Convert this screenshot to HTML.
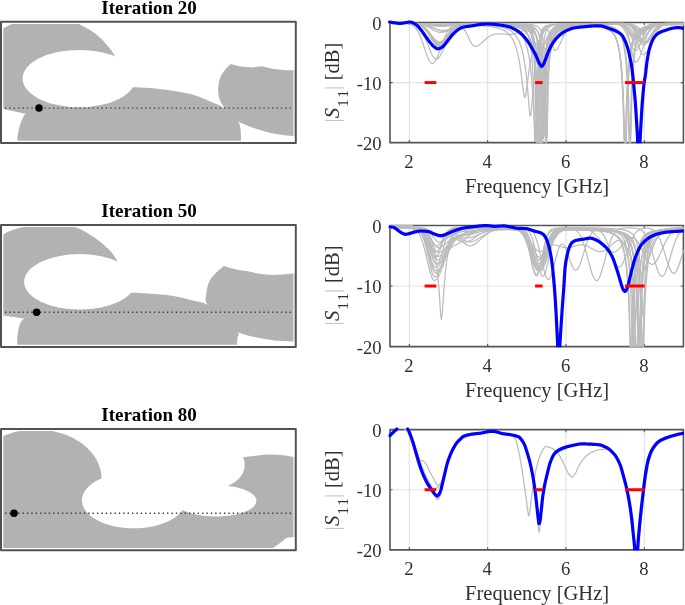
<!DOCTYPE html>
<html><head><meta charset="utf-8"><title>Iterations</title>
<style>html,body{margin:0;padding:0;background:#fff}svg{display:block}text{font-family:"Liberation Serif","Times New Roman",serif;fill:#303030}</style>
</head><body>
<svg width="685" height="605" viewBox="0 0 685 605">
<rect x="0" y="0" width="685" height="605" fill="#fff"/>
<clipPath id="dom0"><rect x="3.3" y="23.95" width="291.5" height="116.75"/></clipPath>
<clipPath id="dom1"><rect x="3.3" y="227.10" width="291.5" height="117.65"/></clipPath>
<clipPath id="dom2"><rect x="3.3" y="431.10" width="291.5" height="116.95"/></clipPath>
<g clip-path="url(#dom0)" fill="#b2b2b2">
<path d="M0.00 109.00 L0.00 29.50 C0.55 29.30 1.78 29.02 3.30 28.30 C4.82 27.58 7.07 26.00 9.10 25.20 C11.13 24.40 12.02 23.93 15.50 23.50 C18.98 23.07 24.92 22.78 30.00 22.60 C35.08 22.42 40.67 22.40 46.00 22.40 C51.33 22.40 56.90 22.42 62.00 22.60 C67.10 22.78 73.25 22.97 76.60 23.50 C79.95 24.03 79.67 24.60 82.10 25.80 C84.53 27.00 88.15 28.67 91.20 30.70 C94.25 32.73 97.93 35.78 100.40 38.00 C102.87 40.22 104.23 42.00 106.00 44.00 C107.77 46.00 109.48 47.93 111.00 50.00 C112.52 52.07 114.42 55.33 115.10 56.40 L80.00 95.00 L40.00 115.50 C37.63 115.22 30.13 114.50 25.80 113.80 C21.47 113.10 17.75 112.10 14.00 111.30 C10.25 110.50 5.63 109.50 3.30 109.00 C0.97 108.50 0.55 108.42 0.00 108.30 Z"/>
<path d="M17.60 143.00 C17.57 142.23 17.25 140.40 17.40 138.40 C17.55 136.40 18.00 133.43 18.50 131.00 C19.00 128.57 19.68 125.97 20.40 123.80 C21.12 121.63 21.90 119.67 22.80 118.00 C23.70 116.33 23.77 115.97 25.80 113.80 C27.83 111.63 29.30 108.30 35.00 105.00 C40.70 101.70 50.83 96.73 60.00 94.00 C69.17 91.27 80.00 89.73 90.00 88.60 C100.00 87.47 112.90 87.43 120.00 87.20 C127.10 86.97 127.60 87.07 132.60 87.20 C137.60 87.33 143.45 87.42 150.00 88.00 C156.55 88.58 164.60 89.53 171.90 90.70 C179.20 91.87 186.50 92.82 193.80 95.00 C201.10 97.18 211.08 101.87 215.70 103.80 C220.32 105.73 219.12 105.07 221.50 106.60 C223.88 108.13 227.20 110.50 230.00 113.00 C232.80 115.50 236.55 118.87 238.30 121.60 C240.05 124.33 240.07 127.17 240.50 129.40 C240.93 131.63 240.83 132.73 240.90 135.00 C240.97 137.27 240.90 141.67 240.90 143.00 L17.60 143.00 Z"/>
<path d="M230.80 63.90 C232.30 64.28 236.57 65.65 239.80 66.20 C243.03 66.75 246.48 67.18 250.20 67.20 C253.92 67.22 260.12 66.45 262.10 66.30 C263.83 66.70 268.78 68.10 272.50 68.70 C276.22 69.30 280.48 69.65 284.40 69.90 C288.32 70.15 294.07 70.15 296.00 70.20 L296.00 136.10 C294.07 135.97 288.82 135.87 284.40 135.30 C279.98 134.73 274.47 133.88 269.50 132.70 C264.53 131.52 258.82 129.62 254.60 128.20 C250.38 126.78 246.92 125.30 244.20 124.20 C241.48 123.10 240.67 122.97 238.30 121.60 C235.93 120.23 231.38 116.93 230.00 116.00 C228.65 114.02 223.75 107.32 221.90 104.10 C220.05 100.88 219.52 99.43 218.90 96.70 C218.28 93.97 217.95 90.93 218.20 87.70 C218.45 84.47 219.28 80.27 220.40 77.30 C221.52 74.33 223.17 72.13 224.90 69.90 C226.63 67.67 229.82 64.90 230.80 63.90 Z"/>
<ellipse cx="79.1" cy="78.6" rx="56.5" ry="28.7" fill="#fff"/>
</g>
<g clip-path="url(#dom1)" fill="#b2b2b2">
<path d="M0.00 315.00 L0.00 236.30 C0.55 236.02 1.78 235.43 3.30 234.60 C4.82 233.77 6.62 232.37 9.10 231.30 C11.58 230.23 15.15 228.98 18.20 228.20 C21.25 227.42 23.77 226.98 27.40 226.60 C31.03 226.22 36.23 226.03 40.00 225.90 C43.77 225.77 46.33 225.78 50.00 225.80 C53.67 225.82 58.17 225.85 62.00 226.00 C65.83 226.15 69.65 226.03 73.00 226.70 C76.35 227.37 79.07 228.53 82.10 230.00 C85.13 231.47 88.15 233.52 91.20 235.50 C94.25 237.48 97.35 239.47 100.40 241.90 C103.45 244.33 107.30 247.87 109.50 250.10 C111.70 252.33 112.28 253.47 113.60 255.30 C114.92 257.13 116.77 260.13 117.40 261.10 L80.00 300.00 L40.00 319.50 C37.35 319.33 28.43 318.92 24.10 318.50 C19.77 318.08 17.47 317.52 14.00 317.00 C10.53 316.48 5.63 315.73 3.30 315.40 C0.97 315.07 0.55 315.07 0.00 315.00 Z"/>
<path d="M17.50 348.00 C17.45 346.42 16.95 342.03 17.20 338.50 C17.45 334.97 18.37 329.55 19.00 326.80 C19.63 324.05 20.15 323.38 21.00 322.00 C21.85 320.62 21.77 320.67 24.10 318.50 C26.43 316.33 29.02 312.25 35.00 309.00 C40.98 305.75 50.00 301.57 60.00 299.00 C70.00 296.43 83.15 294.63 95.00 293.60 C106.85 292.57 121.93 292.78 131.10 292.80 C140.27 292.82 143.20 293.20 150.00 293.70 C156.80 294.20 164.60 294.63 171.90 295.80 C179.20 296.97 187.88 299.23 193.80 300.70 C199.72 302.17 202.20 301.72 207.40 304.60 C212.60 307.48 219.92 313.40 225.00 318.00 C230.08 322.60 235.82 328.87 237.90 332.20 C239.98 335.53 237.72 335.37 237.50 338.00 C237.28 340.63 236.75 346.33 236.60 348.00 L17.50 348.00 Z"/>
<path d="M223.80 266.00 C226.03 266.62 233.23 268.83 237.20 269.70 C241.17 270.57 245.87 270.95 247.60 271.20 C249.58 271.62 255.03 273.08 259.50 273.70 C263.97 274.32 268.32 274.98 274.40 274.90 C280.48 274.82 292.40 273.48 296.00 273.20 L296.00 341.60 C292.40 341.40 280.48 340.98 274.40 340.40 C268.32 339.82 264.47 339.10 259.50 338.10 C254.53 337.10 248.20 335.38 244.60 334.40 C241.00 333.42 241.17 333.77 237.90 332.20 C234.63 330.63 227.15 326.20 225.00 325.00 C222.07 321.60 210.52 309.73 207.40 304.60 C204.28 299.47 206.05 297.92 206.30 294.20 C206.55 290.48 207.47 285.65 208.90 282.30 C210.33 278.95 212.42 276.82 214.90 274.10 C217.38 271.38 222.32 267.35 223.80 266.00 Z"/>
<ellipse cx="79.8" cy="281.8" rx="55.7" ry="27.7" fill="#fff"/>
</g>
<g clip-path="url(#dom2)" fill="#b2b2b2">
<path d="M0.00 552.00L0.00 436.00L0.04 437.55L2.53 436.38L5.08 435.30L7.70 434.31L10.37 433.41L13.10 432.59L15.87 431.87L18.68 431.24L21.52 430.71L24.40 430.27L27.30 429.93L30.21 429.69L33.14 429.55L36.07 429.50L39.00 429.55L41.93 429.70L44.85 429.95L47.74 430.29L50.62 430.74L53.46 431.27L56.27 431.91L59.04 432.63L61.76 433.45L64.43 434.36L67.04 435.35L69.60 436.44L72.08 437.60L74.49 438.85L76.83 440.18L79.08 441.59L81.24 443.07L83.32 444.62L85.30 446.24L87.18 447.92L88.96 449.67L90.63 451.47L92.20 453.33L93.65 455.23L94.98 457.19L96.20 459.19L97.29 461.22L98.27 463.29L99.11 465.39L99.83 467.52L100.43 469.67L100.89 471.84L101.23 474.02L101.43 476.21L101.50 478.40L101.50 478.40L98.47 479.80L95.66 481.33L93.07 482.96L90.72 484.70L88.62 486.53L86.79 488.44L85.24 490.42L83.98 492.46L83.01 494.55L82.34 496.67L81.97 498.81L81.91 500.96L82.16 503.10L82.71 505.23L83.57 507.33L84.72 509.39L86.16 511.40L87.88 513.34L89.87 515.20L92.13 516.98L94.63 518.65L97.36 520.22L100.30 521.67L103.45 523.00L106.77 524.19L110.26 525.24L113.88 526.14L117.62 526.89L121.46 527.49L125.37 527.92L129.33 528.19L133.32 528.30L137.31 528.24L141.28 528.02L145.21 527.63L149.07 527.08L152.84 526.38L156.50 525.52L160.03 524.51L163.40 523.36L166.60 522.07L169.60 520.66L172.40 519.12L174.97 517.48L177.29 515.73L179.36 513.89L181.17 511.97L182.69 509.98L182.69 509.98L184.67 510.96L186.85 511.87L189.20 512.72L191.73 513.49L194.40 514.18L197.20 514.78L200.12 515.30L203.14 515.73L206.23 516.07L209.38 516.31L212.58 516.45L215.79 516.50L219.00 516.45L222.19 516.30L225.35 516.05L228.44 515.71L231.45 515.28L234.36 514.75L237.16 514.14L239.82 513.45L242.33 512.67L244.68 511.82L246.84 510.91L248.82 509.93L250.58 508.89L252.13 507.80L253.45 506.67L254.53 505.50L255.37 504.31L255.97 503.09L256.31 501.86L256.40 500.62L256.23 499.38L255.82 498.15L255.15 496.93L254.23 495.75L253.08 494.59L251.69 493.47L250.08 492.40L248.25 491.38L246.22 490.41L244.00 489.52L241.61 488.69L239.05 487.94L236.34 487.27L233.51 486.68L230.57 486.18L227.53 485.78L227.53 485.78L229.17 485.13L230.76 484.40L232.28 483.60L233.74 482.74L235.13 481.80L236.44 480.81L237.66 479.76L238.80 478.65L239.85 477.49L240.81 476.29L241.67 475.05L242.42 473.76L243.07 472.45L243.62 471.11L244.05 469.74L244.38 468.36L244.59 466.97L244.69 465.56L244.68 464.16L244.56 462.76L244.32 461.37L243.97 459.99L243.52 458.63L242.95 457.29 C245.01 457.02 251.19 456.18 255.30 455.70 C259.41 455.22 263.22 454.50 267.60 454.40 C271.98 454.30 276.87 454.57 281.60 455.10 C286.33 455.63 293.60 457.18 296.00 457.60 L296 537 C295.50 537.02 294.70 536.87 293.00 537.10 C291.30 537.33 287.73 537.57 285.80 538.40 C283.87 539.23 283.42 540.57 281.40 542.10 C279.38 543.63 275.93 545.95 273.70 547.60 C271.47 549.25 268.95 551.27 268.00 552.00 Z"/>
</g>
<rect x="293" y="22.75" width="1.8" height="119.15" fill="#fff" fill-opacity="0.55"/>
<line x1="0.6" y1="108.10" x2="294" y2="108.10" stroke="#3a3a3a" stroke-width="1.45" stroke-dasharray="1.35 3.03"/>
<circle cx="39.00" cy="108.10" r="3.75" fill="#000"/>
<rect x="1.00" y="21.75" width="294.80" height="121.15" fill="none" stroke="#535353" stroke-width="2" stroke-linejoin="round"/>
<text x="149" y="14.05" font-size="19" font-weight="bold" text-anchor="middle" style="fill:#000">Iteration 20</text>
<rect x="293" y="225.90" width="1.8" height="120.05" fill="#fff" fill-opacity="0.55"/>
<line x1="0.6" y1="312.30" x2="294" y2="312.30" stroke="#3a3a3a" stroke-width="1.45" stroke-dasharray="1.35 3.03"/>
<circle cx="36.60" cy="312.30" r="3.75" fill="#000"/>
<rect x="1.00" y="224.90" width="294.80" height="122.05" fill="none" stroke="#535353" stroke-width="2" stroke-linejoin="round"/>
<text x="149" y="217.20" font-size="19" font-weight="bold" text-anchor="middle" style="fill:#000">Iteration 50</text>
<rect x="293" y="429.90" width="1.8" height="119.35" fill="#fff" fill-opacity="0.55"/>
<line x1="0.6" y1="513.20" x2="294" y2="513.20" stroke="#3a3a3a" stroke-width="1.45" stroke-dasharray="1.35 3.03"/>
<circle cx="14.00" cy="513.20" r="3.75" fill="#000"/>
<rect x="1.00" y="428.90" width="294.80" height="121.35" fill="none" stroke="#535353" stroke-width="2" stroke-linejoin="round"/>
<text x="149" y="421.20" font-size="19" font-weight="bold" text-anchor="middle" style="fill:#000">Iteration 80</text>
<clipPath id="ax0"><rect x="389.50" y="21.80" width="294.40" height="121.35"/></clipPath>
<line x1="409.30" y1="22.50" x2="409.30" y2="142.65" stroke="#e4e4e4" stroke-width="1.2"/>
<line x1="487.64" y1="22.50" x2="487.64" y2="142.65" stroke="#e4e4e4" stroke-width="1.2"/>
<line x1="565.98" y1="22.50" x2="565.98" y2="142.65" stroke="#e4e4e4" stroke-width="1.2"/>
<line x1="644.32" y1="22.50" x2="644.32" y2="142.65" stroke="#e4e4e4" stroke-width="1.2"/>
<line x1="390.00" y1="82.58" x2="683.40" y2="82.58" stroke="#e4e4e4" stroke-width="1.2"/>
<rect x="390.00" y="22.50" width="293.40" height="120.15" fill="none" stroke="#555" stroke-width="1.6" stroke-linejoin="round"/>
<path d="M409.30 142.65v-2.60M409.30 22.50v2.60" stroke="#555" stroke-width="1.1"/>
<text x="408.90" y="167.85" font-size="18.67" text-anchor="middle">2</text>
<path d="M487.64 142.65v-2.60M487.64 22.50v2.60" stroke="#555" stroke-width="1.1"/>
<text x="487.24" y="167.85" font-size="18.67" text-anchor="middle">4</text>
<path d="M565.98 142.65v-2.60M565.98 22.50v2.60" stroke="#555" stroke-width="1.1"/>
<text x="565.58" y="167.85" font-size="18.67" text-anchor="middle">6</text>
<path d="M644.32 142.65v-2.60M644.32 22.50v2.60" stroke="#555" stroke-width="1.1"/>
<text x="643.92" y="167.85" font-size="18.67" text-anchor="middle">8</text>
<path d="M390.00 22.50h2.60M683.40 22.50h-2.60" stroke="#555" stroke-width="1.1"/>
<text x="381.6" y="29.60" font-size="18.67" text-anchor="end">0</text>
<path d="M390.00 82.58h2.60M683.40 82.58h-2.60" stroke="#555" stroke-width="1.1"/>
<text x="381.6" y="89.67" font-size="18.67" text-anchor="end">-10</text>
<path d="M390.00 142.65h2.60M683.40 142.65h-2.60" stroke="#555" stroke-width="1.1"/>
<text x="381.6" y="149.75" font-size="18.67" text-anchor="end">-20</text>
<text x="537.1" y="193.05" font-size="20.5" text-anchor="middle">Frequency [GHz]</text>
<text transform="translate(338.9,120.50) rotate(-90)" font-size="20.5"><tspan x="-2" fill="#c4c4c4">|</tspan><tspan x="2.3" font-style="italic">S</tspan><tspan font-size="15.4" x="13.6 22.7" dy="9">11</tspan><tspan x="30.5" dy="-9" fill="#c4c4c4">|</tspan><tspan x="40.3">[dB]</tspan></text>
<g clip-path="url(#ax0)" fill="none" stroke-linejoin="round" stroke-linecap="round" stroke="#bcbcbc" stroke-width="1.25">
<path d="M389.7 23.0L390.5 23.0L391.3 23.0L392.1 23.0L392.8 23.0L393.6 23.0L394.4 23.0L395.2 23.0L396.0 23.0L396.8 23.0L397.5 23.0L398.3 23.0L399.1 23.0L399.9 23.0L400.7 23.0L401.5 23.0L402.2 23.0L403.0 23.0L403.8 23.0L404.6 23.0L405.4 23.0L406.2 23.0L406.9 23.0L407.7 23.0L408.5 23.0L409.3 23.0L410.1 23.0L410.9 23.0L411.7 24.2L412.4 24.2L413.2 24.2L414.0 24.2L414.8 24.3L415.6 24.3L416.4 24.3L417.1 24.3L417.9 24.4L418.7 24.4L419.5 24.5L420.3 24.5L421.1 24.6L421.8 24.7L422.6 24.8L423.4 24.9L424.2 25.0L425.0 25.2L425.8 25.4L426.5 25.6L427.3 25.8L428.1 26.0L428.9 26.2L429.7 26.5L430.5 26.8L431.2 27.1L432.0 27.4L432.8 27.7L433.6 28.0L434.4 28.3L435.2 28.7L435.9 29.0L436.7 29.2L437.5 29.5L438.3 29.7L439.1 30.0L439.9 30.1L440.6 30.3L441.4 30.4L442.2 30.4L443.0 30.4L443.8 30.4L444.6 30.3L445.3 30.2L446.1 30.1L446.9 29.9L447.7 29.7L448.5 29.5L449.3 29.2L450.0 29.0L450.8 28.7L451.6 28.4L452.4 28.1L453.2 27.9L454.0 27.6L454.7 27.3L455.5 27.0L456.3 26.8L457.1 26.6L457.9 26.4L458.7 26.2L459.4 26.0L460.2 25.8L461.0 25.7L461.8 25.6L462.6 25.5L463.4 25.4L464.1 25.3L464.9 25.3L465.7 25.2L466.5 25.2L467.3 25.2L468.1 25.1L468.8 25.1L469.6 25.1L470.4 25.1L471.2 25.1L472.0 25.2L472.8 25.2L473.5 25.2L474.3 25.2L475.1 25.3L475.9 25.3L476.7 25.4L477.5 25.4L478.2 25.4L479.0 25.5L479.8 25.5L480.6 25.6L481.4 25.7L482.2 25.7L482.9 25.8L483.7 25.8L484.5 25.9L485.3 26.0L486.1 26.1L486.9 26.2L487.6 26.2L488.4 26.3L489.2 26.4L490.0 26.5L490.8 26.7L491.6 26.8L492.3 26.9L493.1 27.0L493.9 27.2L494.7 27.4L495.5 27.5L496.3 27.7L497.0 27.9L497.8 28.1L498.6 28.3L499.4 28.6L500.2 28.9L501.0 29.1L501.7 29.5L502.5 29.8L503.3 30.2L504.1 30.6L504.9 31.0L505.7 31.5L506.4 32.1L507.2 32.7L508.0 33.4L508.8 34.1L509.6 35.0L510.4 35.9L511.1 37.0L511.9 38.1L512.7 39.5L513.5 41.0L514.3 42.7L515.1 44.7L515.8 46.9L516.6 49.5L517.4 52.4L518.2 55.8L519.0 59.7L519.8 64.2L520.5 69.3L521.3 75.1L522.1 81.4L522.9 87.8L523.7 93.5L524.5 97.0L525.2 97.0L526.0 93.5L526.8 87.9L527.6 81.5L528.4 75.2L529.2 69.5L529.9 64.5L530.7 60.1L531.5 56.4L532.3 53.2L533.1 50.5L533.9 48.4L534.6 46.6L535.4 45.3L536.2 44.4L537.0 43.8L537.8 43.6L538.6 43.7L539.3 44.0L540.1 44.6L540.9 45.3L541.7 46.1L542.5 46.9L543.3 47.6L544.0 48.2L544.8 48.5L545.6 48.6L546.4 48.4L547.2 47.9L548.0 47.3L548.7 46.6L549.5 45.8L550.3 44.9L551.1 43.9L551.9 42.8L552.7 41.7L553.4 40.5L554.2 39.3L555.0 38.1L555.8 36.9L556.6 35.8L557.4 34.7L558.1 33.7L558.9 32.7L559.7 31.8L560.5 31.0L561.3 30.3L562.1 29.6L562.8 29.0L563.6 28.5L564.4 28.1L565.2 27.7L566.0 27.4L566.8 27.1L567.5 26.8L568.3 26.6L569.1 26.5L569.9 26.3L570.7 26.2L571.5 26.1L572.2 26.1L573.0 26.0L573.8 25.9L574.6 25.9L575.4 25.9L576.2 25.8L576.9 25.8L577.7 25.8L578.5 25.8L579.3 25.8L580.1 25.8L580.9 25.8L581.6 25.8L582.4 25.8L583.2 25.8L584.0 25.8L584.8 25.8L585.6 25.8L586.3 25.8L587.1 25.9L587.9 25.9L588.7 25.9L589.5 26.0L590.3 26.0L591.0 26.0L591.8 26.1L592.6 26.1L593.4 26.2L594.2 26.3L595.0 26.3L595.7 26.4L596.5 26.5L597.3 26.6L598.1 26.7L598.9 26.8L599.7 26.9L600.4 27.1L601.2 27.2L602.0 27.4L602.8 27.6L603.6 27.8L604.4 28.0L605.2 28.2L605.9 28.5L606.7 28.8L607.5 29.2L608.3 29.6L609.1 30.1L609.9 30.6L610.6 31.2L611.4 31.8L612.2 32.6L613.0 33.5L613.8 34.5L614.6 35.8L615.3 37.2L616.1 38.9L616.9 41.0L617.7 43.5L618.5 46.5L619.3 50.2L620.0 54.9L620.8 60.8L621.6 68.3L622.4 78.3L623.2 92.1L624.0 112.6L624.7 147.7L625.5 147.7L626.3 139.4L627.1 107.9L627.9 89.1L628.7 76.2L629.4 66.7L630.2 59.5L631.0 53.8L631.8 49.4L632.6 45.8L633.4 42.9L634.1 40.4L634.9 38.5L635.7 36.8L636.5 35.4L637.3 34.2L638.1 33.1L638.8 32.3L639.6 31.5L640.4 30.8L641.2 30.3L642.0 29.7L642.8 29.3L643.5 28.9L644.3 28.5L645.1 28.2L645.9 27.9L646.7 27.7L647.5 27.4L648.2 27.2L649.0 27.0L649.8 26.8L650.6 26.7L651.4 26.5L652.2 26.4L652.9 26.3L653.7 26.1L654.5 26.0L655.3 25.9L656.1 25.8L656.9 25.8L657.6 25.7L658.4 25.6L659.2 25.5L660.0 25.5L660.8 25.4L661.6 25.3L662.3 25.3L663.1 25.2L663.9 25.2L664.7 25.1L665.5 25.1L666.3 25.1L667.0 25.0L667.8 25.0L668.6 24.9L669.4 24.9L670.2 24.9L671.0 24.9L671.7 24.8L672.5 24.8L673.3 24.8L674.1 24.7L674.9 24.7L675.7 24.7L676.4 24.7L677.2 24.7L678.0 24.6L678.8 24.6L679.6 24.6L680.4 24.6L681.1 24.6L681.9 24.6L682.7 24.5L683.5 24.5"/>
<path d="M389.7 22.8L390.5 22.8L391.3 22.8L392.1 22.8L392.8 22.8L393.6 22.8L394.4 22.8L395.2 22.8L396.0 22.8L396.8 22.8L397.5 22.8L398.3 22.8L399.1 22.8L399.9 22.8L400.7 22.8L401.5 22.8L402.2 22.8L403.0 22.8L403.8 22.8L404.6 22.8L405.4 22.8L406.2 22.8L406.9 22.8L407.7 22.8L408.5 22.8L409.3 22.8L410.1 22.8L410.9 22.8L411.7 23.6L412.4 23.6L413.2 23.6L414.0 23.7L414.8 23.7L415.6 23.7L416.4 23.7L417.1 23.8L417.9 23.8L418.7 23.8L419.5 23.9L420.3 24.0L421.1 24.1L421.8 24.1L422.6 24.2L423.4 24.4L424.2 24.5L425.0 24.7L425.8 24.9L426.5 25.1L427.3 25.3L428.1 25.5L428.9 25.8L429.7 26.1L430.5 26.4L431.2 26.7L432.0 27.1L432.8 27.5L433.6 27.8L434.4 28.2L435.2 28.6L435.9 29.0L436.7 29.4L437.5 29.7L438.3 30.1L439.1 30.4L439.9 30.7L440.6 31.0L441.4 31.2L442.2 31.4L443.0 31.5L443.8 31.6L444.6 31.6L445.3 31.6L446.1 31.5L446.9 31.4L447.7 31.3L448.5 31.1L449.3 30.9L450.0 30.6L450.8 30.3L451.6 30.0L452.4 29.7L453.2 29.4L454.0 29.0L454.7 28.7L455.5 28.3L456.3 28.0L457.1 27.6L457.9 27.3L458.7 27.0L459.4 26.7L460.2 26.4L461.0 26.2L461.8 25.9L462.6 25.7L463.4 25.5L464.1 25.3L464.9 25.2L465.7 25.1L466.5 24.9L467.3 24.8L468.1 24.8L468.8 24.7L469.6 24.6L470.4 24.6L471.2 24.6L472.0 24.5L472.8 24.5L473.5 24.5L474.3 24.5L475.1 24.5L475.9 24.5L476.7 24.6L477.5 24.6L478.2 24.6L479.0 24.6L479.8 24.7L480.6 24.7L481.4 24.7L482.2 24.8L482.9 24.8L483.7 24.9L484.5 24.9L485.3 25.0L486.1 25.0L486.9 25.1L487.6 25.2L488.4 25.2L489.2 25.3L490.0 25.4L490.8 25.4L491.6 25.5L492.3 25.6L493.1 25.7L493.9 25.8L494.7 25.9L495.5 26.0L496.3 26.1L497.0 26.2L497.8 26.4L498.6 26.5L499.4 26.7L500.2 26.8L501.0 27.0L501.7 27.2L502.5 27.4L503.3 27.6L504.1 27.9L504.9 28.1L505.7 28.4L506.4 28.7L507.2 29.0L508.0 29.4L508.8 29.8L509.6 30.2L510.4 30.7L511.1 31.2L511.9 31.7L512.7 32.4L513.5 33.1L514.3 33.9L515.1 34.7L515.8 35.7L516.6 36.8L517.4 38.1L518.2 39.5L519.0 41.1L519.8 42.9L520.5 45.0L521.3 47.4L522.1 50.2L522.9 53.5L523.7 57.2L524.5 61.7L525.2 66.9L526.0 73.0L526.8 80.2L527.6 88.8L528.4 98.4L529.2 108.4L529.9 115.5L530.7 115.5L531.5 108.4L532.3 98.5L533.1 88.8L533.9 80.4L534.6 73.2L535.4 67.2L536.2 62.1L537.0 57.9L537.8 54.4L538.6 51.5L539.3 49.1L540.1 47.2L540.9 45.8L541.7 44.7L542.5 43.9L543.3 43.4L544.0 43.2L544.8 43.1L545.6 43.1L546.4 43.2L547.2 43.3L548.0 43.4L548.7 43.3L549.5 43.1L550.3 42.7L551.1 42.1L551.9 41.6L552.7 40.9L553.4 40.2L554.2 39.4L555.0 38.6L555.8 37.8L556.6 36.9L557.4 36.0L558.1 35.1L558.9 34.2L559.7 33.3L560.5 32.5L561.3 31.7L562.1 30.9L562.8 30.2L563.6 29.6L564.4 29.0L565.2 28.4L566.0 27.9L566.8 27.5L567.5 27.1L568.3 26.7L569.1 26.4L569.9 26.2L570.7 26.0L571.5 25.8L572.2 25.6L573.0 25.4L573.8 25.3L574.6 25.2L575.4 25.1L576.2 25.0L576.9 24.9L577.7 24.9L578.5 24.8L579.3 24.8L580.1 24.7L580.9 24.7L581.6 24.6L582.4 24.6L583.2 24.5L584.0 24.5L584.8 24.5L585.6 24.4L586.3 24.4L587.1 24.4L587.9 24.4L588.7 24.3L589.5 24.3L590.3 24.3L591.0 24.3L591.8 24.2L592.6 24.2L593.4 24.2L594.2 24.2L595.0 24.2L595.7 24.1L596.5 24.1L597.3 24.1L598.1 24.1L598.9 24.1L599.7 24.1L600.4 24.0L601.2 24.0L602.0 24.0L602.8 24.0L603.6 24.0L604.4 24.0L605.2 24.0L605.9 23.9L606.7 23.9L607.5 23.9L608.3 23.9L609.1 23.9L609.9 23.9L610.6 23.9L611.4 23.9L612.2 23.9L613.0 23.8L613.8 23.8L614.6 23.8L615.3 23.8L616.1 23.8L616.9 23.8L617.7 23.8L618.5 23.8L619.3 23.8L620.0 23.8L620.8 23.9L621.6 23.9L622.4 24.0L623.2 24.1L624.0 24.2L624.7 24.4L625.5 24.7L626.3 25.0L627.1 25.5L627.9 26.0L628.7 26.7L629.4 27.6L630.2 28.6L631.0 29.7L631.8 30.9L632.6 32.3L633.4 33.7L634.1 35.2L634.9 36.6L635.7 38.0L636.5 39.2L637.3 40.2L638.1 41.0L638.8 41.5L639.6 41.7L640.4 41.6L641.2 41.3L642.0 40.8L642.8 40.2L643.5 39.4L644.3 38.5L645.1 37.5L645.9 36.4L646.7 35.2L647.5 34.1L648.2 33.0L649.0 31.9L649.8 30.8L650.6 29.8L651.4 28.9L652.2 28.1L652.9 27.3L653.7 26.7L654.5 26.1L655.3 25.6L656.1 25.2L656.9 24.9L657.6 24.6L658.4 24.3L659.2 24.2L660.0 24.0L660.8 23.9L661.6 23.8L662.3 23.7L663.1 23.7L663.9 23.6L664.7 23.6L665.5 23.6L666.3 23.6L667.0 23.6L667.8 23.5L668.6 23.5L669.4 23.5L670.2 23.5L671.0 23.5L671.7 23.5L672.5 23.5L673.3 23.5L674.1 23.5L674.9 23.5L675.7 23.5L676.4 23.5L677.2 23.5L678.0 23.5L678.8 23.5L679.6 23.5L680.4 23.5L681.1 23.5L681.9 23.5L682.7 23.5L683.5 23.5"/>
<path d="M389.7 22.8L390.5 22.8L391.3 22.8L392.1 22.8L392.8 22.8L393.6 22.8L394.4 22.8L395.2 22.8L396.0 22.8L396.8 22.8L397.5 22.8L398.3 22.8L399.1 22.8L399.9 22.8L400.7 22.8L401.5 22.8L402.2 22.8L403.0 22.8L403.8 22.8L404.6 22.8L405.4 22.8L406.2 22.8L406.9 22.8L407.7 22.8L408.5 22.8L409.3 22.8L410.1 22.8L410.9 22.8L411.7 23.4L412.4 23.5L413.2 23.5L414.0 23.5L414.8 23.6L415.6 23.6L416.4 23.7L417.1 23.7L417.9 23.8L418.7 23.9L419.5 24.0L420.3 24.2L421.1 24.3L421.8 24.5L422.6 24.7L423.4 24.9L424.2 25.2L425.0 25.5L425.8 25.8L426.5 26.2L427.3 26.5L428.1 26.9L428.9 27.4L429.7 27.8L430.5 28.3L431.2 28.7L432.0 29.2L432.8 29.7L433.6 30.1L434.4 30.6L435.2 31.0L435.9 31.3L436.7 31.7L437.5 31.9L438.3 32.2L439.1 32.3L439.9 32.4L440.6 32.5L441.4 32.4L442.2 32.3L443.0 32.2L443.8 32.0L444.6 31.7L445.3 31.5L446.1 31.1L446.9 30.7L447.7 30.3L448.5 29.9L449.3 29.5L450.0 29.1L450.8 28.6L451.6 28.2L452.4 27.7L453.2 27.3L454.0 26.9L454.7 26.6L455.5 26.2L456.3 25.9L457.1 25.6L457.9 25.3L458.7 25.1L459.4 24.8L460.2 24.6L461.0 24.5L461.8 24.3L462.6 24.2L463.4 24.1L464.1 24.0L464.9 23.9L465.7 23.8L466.5 23.8L467.3 23.8L468.1 23.7L468.8 23.7L469.6 23.7L470.4 23.7L471.2 23.6L472.0 23.6L472.8 23.6L473.5 23.6L474.3 23.6L475.1 23.6L475.9 23.6L476.7 23.6L477.5 23.6L478.2 23.7L479.0 23.7L479.8 23.7L480.6 23.7L481.4 23.7L482.2 23.7L482.9 23.7L483.7 23.7L484.5 23.7L485.3 23.7L486.1 23.7L486.9 23.8L487.6 23.8L488.4 23.8L489.2 23.8L490.0 23.8L490.8 23.8L491.6 23.8L492.3 23.9L493.1 23.9L493.9 23.9L494.7 23.9L495.5 23.9L496.3 23.9L497.0 24.0L497.8 24.0L498.6 24.0L499.4 24.0L500.2 24.1L501.0 24.1L501.7 24.1L502.5 24.2L503.3 24.2L504.1 24.2L504.9 24.3L505.7 24.3L506.4 24.3L507.2 24.4L508.0 24.4L508.8 24.5L509.6 24.5L510.4 24.6L511.1 24.7L511.9 24.7L512.7 24.8L513.5 24.9L514.3 25.0L515.1 25.0L515.8 25.1L516.6 25.3L517.4 25.4L518.2 25.5L519.0 25.7L519.8 25.8L520.5 26.0L521.3 26.2L522.1 26.4L522.9 26.7L523.7 26.9L524.5 27.2L525.2 27.6L526.0 28.0L526.8 28.5L527.6 29.0L528.4 29.6L529.2 30.4L529.9 31.2L530.7 32.2L531.5 33.4L532.3 34.9L533.1 36.7L533.9 38.9L534.6 41.7L535.4 45.2L536.2 49.7L537.0 55.6L537.8 63.5L538.6 74.4L539.3 90.3L540.1 115.9L540.9 147.7L541.7 147.7L542.5 112.4L543.3 88.3L544.0 73.1L544.8 62.6L545.6 55.0L546.4 49.2L547.2 44.9L548.0 41.4L548.7 38.8L549.5 36.6L550.3 34.8L551.1 33.4L551.9 32.2L552.7 31.2L553.4 30.4L554.2 29.7L555.0 29.1L555.8 28.6L556.6 28.1L557.4 27.7L558.1 27.4L558.9 27.1L559.7 26.8L560.5 26.6L561.3 26.4L562.1 26.2L562.8 26.1L563.6 25.9L564.4 25.8L565.2 25.7L566.0 25.6L566.8 25.5L567.5 25.4L568.3 25.3L569.1 25.2L569.9 25.2L570.7 25.1L571.5 25.1L572.2 25.0L573.0 25.0L573.8 25.0L574.6 24.9L575.4 24.9L576.2 24.9L576.9 24.9L577.7 24.8L578.5 24.8L579.3 24.8L580.1 24.8L580.9 24.8L581.6 24.8L582.4 24.8L583.2 24.8L584.0 24.8L584.8 24.9L585.6 24.9L586.3 24.9L587.1 24.9L587.9 24.9L588.7 25.0L589.5 25.0L590.3 25.1L591.0 25.1L591.8 25.1L592.6 25.2L593.4 25.3L594.2 25.3L595.0 25.4L595.7 25.5L596.5 25.6L597.3 25.7L598.1 25.8L598.9 25.9L599.7 26.0L600.4 26.1L601.2 26.3L602.0 26.5L602.8 26.7L603.6 26.9L604.4 27.1L605.2 27.4L605.9 27.6L606.7 28.0L607.5 28.3L608.3 28.7L609.1 29.2L609.9 29.7L610.6 30.4L611.4 31.1L612.2 31.9L613.0 32.8L613.8 33.9L614.6 35.3L615.3 36.8L616.1 38.7L616.9 40.9L617.7 43.7L618.5 47.1L619.3 51.4L620.0 56.7L620.8 63.6L621.6 72.7L622.4 85.2L623.2 103.2L624.0 133.0L624.7 147.7L625.5 147.7L626.3 112.4L627.1 91.1L627.9 76.9L628.7 66.7L629.4 59.1L630.2 53.2L631.0 48.6L631.8 44.9L632.6 41.9L633.4 39.4L634.1 37.4L634.9 35.7L635.7 34.3L636.5 33.1L637.3 32.1L638.1 31.2L638.8 30.5L639.6 29.8L640.4 29.3L641.2 28.8L642.0 28.3L642.8 27.9L643.5 27.6L644.3 27.3L645.1 27.0L645.9 26.8L646.7 26.5L647.5 26.3L648.2 26.1L649.0 26.0L649.8 25.8L650.6 25.7L651.4 25.5L652.2 25.4L652.9 25.3L653.7 25.2L654.5 25.1L655.3 25.0L656.1 25.0L656.9 24.9L657.6 24.8L658.4 24.7L659.2 24.7L660.0 24.6L660.8 24.6L661.6 24.5L662.3 24.5L663.1 24.4L663.9 24.4L664.7 24.3L665.5 24.3L666.3 24.3L667.0 24.2L667.8 24.2L668.6 24.2L669.4 24.1L670.2 24.1L671.0 24.1L671.7 24.1L672.5 24.0L673.3 24.0L674.1 24.0L674.9 24.0L675.7 24.0L676.4 23.9L677.2 23.9L678.0 23.9L678.8 23.9L679.6 23.9L680.4 23.9L681.1 23.8L681.9 23.8L682.7 23.8L683.5 23.8"/>
<path d="M389.7 22.9L390.5 22.9L391.3 22.9L392.1 22.9L392.8 22.9L393.6 22.9L394.4 22.9L395.2 22.9L396.0 22.9L396.8 22.9L397.5 22.9L398.3 22.9L399.1 22.9L399.9 22.9L400.7 22.9L401.5 22.9L402.2 22.9L403.0 22.9L403.8 22.9L404.6 22.9L405.4 22.9L406.2 22.9L406.9 22.9L407.7 22.9L408.5 22.9L409.3 22.9L410.1 22.9L410.9 22.9L411.7 23.8L412.4 23.8L413.2 23.9L414.0 23.9L414.8 24.0L415.6 24.0L416.4 24.1L417.1 24.2L417.9 24.4L418.7 24.5L419.5 24.7L420.3 25.0L421.1 25.3L421.8 25.7L422.6 26.1L423.4 26.5L424.2 27.1L425.0 27.7L425.8 28.4L426.5 29.1L427.3 30.0L428.1 30.8L428.9 31.8L429.7 32.8L430.5 33.8L431.2 34.8L432.0 35.8L432.8 36.8L433.6 37.8L434.4 38.7L435.2 39.5L435.9 40.2L436.7 40.8L437.5 41.3L438.3 41.6L439.1 41.8L439.9 41.8L440.6 41.6L441.4 41.4L442.2 40.9L443.0 40.4L443.8 39.7L444.6 39.0L445.3 38.2L446.1 37.3L446.9 36.3L447.7 35.4L448.5 34.4L449.3 33.4L450.0 32.5L450.8 31.5L451.6 30.7L452.4 29.8L453.2 29.1L454.0 28.4L454.7 27.7L455.5 27.1L456.3 26.6L457.1 26.2L457.9 25.8L458.7 25.4L459.4 25.2L460.2 24.9L461.0 24.7L461.8 24.5L462.6 24.4L463.4 24.3L464.1 24.2L464.9 24.1L465.7 24.1L466.5 24.0L467.3 24.0L468.1 24.0L468.8 24.0L469.6 23.9L470.4 23.9L471.2 23.9L472.0 23.9L472.8 23.9L473.5 23.9L474.3 23.9L475.1 23.9L475.9 23.9L476.7 23.9L477.5 24.0L478.2 24.0L479.0 24.0L479.8 24.0L480.6 24.0L481.4 24.0L482.2 24.0L482.9 24.0L483.7 24.0L484.5 24.0L485.3 24.0L486.1 24.0L486.9 24.1L487.6 24.1L488.4 24.1L489.2 24.1L490.0 24.1L490.8 24.1L491.6 24.1L492.3 24.1L493.1 24.1L493.9 24.2L494.7 24.2L495.5 24.2L496.3 24.2L497.0 24.2L497.8 24.2L498.6 24.3L499.4 24.3L500.2 24.3L501.0 24.3L501.7 24.4L502.5 24.4L503.3 24.4L504.1 24.4L504.9 24.5L505.7 24.5L506.4 24.5L507.2 24.6L508.0 24.6L508.8 24.6L509.6 24.7L510.4 24.7L511.1 24.8L511.9 24.8L512.7 24.9L513.5 25.0L514.3 25.0L515.1 25.1L515.8 25.2L516.6 25.2L517.4 25.3L518.2 25.4L519.0 25.5L519.8 25.6L520.5 25.8L521.3 25.9L522.1 26.0L522.9 26.2L523.7 26.4L524.5 26.6L525.2 26.8L526.0 27.0L526.8 27.3L527.6 27.6L528.4 28.0L529.2 28.4L529.9 28.8L530.7 29.3L531.5 29.9L532.3 30.6L533.1 31.4L533.9 32.3L534.6 33.4L535.4 34.7L536.2 36.3L537.0 38.2L537.8 40.5L538.6 43.3L539.3 46.8L540.1 51.3L540.9 56.8L541.7 63.9L542.5 72.8L543.3 84.0L544.0 96.8L544.8 106.4L545.6 104.5L546.4 93.2L547.2 80.7L548.0 70.1L548.7 61.7L549.5 55.1L550.3 49.9L551.1 45.8L551.9 42.5L552.7 39.8L553.4 37.6L554.2 35.8L555.0 34.3L555.8 33.1L556.6 32.0L557.4 31.2L558.1 30.4L558.9 29.7L559.7 29.2L560.5 28.7L561.3 28.2L562.1 27.9L562.8 27.5L563.6 27.2L564.4 27.0L565.2 26.7L566.0 26.5L566.8 26.3L567.5 26.2L568.3 26.0L569.1 25.9L569.9 25.7L570.7 25.6L571.5 25.5L572.2 25.4L573.0 25.3L573.8 25.2L574.6 25.1L575.4 25.1L576.2 25.0L576.9 24.9L577.7 24.9L578.5 24.8L579.3 24.8L580.1 24.7L580.9 24.7L581.6 24.6L582.4 24.6L583.2 24.6L584.0 24.5L584.8 24.5L585.6 24.5L586.3 24.4L587.1 24.4L587.9 24.4L588.7 24.4L589.5 24.3L590.3 24.3L591.0 24.3L591.8 24.3L592.6 24.2L593.4 24.2L594.2 24.2L595.0 24.2L595.7 24.2L596.5 24.2L597.3 24.1L598.1 24.1L598.9 24.1L599.7 24.1L600.4 24.1L601.2 24.1L602.0 24.1L602.8 24.1L603.6 24.0L604.4 24.0L605.2 24.0L605.9 24.0L606.7 24.0L607.5 24.0L608.3 24.0L609.1 24.0L609.9 24.0L610.6 24.0L611.4 24.0L612.2 24.0L613.0 24.0L613.8 23.9L614.6 23.9L615.3 23.9L616.1 23.9L616.9 23.9L617.7 23.9L618.5 23.9L619.3 23.9L620.0 23.9L620.8 23.9L621.6 23.9L622.4 24.0L623.2 24.0L624.0 24.1L624.7 24.1L625.5 24.2L626.3 24.3L627.1 24.5L627.9 24.7L628.7 25.0L629.4 25.3L630.2 25.8L631.0 26.3L631.8 26.9L632.6 27.6L633.4 28.4L634.1 29.4L634.9 30.4L635.7 31.6L636.5 32.8L637.3 34.1L638.1 35.4L638.8 36.8L639.6 38.1L640.4 39.3L641.2 40.4L642.0 41.3L642.8 42.1L643.5 42.6L644.3 42.9L645.1 43.0L645.9 42.9L646.7 42.5L647.5 42.0L648.2 41.3L649.0 40.5L649.8 39.5L650.6 38.5L651.4 37.3L652.2 36.2L652.9 35.0L653.7 33.8L654.5 32.7L655.3 31.6L656.1 30.5L656.9 29.6L657.6 28.7L658.4 27.9L659.2 27.2L660.0 26.6L660.8 26.1L661.6 25.6L662.3 25.3L663.1 24.9L663.9 24.7L664.7 24.5L665.5 24.3L666.3 24.2L667.0 24.1L667.8 24.0L668.6 23.9L669.4 23.9L670.2 23.8L671.0 23.8L671.7 23.8L672.5 23.8L673.3 23.8L674.1 23.8L674.9 23.8L675.7 23.7L676.4 23.7L677.2 23.7L678.0 23.7L678.8 23.7L679.6 23.7L680.4 23.7L681.1 23.7L681.9 23.7L682.7 23.7L683.5 23.7"/>
<path d="M389.7 22.8L390.5 22.8L391.3 22.8L392.1 22.8L392.8 22.8L393.6 22.8L394.4 22.8L395.2 22.8L396.0 22.8L396.8 22.8L397.5 22.8L398.3 22.8L399.1 22.8L399.9 22.8L400.7 22.8L401.5 22.8L402.2 22.8L403.0 22.8L403.8 22.8L404.6 22.8L405.4 22.8L406.2 22.8L406.9 22.8L407.7 22.8L408.5 22.8L409.3 22.8L410.1 22.8L410.9 22.8L411.7 23.5L412.4 23.6L413.2 23.6L414.0 23.6L414.8 23.7L415.6 23.8L416.4 23.9L417.1 24.0L417.9 24.2L418.7 24.4L419.5 24.6L420.3 24.9L421.1 25.3L421.8 25.7L422.6 26.2L423.4 26.7L424.2 27.3L425.0 28.0L425.8 28.8L426.5 29.6L427.3 30.5L428.1 31.5L428.9 32.5L429.7 33.6L430.5 34.7L431.2 35.8L432.0 36.9L432.8 37.9L433.6 38.9L434.4 39.8L435.2 40.7L435.9 41.4L436.7 41.9L437.5 42.3L438.3 42.6L439.1 42.7L439.9 42.6L440.6 42.4L441.4 42.0L442.2 41.5L443.0 40.8L443.8 40.1L444.6 39.2L445.3 38.3L446.1 37.3L446.9 36.3L447.7 35.3L448.5 34.2L449.3 33.2L450.0 32.2L450.8 31.2L451.6 30.3L452.4 29.5L453.2 28.7L454.0 28.0L454.7 27.3L455.5 26.7L456.3 26.2L457.1 25.8L457.9 25.4L458.7 25.0L459.4 24.7L460.2 24.5L461.0 24.3L461.8 24.1L462.6 24.0L463.4 23.9L464.1 23.8L464.9 23.7L465.7 23.7L466.5 23.6L467.3 23.6L468.1 23.6L468.8 23.6L469.6 23.5L470.4 23.5L471.2 23.5L472.0 23.5L472.8 23.5L473.5 23.5L474.3 23.5L475.1 23.5L475.9 23.5L476.7 23.5L477.5 23.5L478.2 23.5L479.0 23.5L479.8 23.5L480.6 23.5L481.4 23.5L482.2 23.5L482.9 23.5L483.7 23.5L484.5 23.5L485.3 23.5L486.1 23.6L486.9 23.6L487.6 23.6L488.4 23.6L489.2 23.6L490.0 23.6L490.8 23.6L491.6 23.6L492.3 23.6L493.1 23.6L493.9 23.6L494.7 23.6L495.5 23.6L496.3 23.6L497.0 23.6L497.8 23.6L498.6 23.6L499.4 23.6L500.2 23.6L501.0 23.6L501.7 23.7L502.5 23.7L503.3 23.7L504.1 23.7L504.9 23.7L505.7 23.7L506.4 23.7L507.2 23.7L508.0 23.7L508.8 23.8L509.6 23.8L510.4 23.8L511.1 23.8L511.9 23.8L512.7 23.9L513.5 23.9L514.3 23.9L515.1 23.9L515.8 24.0L516.6 24.0L517.4 24.1L518.2 24.1L519.0 24.2L519.8 24.2L520.5 24.3L521.3 24.4L522.1 24.5L522.9 24.6L523.7 24.7L524.5 24.8L525.2 25.0L526.0 25.2L526.8 25.5L527.6 25.8L528.4 26.3L529.2 26.8L529.9 27.6L530.7 28.6L531.5 30.1L532.3 32.2L533.1 35.5L533.9 41.0L534.6 50.6L535.4 69.2L536.2 113.8L537.0 131.1L537.8 74.9L538.6 53.3L539.3 42.5L540.1 36.4L540.9 32.8L541.7 30.5L542.5 28.9L543.3 27.8L544.0 27.0L544.8 26.4L545.6 26.0L546.4 25.7L547.2 25.4L548.0 25.2L548.7 25.0L549.5 24.8L550.3 24.7L551.1 24.6L551.9 24.5L552.7 24.4L553.4 24.4L554.2 24.3L555.0 24.3L555.8 24.2L556.6 24.2L557.4 24.2L558.1 24.2L558.9 24.1L559.7 24.1L560.5 24.1L561.3 24.1L562.1 24.1L562.8 24.1L563.6 24.1L564.4 24.1L565.2 24.1L566.0 24.1L566.8 24.1L567.5 24.1L568.3 24.1L569.1 24.1L569.9 24.1L570.7 24.1L571.5 24.1L572.2 24.1L573.0 24.1L573.8 24.1L574.6 24.1L575.4 24.1L576.2 24.2L576.9 24.2L577.7 24.2L578.5 24.2L579.3 24.2L580.1 24.3L580.9 24.3L581.6 24.3L582.4 24.3L583.2 24.4L584.0 24.4L584.8 24.4L585.6 24.5L586.3 24.5L587.1 24.5L587.9 24.6L588.7 24.6L589.5 24.7L590.3 24.7L591.0 24.8L591.8 24.8L592.6 24.9L593.4 25.0L594.2 25.0L595.0 25.1L595.7 25.2L596.5 25.3L597.3 25.4L598.1 25.5L598.9 25.6L599.7 25.8L600.4 25.9L601.2 26.1L602.0 26.2L602.8 26.4L603.6 26.6L604.4 26.9L605.2 27.1L605.9 27.4L606.7 27.7L607.5 28.1L608.3 28.5L609.1 29.0L609.9 29.5L610.6 30.1L611.4 30.8L612.2 31.6L613.0 32.5L613.8 33.7L614.6 35.0L615.3 36.5L616.1 38.4L616.9 40.6L617.7 43.4L618.5 46.8L619.3 51.1L620.0 56.5L620.8 63.4L621.6 72.7L622.4 85.4L623.2 103.9L624.0 135.0L624.7 147.7L625.5 146.2L626.3 109.7L627.1 89.1L627.9 75.3L628.7 65.4L629.4 58.0L630.2 52.2L631.0 47.7L631.8 44.1L632.6 41.2L633.4 38.9L634.1 36.9L634.9 35.3L635.7 33.9L636.5 32.8L637.3 31.8L638.1 31.0L638.8 30.2L639.6 29.6L640.4 29.1L641.2 28.6L642.0 28.2L642.8 27.8L643.5 27.5L644.3 27.2L645.1 26.9L645.9 26.7L646.7 26.4L647.5 26.2L648.2 26.1L649.0 25.9L649.8 25.8L650.6 25.6L651.4 25.5L652.2 25.4L652.9 25.3L653.7 25.2L654.5 25.1L655.3 25.0L656.1 24.9L656.9 24.9L657.6 24.8L658.4 24.7L659.2 24.7L660.0 24.6L660.8 24.6L661.6 24.5L662.3 24.5L663.1 24.4L663.9 24.4L664.7 24.4L665.5 24.3L666.3 24.3L667.0 24.3L667.8 24.2L668.6 24.2L669.4 24.2L670.2 24.1L671.0 24.1L671.7 24.1L672.5 24.1L673.3 24.0L674.1 24.0L674.9 24.0L675.7 24.0L676.4 24.0L677.2 24.0L678.0 23.9L678.8 23.9L679.6 23.9L680.4 23.9L681.1 23.9L681.9 23.9L682.7 23.9L683.5 23.8"/>
<path d="M389.7 22.8L390.5 22.8L391.3 22.8L392.1 22.8L392.8 22.8L393.6 22.8L394.4 22.8L395.2 22.8L396.0 22.8L396.8 22.8L397.5 22.8L398.3 22.8L399.1 22.8L399.9 22.8L400.7 22.8L401.5 22.8L402.2 22.8L403.0 22.8L403.8 22.8L404.6 22.8L405.4 22.8L406.2 22.8L406.9 22.8L407.7 22.8L408.5 22.8L409.3 22.8L410.1 22.8L410.9 22.9L411.7 23.7L412.4 23.7L413.2 23.7L414.0 23.8L414.8 23.8L415.6 23.9L416.4 24.0L417.1 24.1L417.9 24.3L418.7 24.4L419.5 24.6L420.3 24.9L421.1 25.2L421.8 25.6L422.6 26.0L423.4 26.5L424.2 27.1L425.0 27.7L425.8 28.5L426.5 29.3L427.3 30.2L428.1 31.2L428.9 32.2L429.7 33.3L430.5 34.4L431.2 35.6L432.0 36.7L432.8 37.9L433.6 39.0L434.4 40.1L435.2 41.1L435.9 41.9L436.7 42.7L437.5 43.3L438.3 43.7L439.1 44.0L439.9 44.1L440.6 44.0L441.4 43.8L442.2 43.4L443.0 42.8L443.8 42.1L444.6 41.3L445.3 40.4L446.1 39.5L446.9 38.4L447.7 37.3L448.5 36.2L449.3 35.1L450.0 34.0L450.8 32.9L451.6 31.9L452.4 31.0L453.2 30.1L454.0 29.2L454.7 28.5L455.5 27.8L456.3 27.1L457.1 26.6L457.9 26.1L458.7 25.7L459.4 25.3L460.2 25.0L461.0 24.8L461.8 24.6L462.6 24.4L463.4 24.3L464.1 24.1L464.9 24.1L465.7 24.0L466.5 23.9L467.3 23.9L468.1 23.8L468.8 23.8L469.6 23.8L470.4 23.8L471.2 23.8L472.0 23.8L472.8 23.8L473.5 23.8L474.3 23.8L475.1 23.8L475.9 23.8L476.7 23.8L477.5 23.8L478.2 23.8L479.0 23.8L479.8 23.8L480.6 23.8L481.4 23.8L482.2 23.8L482.9 23.8L483.7 23.8L484.5 23.9L485.3 23.9L486.1 23.9L486.9 23.9L487.6 23.9L488.4 23.9L489.2 23.9L490.0 23.9L490.8 23.9L491.6 24.0L492.3 24.0L493.1 24.0L493.9 24.0L494.7 24.0L495.5 24.0L496.3 24.0L497.0 24.1L497.8 24.1L498.6 24.1L499.4 24.1L500.2 24.2L501.0 24.2L501.7 24.2L502.5 24.2L503.3 24.3L504.1 24.3L504.9 24.3L505.7 24.4L506.4 24.4L507.2 24.5L508.0 24.5L508.8 24.6L509.6 24.6L510.4 24.7L511.1 24.8L511.9 24.9L512.7 25.0L513.5 25.1L514.3 25.2L515.1 25.3L515.8 25.4L516.6 25.6L517.4 25.8L518.2 26.0L519.0 26.2L519.8 26.4L520.5 26.7L521.3 27.1L522.1 27.5L522.9 28.0L523.7 28.5L524.5 29.2L525.2 30.1L526.0 31.1L526.8 32.4L527.6 33.9L528.4 36.0L529.2 38.7L529.9 42.2L530.7 46.9L531.5 53.6L532.3 63.1L533.1 77.2L533.9 100.1L534.6 141.5L535.4 141.2L536.2 99.9L537.0 77.1L537.8 63.0L538.6 53.5L539.3 46.9L540.1 42.1L540.9 38.6L541.7 36.0L542.5 34.0L543.3 32.4L544.0 31.2L544.8 30.3L545.6 29.7L546.4 29.4L547.2 29.5L548.0 30.2L548.7 31.4L549.5 33.2L550.3 35.7L551.1 38.8L551.9 42.1L552.7 45.4L553.4 48.2L554.2 50.0L555.0 50.5L555.8 50.2L556.6 49.7L557.4 48.8L558.1 47.6L558.9 46.3L559.7 44.8L560.5 43.1L561.3 41.3L562.1 39.6L562.8 37.8L563.6 36.1L564.4 34.4L565.2 32.9L566.0 31.5L566.8 30.3L567.5 29.1L568.3 28.2L569.1 27.4L569.9 26.7L570.7 26.1L571.5 25.6L572.2 25.2L573.0 24.9L573.8 24.7L574.6 24.5L575.4 24.3L576.2 24.2L576.9 24.1L577.7 24.1L578.5 24.0L579.3 24.0L580.1 24.0L580.9 23.9L581.6 23.9L582.4 23.9L583.2 23.9L584.0 23.9L584.8 23.9L585.6 23.9L586.3 23.8L587.1 23.8L587.9 23.8L588.7 23.8L589.5 23.8L590.3 23.8L591.0 23.8L591.8 23.8L592.6 23.8L593.4 23.8L594.2 23.8L595.0 23.8L595.7 23.8L596.5 23.8L597.3 23.8L598.1 23.8L598.9 23.8L599.7 23.7L600.4 23.7L601.2 23.7L602.0 23.7L602.8 23.7L603.6 23.7L604.4 23.7L605.2 23.7L605.9 23.7L606.7 23.7L607.5 23.7L608.3 23.7L609.1 23.7L609.9 23.7L610.6 23.7L611.4 23.7L612.2 23.7L613.0 23.7L613.8 23.7L614.6 23.7L615.3 23.7L616.1 23.7L616.9 23.7L617.7 23.7L618.5 23.7L619.3 23.7L620.0 23.7L620.8 23.7L621.6 23.7L622.4 23.7L623.2 23.7L624.0 23.8L624.7 23.8L625.5 23.9L626.3 23.9L627.1 24.1L627.9 24.3L628.7 24.5L629.4 24.8L630.2 25.3L631.0 25.8L631.8 26.5L632.6 27.3L633.4 28.3L634.1 29.5L634.9 30.8L635.7 32.3L636.5 33.9L637.3 35.6L638.1 37.3L638.8 39.0L639.6 40.5L640.4 41.9L641.2 43.1L642.0 44.0L642.8 44.5L643.5 44.7L644.3 44.5L645.1 44.2L645.9 43.7L646.7 42.9L647.5 42.0L648.2 41.0L649.0 39.9L649.8 38.6L650.6 37.3L651.4 36.0L652.2 34.8L652.9 33.5L653.7 32.3L654.5 31.1L655.3 30.1L656.1 29.1L656.9 28.2L657.6 27.5L658.4 26.8L659.2 26.2L660.0 25.7L660.8 25.3L661.6 24.9L662.3 24.7L663.1 24.4L663.9 24.2L664.7 24.1L665.5 24.0L666.3 23.9L667.0 23.8L667.8 23.8L668.6 23.7L669.4 23.7L670.2 23.7L671.0 23.7L671.7 23.6L672.5 23.6L673.3 23.6L674.1 23.6L674.9 23.6L675.7 23.6L676.4 23.6L677.2 23.6L678.0 23.6L678.8 23.6L679.6 23.6L680.4 23.6L681.1 23.6L681.9 23.6L682.7 23.6L683.5 23.6"/>
<path d="M389.7 22.9L390.5 22.9L391.3 22.9L392.1 22.9L392.8 22.9L393.6 22.9L394.4 22.9L395.2 22.9L396.0 22.9L396.8 22.9L397.5 22.9L398.3 22.9L399.1 22.9L399.9 22.9L400.7 22.9L401.5 22.9L402.2 22.9L403.0 22.9L403.8 22.9L404.6 23.0L405.4 23.0L406.2 23.0L406.9 23.0L407.7 23.0L408.5 23.0L409.3 23.0L410.1 23.0L410.9 23.0L411.7 24.1L412.4 24.1L413.2 24.1L414.0 24.2L414.8 24.3L415.6 24.3L416.4 24.4L417.1 24.6L417.9 24.7L418.7 24.9L419.5 25.2L420.3 25.5L421.1 25.8L421.8 26.2L422.6 26.7L423.4 27.3L424.2 27.9L425.0 28.6L425.8 29.4L426.5 30.3L427.3 31.2L428.1 32.3L428.9 33.4L429.7 34.5L430.5 35.7L431.2 36.9L432.0 38.1L432.8 39.3L433.6 40.4L434.4 41.5L435.2 42.4L435.9 43.2L436.7 43.9L437.5 44.5L438.3 44.8L439.1 45.0L439.9 45.0L440.6 44.9L441.4 44.5L442.2 44.1L443.0 43.4L443.8 42.7L444.6 41.8L445.3 40.8L446.1 39.8L446.9 38.7L447.7 37.5L448.5 36.4L449.3 35.3L450.0 34.1L450.8 33.1L451.6 32.0L452.4 31.1L453.2 30.2L454.0 29.4L454.7 28.6L455.5 27.9L456.3 27.3L457.1 26.8L457.9 26.3L458.7 25.9L459.4 25.6L460.2 25.3L461.0 25.1L461.8 24.9L462.6 24.7L463.4 24.6L464.1 24.5L464.9 24.4L465.7 24.3L466.5 24.3L467.3 24.2L468.1 24.2L468.8 24.2L469.6 24.2L470.4 24.2L471.2 24.1L472.0 24.1L472.8 24.1L473.5 24.1L474.3 24.1L475.1 24.1L475.9 24.1L476.7 24.1L477.5 24.1L478.2 24.2L479.0 24.2L479.8 24.2L480.6 24.2L481.4 24.2L482.2 24.2L482.9 24.2L483.7 24.2L484.5 24.2L485.3 24.2L486.1 24.2L486.9 24.2L487.6 24.2L488.4 24.2L489.2 24.2L490.0 24.2L490.8 24.2L491.6 24.3L492.3 24.3L493.1 24.3L493.9 24.3L494.7 24.3L495.5 24.3L496.3 24.3L497.0 24.3L497.8 24.3L498.6 24.3L499.4 24.4L500.2 24.4L501.0 24.4L501.7 24.4L502.5 24.4L503.3 24.4L504.1 24.5L504.9 24.5L505.7 24.5L506.4 24.5L507.2 24.5L508.0 24.6L508.8 24.6L509.6 24.6L510.4 24.6L511.1 24.7L511.9 24.7L512.7 24.8L513.5 24.8L514.3 24.8L515.1 24.9L515.8 24.9L516.6 25.0L517.4 25.0L518.2 25.1L519.0 25.2L519.8 25.3L520.5 25.3L521.3 25.4L522.1 25.5L522.9 25.7L523.7 25.8L524.5 25.9L525.2 26.1L526.0 26.3L526.8 26.5L527.6 26.7L528.4 27.0L529.2 27.3L529.9 27.7L530.7 28.1L531.5 28.6L532.3 29.3L533.1 30.0L533.9 30.9L534.6 32.0L535.4 33.5L536.2 35.2L537.0 37.6L537.8 40.6L538.6 44.7L539.3 50.3L540.1 58.1L540.9 69.5L541.7 86.8L542.5 114.3L543.3 138.7L544.0 109.7L544.8 84.0L545.6 67.7L546.4 56.9L547.2 49.4L548.0 44.1L548.7 40.2L549.5 37.2L550.3 35.0L551.1 33.3L551.9 31.9L552.7 30.8L553.4 30.0L554.2 29.2L555.0 28.7L555.8 28.2L556.6 27.7L557.4 27.4L558.1 27.1L558.9 26.8L559.7 26.6L560.5 26.4L561.3 26.2L562.1 26.0L562.8 25.9L563.6 25.8L564.4 25.7L565.2 25.6L566.0 25.5L566.8 25.4L567.5 25.4L568.3 25.3L569.1 25.3L569.9 25.2L570.7 25.2L571.5 25.1L572.2 25.1L573.0 25.1L573.8 25.0L574.6 25.0L575.4 25.0L576.2 25.0L576.9 24.9L577.7 24.9L578.5 24.9L579.3 24.9L580.1 24.9L580.9 24.9L581.6 24.9L582.4 24.9L583.2 24.9L584.0 24.9L584.8 24.9L585.6 24.9L586.3 24.9L587.1 24.9L587.9 24.9L588.7 24.9L589.5 24.9L590.3 25.0L591.0 25.0L591.8 25.0L592.6 25.0L593.4 25.0L594.2 25.1L595.0 25.1L595.7 25.1L596.5 25.2L597.3 25.2L598.1 25.3L598.9 25.3L599.7 25.4L600.4 25.4L601.2 25.5L602.0 25.6L602.8 25.6L603.6 25.7L604.4 25.8L605.2 25.9L605.9 26.0L606.7 26.1L607.5 26.3L608.3 26.4L609.1 26.6L609.9 26.7L610.6 26.9L611.4 27.2L612.2 27.4L613.0 27.7L613.8 28.0L614.6 28.4L615.3 28.8L616.1 29.3L616.9 29.9L617.7 30.5L618.5 31.3L619.3 32.2L620.0 33.3L620.8 34.7L621.6 36.3L622.4 38.2L623.2 40.7L624.0 43.7L624.7 47.7L625.5 52.7L626.3 59.4L627.1 68.5L627.9 81.3L628.7 100.6L629.4 134.4L630.2 147.7L631.0 134.1L631.8 100.4L632.6 81.2L633.4 68.4L634.1 59.4L634.9 52.7L635.7 47.6L636.5 43.7L637.3 40.6L638.1 38.2L638.8 36.2L639.6 34.6L640.4 33.3L641.2 32.2L642.0 31.3L642.8 30.5L643.5 29.8L644.3 29.3L645.1 28.8L645.9 28.3L646.7 28.0L647.5 27.6L648.2 27.3L649.0 27.1L649.8 26.8L650.6 26.6L651.4 26.5L652.2 26.3L652.9 26.1L653.7 26.0L654.5 25.9L655.3 25.8L656.1 25.7L656.9 25.6L657.6 25.5L658.4 25.4L659.2 25.3L660.0 25.3L660.8 25.2L661.6 25.1L662.3 25.1L663.1 25.0L663.9 25.0L664.7 24.9L665.5 24.9L666.3 24.9L667.0 24.8L667.8 24.8L668.6 24.8L669.4 24.7L670.2 24.7L671.0 24.7L671.7 24.6L672.5 24.6L673.3 24.6L674.1 24.6L674.9 24.6L675.7 24.5L676.4 24.5L677.2 24.5L678.0 24.5L678.8 24.5L679.6 24.4L680.4 24.4L681.1 24.4L681.9 24.4L682.7 24.4L683.5 24.4"/>
<path d="M389.7 22.9L390.5 22.9L391.3 22.9L392.1 22.9L392.8 22.9L393.6 22.9L394.4 22.9L395.2 22.9L396.0 22.9L396.8 22.9L397.5 22.9L398.3 22.9L399.1 22.9L399.9 22.9L400.7 22.9L401.5 22.9L402.2 22.9L403.0 22.9L403.8 22.9L404.6 22.9L405.4 22.9L406.2 22.9L406.9 22.9L407.7 22.9L408.5 22.9L409.3 22.9L410.1 22.9L410.9 22.9L411.7 24.0L412.4 24.0L413.2 24.1L414.0 24.1L414.8 24.2L415.6 24.3L416.4 24.4L417.1 24.6L417.9 24.8L418.7 25.1L419.5 25.4L420.3 25.7L421.1 26.1L421.8 26.6L422.6 27.2L423.4 27.9L424.2 28.6L425.0 29.4L425.8 30.3L426.5 31.3L427.3 32.4L428.1 33.5L428.9 34.7L429.7 35.9L430.5 37.1L431.2 38.4L432.0 39.6L432.8 40.7L433.6 41.8L434.4 42.8L435.2 43.7L435.9 44.4L436.7 44.9L437.5 45.3L438.3 45.5L439.1 45.5L439.9 45.3L440.6 45.0L441.4 44.5L442.2 43.8L443.0 43.1L443.8 42.1L444.6 41.2L445.3 40.1L446.1 38.9L446.9 37.8L447.7 36.6L448.5 35.4L449.3 34.3L450.0 33.2L450.8 32.1L451.6 31.2L452.4 30.2L453.2 29.4L454.0 28.6L454.7 27.9L455.5 27.3L456.3 26.8L457.1 26.3L457.9 25.9L458.7 25.5L459.4 25.2L460.2 25.0L461.0 24.8L461.8 24.6L462.6 24.5L463.4 24.4L464.1 24.3L464.9 24.2L465.7 24.2L466.5 24.1L467.3 24.1L468.1 24.1L468.8 24.1L469.6 24.1L470.4 24.1L471.2 24.0L472.0 24.0L472.8 24.1L473.5 24.1L474.3 24.1L475.1 24.1L475.9 24.1L476.7 24.1L477.5 24.1L478.2 24.1L479.0 24.1L479.8 24.1L480.6 24.1L481.4 24.1L482.2 24.1L482.9 24.1L483.7 24.1L484.5 24.2L485.3 24.2L486.1 24.2L486.9 24.2L487.6 24.2L488.4 24.2L489.2 24.2L490.0 24.2L490.8 24.2L491.6 24.3L492.3 24.3L493.1 24.3L493.9 24.3L494.7 24.3L495.5 24.3L496.3 24.4L497.0 24.4L497.8 24.4L498.6 24.4L499.4 24.4L500.2 24.5L501.0 24.5L501.7 24.5L502.5 24.5L503.3 24.6L504.1 24.6L504.9 24.6L505.7 24.7L506.4 24.7L507.2 24.7L508.0 24.8L508.8 24.8L509.6 24.8L510.4 24.9L511.1 24.9L511.9 25.0L512.7 25.1L513.5 25.1L514.3 25.2L515.1 25.3L515.8 25.3L516.6 25.4L517.4 25.5L518.2 25.6L519.0 25.7L519.8 25.8L520.5 26.0L521.3 26.1L522.1 26.2L522.9 26.4L523.7 26.6L524.5 26.8L525.2 27.0L526.0 27.3L526.8 27.5L527.6 27.8L528.4 28.2L529.2 28.6L529.9 29.0L530.7 29.6L531.5 30.1L532.3 30.8L533.1 31.6L533.9 32.5L534.6 33.6L535.4 34.9L536.2 36.4L537.0 38.3L537.8 40.5L538.6 43.3L539.3 46.7L540.1 51.0L540.9 56.5L541.7 63.6L542.5 73.0L543.3 85.7L544.0 103.5L544.8 128.1L545.6 143.0L546.4 120.8L547.2 98.0L548.0 81.8L548.7 70.1L549.5 61.5L550.3 54.9L551.1 49.8L551.9 45.7L552.7 42.5L553.4 39.9L554.2 37.7L555.0 36.0L555.8 34.5L556.6 33.3L557.4 32.3L558.1 31.4L558.9 30.6L559.7 30.0L560.5 29.4L561.3 28.9L562.1 28.5L562.8 28.1L563.6 27.8L564.4 27.5L565.2 27.2L566.0 26.9L566.8 26.7L567.5 26.5L568.3 26.4L569.1 26.2L569.9 26.1L570.7 25.9L571.5 25.8L572.2 25.7L573.0 25.6L573.8 25.5L574.6 25.4L575.4 25.3L576.2 25.2L576.9 25.2L577.7 25.1L578.5 25.0L579.3 25.0L580.1 24.9L580.9 24.9L581.6 24.8L582.4 24.8L583.2 24.8L584.0 24.7L584.8 24.7L585.6 24.6L586.3 24.6L587.1 24.6L587.9 24.5L588.7 24.5L589.5 24.5L590.3 24.5L591.0 24.4L591.8 24.4L592.6 24.4L593.4 24.4L594.2 24.4L595.0 24.3L595.7 24.3L596.5 24.3L597.3 24.3L598.1 24.3L598.9 24.3L599.7 24.3L600.4 24.2L601.2 24.2L602.0 24.2L602.8 24.2L603.6 24.2L604.4 24.2L605.2 24.2L605.9 24.2L606.7 24.1L607.5 24.1L608.3 24.1L609.1 24.1L609.9 24.1L610.6 24.1L611.4 24.1L612.2 24.1L613.0 24.1L613.8 24.1L614.6 24.1L615.3 24.1L616.1 24.1L616.9 24.1L617.7 24.1L618.5 24.1L619.3 24.1L620.0 24.2L620.8 24.2L621.6 24.3L622.4 24.5L623.2 24.7L624.0 25.0L624.7 25.5L625.5 26.0L626.3 26.8L627.1 27.7L627.9 28.9L628.7 30.2L629.4 31.8L630.2 33.6L631.0 35.5L631.8 37.5L632.6 39.5L633.4 41.4L634.1 43.2L634.9 44.7L635.7 45.8L636.5 46.5L637.3 46.8L638.1 46.6L638.8 45.9L639.6 44.9L640.4 43.6L641.2 42.0L642.0 40.3L642.8 38.4L643.5 36.6L644.3 34.7L645.1 33.0L645.9 31.4L646.7 30.0L647.5 28.7L648.2 27.6L649.0 26.8L649.8 26.1L650.6 25.5L651.4 25.0L652.2 24.7L652.9 24.5L653.7 24.3L654.5 24.2L655.3 24.1L656.1 24.0L656.9 24.0L657.6 23.9L658.4 23.9L659.2 23.9L660.0 23.9L660.8 23.9L661.6 23.9L662.3 23.9L663.1 23.9L663.9 23.9L664.7 23.9L665.5 23.9L666.3 23.9L667.0 23.9L667.8 23.9L668.6 23.9L669.4 23.9L670.2 23.9L671.0 23.9L671.7 23.9L672.5 23.9L673.3 23.9L674.1 23.9L674.9 23.9L675.7 23.9L676.4 23.9L677.2 23.9L678.0 23.9L678.8 23.9L679.6 23.9L680.4 23.9L681.1 23.9L681.9 23.8L682.7 23.8L683.5 23.8"/>
<path d="M389.7 22.8L390.5 22.8L391.3 22.8L392.1 22.8L392.8 22.8L393.6 22.8L394.4 22.8L395.2 22.8L396.0 22.8L396.8 22.8L397.5 22.8L398.3 22.8L399.1 22.8L399.9 22.8L400.7 22.8L401.5 22.8L402.2 22.8L403.0 22.8L403.8 22.8L404.6 22.8L405.4 22.8L406.2 22.8L406.9 22.8L407.7 22.8L408.5 22.8L409.3 22.8L410.1 22.8L410.9 22.8L411.7 23.6L412.4 23.6L413.2 23.7L414.0 23.7L414.8 23.8L415.6 23.9L416.4 24.0L417.1 24.2L417.9 24.4L418.7 24.6L419.5 24.8L420.3 25.2L421.1 25.5L421.8 26.0L422.6 26.5L423.4 27.1L424.2 27.7L425.0 28.5L425.8 29.3L426.5 30.2L427.3 31.2L428.1 32.2L428.9 33.4L429.7 34.5L430.5 35.7L431.2 37.0L432.0 38.2L432.8 39.4L433.6 40.6L434.4 41.7L435.2 42.7L435.9 43.6L436.7 44.4L437.5 45.0L438.3 45.4L439.1 45.7L439.9 45.8L440.6 45.7L441.4 45.5L442.2 45.1L443.0 44.5L443.8 43.8L444.6 43.0L445.3 42.1L446.1 41.1L446.9 40.0L447.7 38.8L448.5 37.7L449.3 36.5L450.0 35.4L450.8 34.2L451.6 33.1L452.4 32.1L453.2 31.1L454.0 30.2L454.7 29.3L455.5 28.6L456.3 27.9L457.1 27.2L457.9 26.7L458.7 26.2L459.4 25.8L460.2 25.4L461.0 25.1L461.8 24.9L462.6 24.6L463.4 24.5L464.1 24.3L464.9 24.2L465.7 24.1L466.5 24.0L467.3 24.0L468.1 23.9L468.8 23.9L469.6 23.9L470.4 23.9L471.2 23.9L472.0 23.8L472.8 23.8L473.5 23.8L474.3 23.9L475.1 23.9L475.9 23.9L476.7 23.9L477.5 23.9L478.2 23.9L479.0 23.9L479.8 23.9L480.6 23.9L481.4 24.0L482.2 24.0L482.9 24.0L483.7 24.0L484.5 24.0L485.3 24.0L486.1 24.1L486.9 24.1L487.6 24.1L488.4 24.1L489.2 24.2L490.0 24.2L490.8 24.2L491.6 24.2L492.3 24.3L493.1 24.3L493.9 24.3L494.7 24.3L495.5 24.4L496.3 24.4L497.0 24.5L497.8 24.5L498.6 24.5L499.4 24.6L500.2 24.6L501.0 24.7L501.7 24.7L502.5 24.8L503.3 24.8L504.1 24.9L504.9 25.0L505.7 25.1L506.4 25.1L507.2 25.2L508.0 25.3L508.8 25.4L509.6 25.5L510.4 25.6L511.1 25.7L511.9 25.9L512.7 26.0L513.5 26.1L514.3 26.3L515.1 26.5L515.8 26.7L516.6 26.9L517.4 27.1L518.2 27.4L519.0 27.7L519.8 28.0L520.5 28.3L521.3 28.7L522.1 29.1L522.9 29.6L523.7 30.2L524.5 30.8L525.2 31.5L526.0 32.3L526.8 33.2L527.6 34.3L528.4 35.5L529.2 36.9L529.9 38.6L530.7 40.6L531.5 42.9L532.3 45.8L533.1 49.2L533.9 53.3L534.6 58.5L535.4 64.9L536.2 73.1L537.0 83.7L537.8 98.0L538.6 117.8L539.3 143.7L540.1 147.7L540.9 123.0L541.7 101.6L542.5 86.4L543.3 75.1L544.0 66.5L544.8 59.7L545.6 54.3L546.4 50.0L547.2 46.4L548.0 43.5L548.7 41.0L549.5 39.0L550.3 37.2L551.1 35.8L551.9 34.5L552.7 33.4L553.4 32.5L554.2 31.6L555.0 30.9L555.8 30.3L556.6 29.7L557.4 29.2L558.1 28.8L558.9 28.4L559.7 28.0L560.5 27.7L561.3 27.4L562.1 27.2L562.8 26.9L563.6 26.7L564.4 26.5L565.2 26.3L566.0 26.2L566.8 26.0L567.5 25.9L568.3 25.8L569.1 25.6L569.9 25.5L570.7 25.4L571.5 25.3L572.2 25.2L573.0 25.1L573.8 25.1L574.6 25.0L575.4 24.9L576.2 24.9L576.9 24.8L577.7 24.7L578.5 24.7L579.3 24.6L580.1 24.6L580.9 24.5L581.6 24.5L582.4 24.5L583.2 24.4L584.0 24.4L584.8 24.4L585.6 24.3L586.3 24.3L587.1 24.3L587.9 24.2L588.7 24.2L589.5 24.2L590.3 24.2L591.0 24.1L591.8 24.1L592.6 24.1L593.4 24.1L594.2 24.0L595.0 24.0L595.7 24.0L596.5 24.0L597.3 24.0L598.1 24.0L598.9 23.9L599.7 23.9L600.4 23.9L601.2 23.9L602.0 23.9L602.8 23.9L603.6 23.9L604.4 23.9L605.2 23.8L605.9 23.8L606.7 23.8L607.5 23.8L608.3 23.8L609.1 23.8L609.9 23.8L610.6 23.8L611.4 23.8L612.2 23.8L613.0 23.7L613.8 23.7L614.6 23.7L615.3 23.7L616.1 23.7L616.9 23.7L617.7 23.7L618.5 23.7L619.3 23.7L620.0 23.7L620.8 23.7L621.6 23.7L622.4 23.7L623.2 23.7L624.0 23.7L624.7 23.8L625.5 23.8L626.3 23.9L627.1 23.9L627.9 24.0L628.7 24.2L629.4 24.4L630.2 24.6L631.0 24.9L631.8 25.2L632.6 25.6L633.4 26.1L634.1 26.6L634.9 27.2L635.7 27.9L636.5 28.6L637.3 29.3L638.1 30.1L638.8 30.9L639.6 31.6L640.4 32.3L641.2 33.0L642.0 33.5L642.8 33.9L643.5 34.2L644.3 34.4L645.1 34.3L645.9 34.1L646.7 33.7L647.5 33.1L648.2 32.3L649.0 31.5L649.8 30.6L650.6 29.7L651.4 28.7L652.2 27.9L652.9 27.1L653.7 26.4L654.5 25.8L655.3 25.3L656.1 24.8L656.9 24.5L657.6 24.2L658.4 24.0L659.2 23.9L660.0 23.7L660.8 23.7L661.6 23.6L662.3 23.6L663.1 23.5L663.9 23.5L664.7 23.5L665.5 23.5L666.3 23.5L667.0 23.5L667.8 23.5L668.6 23.5L669.4 23.5L670.2 23.5L671.0 23.5L671.7 23.5L672.5 23.5L673.3 23.5L674.1 23.5L674.9 23.5L675.7 23.5L676.4 23.5L677.2 23.5L678.0 23.5L678.8 23.5L679.6 23.5L680.4 23.5L681.1 23.5L681.9 23.5L682.7 23.5L683.5 23.5"/>
<path d="M389.7 22.7L390.5 22.7L391.3 22.7L392.1 22.7L392.8 22.7L393.6 22.7L394.4 22.7L395.2 22.7L396.0 22.7L396.8 22.7L397.5 22.7L398.3 22.7L399.1 22.7L399.9 22.7L400.7 22.7L401.5 22.7L402.2 22.7L403.0 22.7L403.8 22.8L404.6 22.8L405.4 22.8L406.2 22.8L406.9 22.8L407.7 22.8L408.5 22.8L409.3 22.8L410.1 22.8L410.9 22.8L411.7 23.4L412.4 23.5L413.2 23.5L414.0 23.6L414.8 23.7L415.6 23.8L416.4 23.9L417.1 24.0L417.9 24.2L418.7 24.5L419.5 24.8L420.3 25.1L421.1 25.5L421.8 26.0L422.6 26.6L423.4 27.2L424.2 27.9L425.0 28.8L425.8 29.7L426.5 30.7L427.3 31.8L428.1 32.9L428.9 34.1L429.7 35.4L430.5 36.7L431.2 38.0L432.0 39.3L432.8 40.5L433.6 41.7L434.4 42.8L435.2 43.8L435.9 44.6L436.7 45.3L437.5 45.8L438.3 46.1L439.1 46.2L439.9 46.1L440.6 45.8L441.4 45.4L442.2 44.8L443.0 44.0L443.8 43.1L444.6 42.1L445.3 41.0L446.1 39.8L446.9 38.6L447.7 37.4L448.5 36.2L449.3 34.9L450.0 33.7L450.8 32.6L451.6 31.5L452.4 30.5L453.2 29.6L454.0 28.7L454.7 27.9L455.5 27.3L456.3 26.6L457.1 26.1L457.9 25.6L458.7 25.2L459.4 24.9L460.2 24.6L461.0 24.4L461.8 24.2L462.6 24.0L463.4 23.9L464.1 23.8L464.9 23.7L465.7 23.6L466.5 23.6L467.3 23.6L468.1 23.5L468.8 23.5L469.6 23.5L470.4 23.5L471.2 23.5L472.0 23.5L472.8 23.5L473.5 23.5L474.3 23.5L475.1 23.5L475.9 23.5L476.7 23.5L477.5 23.5L478.2 23.5L479.0 23.5L479.8 23.5L480.6 23.5L481.4 23.5L482.2 23.5L482.9 23.5L483.7 23.5L484.5 23.5L485.3 23.5L486.1 23.5L486.9 23.5L487.6 23.5L488.4 23.5L489.2 23.6L490.0 23.6L490.8 23.6L491.6 23.6L492.3 23.6L493.1 23.6L493.9 23.6L494.7 23.6L495.5 23.6L496.3 23.6L497.0 23.6L497.8 23.6L498.6 23.7L499.4 23.7L500.2 23.7L501.0 23.7L501.7 23.7L502.5 23.7L503.3 23.7L504.1 23.7L504.9 23.8L505.7 23.8L506.4 23.8L507.2 23.8L508.0 23.8L508.8 23.9L509.6 23.9L510.4 23.9L511.1 23.9L511.9 24.0L512.7 24.0L513.5 24.0L514.3 24.1L515.1 24.1L515.8 24.1L516.6 24.2L517.4 24.2L518.2 24.3L519.0 24.3L519.8 24.4L520.5 24.4L521.3 24.5L522.1 24.6L522.9 24.7L523.7 24.7L524.5 24.8L525.2 24.9L526.0 25.1L526.8 25.2L527.6 25.4L528.4 25.5L529.2 25.7L529.9 25.9L530.7 26.2L531.5 26.5L532.3 26.8L533.1 27.2L533.9 27.6L534.6 28.2L535.4 28.8L536.2 29.6L537.0 30.5L537.8 31.7L538.6 33.1L539.3 34.9L540.1 37.3L540.9 40.4L541.7 44.5L542.5 50.2L543.3 58.2L544.0 69.9L544.8 88.3L545.6 122.1L546.4 147.7L547.2 124.0L548.0 89.3L548.7 70.5L549.5 58.6L550.3 50.5L551.1 44.8L551.9 40.6L552.7 37.5L553.4 35.1L554.2 33.2L555.0 31.8L555.8 30.6L556.6 29.7L557.4 28.9L558.1 28.3L558.9 27.8L559.7 27.3L560.5 26.9L561.3 26.6L562.1 26.3L562.8 26.1L563.6 25.9L564.4 25.7L565.2 25.5L566.0 25.4L566.8 25.3L567.5 25.1L568.3 25.0L569.1 25.0L569.9 24.9L570.7 24.8L571.5 24.7L572.2 24.7L573.0 24.6L573.8 24.6L574.6 24.5L575.4 24.5L576.2 24.5L576.9 24.5L577.7 24.4L578.5 24.4L579.3 24.4L580.1 24.4L580.9 24.4L581.6 24.3L582.4 24.3L583.2 24.3L584.0 24.3L584.8 24.3L585.6 24.3L586.3 24.3L587.1 24.3L587.9 24.3L588.7 24.4L589.5 24.4L590.3 24.4L591.0 24.4L591.8 24.4L592.6 24.4L593.4 24.5L594.2 24.5L595.0 24.5L595.7 24.6L596.5 24.6L597.3 24.6L598.1 24.7L598.9 24.7L599.7 24.8L600.4 24.9L601.2 24.9L602.0 25.0L602.8 25.1L603.6 25.2L604.4 25.3L605.2 25.4L605.9 25.5L606.7 25.6L607.5 25.7L608.3 25.9L609.1 26.1L609.9 26.3L610.6 26.5L611.4 26.8L612.2 27.0L613.0 27.4L613.8 27.7L614.6 28.1L615.3 28.6L616.1 29.2L616.9 29.8L617.7 30.6L618.5 31.5L619.3 32.6L620.0 33.9L620.8 35.4L621.6 37.4L622.4 39.8L623.2 42.8L624.0 46.6L624.7 51.5L625.5 58.0L626.3 66.8L627.1 79.1L627.9 97.5L628.7 129.2L629.4 147.7L630.2 138.4L631.0 102.2L631.8 82.1L632.6 68.8L633.4 59.5L634.1 52.6L634.9 47.4L635.7 43.4L636.5 40.2L637.3 37.7L638.1 35.7L638.8 34.1L639.6 32.7L640.4 31.6L641.2 30.7L642.0 29.9L642.8 29.2L643.5 28.6L644.3 28.1L645.1 27.7L645.9 27.3L646.7 27.0L647.5 26.7L648.2 26.4L649.0 26.2L649.8 26.0L650.6 25.8L651.4 25.7L652.2 25.5L652.9 25.4L653.7 25.2L654.5 25.1L655.3 25.0L656.1 24.9L656.9 24.8L657.6 24.8L658.4 24.7L659.2 24.6L660.0 24.5L660.8 24.5L661.6 24.4L662.3 24.4L663.1 24.3L663.9 24.3L664.7 24.2L665.5 24.2L666.3 24.2L667.0 24.1L667.8 24.1L668.6 24.1L669.4 24.0L670.2 24.0L671.0 24.0L671.7 24.0L672.5 23.9L673.3 23.9L674.1 23.9L674.9 23.9L675.7 23.9L676.4 23.8L677.2 23.8L678.0 23.8L678.8 23.8L679.6 23.8L680.4 23.8L681.1 23.7L681.9 23.7L682.7 23.7L683.5 23.7"/>
<path d="M389.7 22.9L390.5 22.9L391.3 22.9L392.1 22.9L392.8 22.9L393.6 22.9L394.4 22.9L395.2 22.9L396.0 22.9L396.8 22.9L397.5 22.9L398.3 22.9L399.1 22.9L399.9 22.9L400.7 22.9L401.5 22.9L402.2 22.9L403.0 22.9L403.8 22.9L404.6 22.9L405.4 22.9L406.2 22.9L406.9 22.9L407.7 22.9L408.5 22.9L409.3 22.9L410.1 22.9L410.9 22.9L411.7 23.9L412.4 24.0L413.2 24.0L414.0 24.1L414.8 24.1L415.6 24.2L416.4 24.3L417.1 24.5L417.9 24.7L418.7 24.9L419.5 25.2L420.3 25.5L421.1 25.9L421.8 26.3L422.6 26.8L423.4 27.4L424.2 28.1L425.0 28.9L425.8 29.8L426.5 30.7L427.3 31.7L428.1 32.8L428.9 33.9L429.7 35.0L430.5 36.2L431.2 37.4L432.0 38.5L432.8 39.6L433.6 40.6L434.4 41.5L435.2 42.3L435.9 42.9L436.7 43.4L437.5 43.7L438.3 43.7L439.1 43.7L439.9 43.4L440.6 43.0L441.4 42.4L442.2 41.7L443.0 40.9L443.8 40.0L444.6 39.0L445.3 37.9L446.1 36.8L446.9 35.7L447.7 34.6L448.5 33.5L449.3 32.5L450.0 31.5L450.8 30.5L451.6 29.7L452.4 28.9L453.2 28.2L454.0 27.5L454.7 26.9L455.5 26.4L456.3 26.0L457.1 25.6L457.9 25.3L458.7 25.1L459.4 24.9L460.2 24.7L461.0 24.5L461.8 24.4L462.6 24.3L463.4 24.3L464.1 24.2L464.9 24.2L465.7 24.2L466.5 24.1L467.3 24.1L468.1 24.1L468.8 24.1L469.6 24.1L470.4 24.1L471.2 24.1L472.0 24.1L472.8 24.1L473.5 24.1L474.3 24.1L475.1 24.1L475.9 24.1L476.7 24.2L477.5 24.2L478.2 24.2L479.0 24.2L479.8 24.2L480.6 24.2L481.4 24.2L482.2 24.2L482.9 24.2L483.7 24.3L484.5 24.3L485.3 24.3L486.1 24.3L486.9 24.3L487.6 24.3L488.4 24.3L489.2 24.4L490.0 24.4L490.8 24.4L491.6 24.4L492.3 24.4L493.1 24.4L493.9 24.5L494.7 24.5L495.5 24.5L496.3 24.5L497.0 24.6L497.8 24.6L498.6 24.6L499.4 24.7L500.2 24.7L501.0 24.7L501.7 24.8L502.5 24.8L503.3 24.8L504.1 24.9L504.9 24.9L505.7 25.0L506.4 25.0L507.2 25.1L508.0 25.1L508.8 25.2L509.6 25.3L510.4 25.3L511.1 25.4L511.9 25.5L512.7 25.6L513.5 25.7L514.3 25.8L515.1 25.9L515.8 26.0L516.6 26.1L517.4 26.3L518.2 26.4L519.0 26.6L519.8 26.8L520.5 27.0L521.3 27.2L522.1 27.5L522.9 27.7L523.7 28.0L524.5 28.4L525.2 28.8L526.0 29.2L526.8 29.7L527.6 30.2L528.4 30.9L529.2 31.6L529.9 32.4L530.7 33.4L531.5 34.5L532.3 35.8L533.1 37.4L533.9 39.2L534.6 41.5L535.4 44.2L536.2 47.5L537.0 51.5L537.8 56.6L538.6 63.0L539.3 71.2L540.1 81.9L540.9 96.1L541.7 115.2L542.5 134.9L543.3 131.3L544.0 110.4L544.8 92.5L545.6 79.1L546.4 69.1L547.2 61.4L548.0 55.3L548.7 50.5L549.5 46.7L550.3 43.5L551.1 40.9L551.9 38.8L552.7 37.0L553.4 35.5L554.2 34.2L555.0 33.2L555.8 32.2L556.6 31.4L557.4 30.7L558.1 30.1L558.9 29.6L559.7 29.1L560.5 28.7L561.3 28.3L562.1 28.0L562.8 27.7L563.6 27.4L564.4 27.2L565.2 26.9L566.0 26.7L566.8 26.6L567.5 26.4L568.3 26.2L569.1 26.1L569.9 26.0L570.7 25.9L571.5 25.8L572.2 25.7L573.0 25.6L573.8 25.5L574.6 25.4L575.4 25.3L576.2 25.2L576.9 25.2L577.7 25.1L578.5 25.1L579.3 25.0L580.1 25.0L580.9 24.9L581.6 24.9L582.4 24.8L583.2 24.8L584.0 24.7L584.8 24.7L585.6 24.7L586.3 24.6L587.1 24.6L587.9 24.6L588.7 24.6L589.5 24.5L590.3 24.5L591.0 24.5L591.8 24.5L592.6 24.4L593.4 24.4L594.2 24.4L595.0 24.4L595.7 24.4L596.5 24.3L597.3 24.3L598.1 24.3L598.9 24.3L599.7 24.3L600.4 24.3L601.2 24.3L602.0 24.2L602.8 24.2L603.6 24.2L604.4 24.2L605.2 24.2L605.9 24.2L606.7 24.2L607.5 24.2L608.3 24.2L609.1 24.2L609.9 24.1L610.6 24.1L611.4 24.1L612.2 24.1L613.0 24.1L613.8 24.1L614.6 24.1L615.3 24.1L616.1 24.1L616.9 24.1L617.7 24.1L618.5 24.1L619.3 24.2L620.0 24.2L620.8 24.3L621.6 24.5L622.4 24.6L623.2 24.9L624.0 25.2L624.7 25.6L625.5 26.1L626.3 26.8L627.1 27.5L627.9 28.4L628.7 29.3L629.4 30.4L630.2 31.4L631.0 32.5L631.8 33.6L632.6 34.5L633.4 35.4L634.1 36.0L634.9 36.4L635.7 36.6L636.5 36.5L637.3 36.4L638.1 36.2L638.8 35.8L639.6 35.4L640.4 34.9L641.2 34.4L642.0 33.8L642.8 33.1L643.5 32.5L644.3 31.8L645.1 31.1L645.9 30.4L646.7 29.8L647.5 29.1L648.2 28.5L649.0 27.9L649.8 27.4L650.6 26.9L651.4 26.5L652.2 26.1L652.9 25.8L653.7 25.5L654.5 25.2L655.3 25.0L656.1 24.8L656.9 24.6L657.6 24.5L658.4 24.3L659.2 24.2L660.0 24.2L660.8 24.1L661.6 24.1L662.3 24.0L663.1 24.0L663.9 24.0L664.7 23.9L665.5 23.9L666.3 23.9L667.0 23.9L667.8 23.9L668.6 23.9L669.4 23.9L670.2 23.9L671.0 23.9L671.7 23.9L672.5 23.9L673.3 23.9L674.1 23.9L674.9 23.9L675.7 23.9L676.4 23.9L677.2 23.9L678.0 23.9L678.8 23.9L679.6 23.9L680.4 23.9L681.1 23.9L681.9 23.9L682.7 23.9L683.5 23.9"/>
<path d="M389.7 22.8L390.5 22.8L391.3 22.8L392.1 22.8L392.8 22.8L393.6 22.8L394.4 22.8L395.2 22.8L396.0 22.8L396.8 22.8L397.5 22.8L398.3 22.8L399.1 22.8L399.9 22.8L400.7 22.8L401.5 22.8L402.2 22.8L403.0 22.8L403.8 22.8L404.6 22.9L405.4 22.9L406.2 22.9L406.9 22.9L407.7 22.9L408.5 22.9L409.3 22.9L410.1 22.9L410.9 22.9L411.7 24.1L412.4 24.2L413.2 24.4L414.0 24.6L414.8 24.9L415.6 25.2L416.4 25.6L417.1 26.1L417.9 26.7L418.7 27.4L419.5 28.2L420.3 29.1L421.1 30.2L421.8 31.4L422.6 32.7L423.4 34.2L424.2 35.8L425.0 37.6L425.8 39.4L426.5 41.4L427.3 43.3L428.1 45.4L428.9 47.4L429.7 49.4L430.5 51.3L431.2 53.0L432.0 54.6L432.8 56.1L433.6 57.2L434.4 58.1L435.2 58.7L435.9 59.1L436.7 59.1L437.5 58.8L438.3 58.2L439.1 57.4L439.9 56.3L440.6 55.0L441.4 53.6L442.2 51.9L443.0 50.2L443.8 48.3L444.6 46.4L445.3 44.5L446.1 42.5L446.9 40.7L447.7 38.9L448.5 37.1L449.3 35.5L450.0 34.0L450.8 32.6L451.6 31.3L452.4 30.2L453.2 29.2L454.0 28.3L454.7 27.5L455.5 26.8L456.3 26.3L457.1 25.8L457.9 25.4L458.7 25.0L459.4 24.7L460.2 24.5L461.0 24.3L461.8 24.2L462.6 24.1L463.4 24.0L464.1 23.9L464.9 23.9L465.7 23.8L466.5 23.8L467.3 23.8L468.1 23.7L468.8 23.7L469.6 23.7L470.4 23.7L471.2 23.7L472.0 23.7L472.8 23.7L473.5 23.7L474.3 23.7L475.1 23.7L475.9 23.7L476.7 23.7L477.5 23.7L478.2 23.7L479.0 23.7L479.8 23.7L480.6 23.7L481.4 23.7L482.2 23.7L482.9 23.7L483.7 23.7L484.5 23.8L485.3 23.8L486.1 23.8L486.9 23.8L487.6 23.8L488.4 23.8L489.2 23.8L490.0 23.8L490.8 23.8L491.6 23.8L492.3 23.8L493.1 23.8L493.9 23.8L494.7 23.8L495.5 23.8L496.3 23.8L497.0 23.8L497.8 23.9L498.6 23.9L499.4 23.9L500.2 23.9L501.0 23.9L501.7 23.9L502.5 23.9L503.3 23.9L504.1 24.0L504.9 24.0L505.7 24.0L506.4 24.0L507.2 24.0L508.0 24.1L508.8 24.1L509.6 24.1L510.4 24.1L511.1 24.2L511.9 24.2L512.7 24.2L513.5 24.3L514.3 24.3L515.1 24.4L515.8 24.4L516.6 24.5L517.4 24.6L518.2 24.7L519.0 24.8L519.8 24.9L520.5 25.0L521.3 25.1L522.1 25.3L522.9 25.5L523.7 25.7L524.5 26.0L525.2 26.4L526.0 26.8L526.8 27.3L527.6 27.9L528.4 28.8L529.2 29.8L529.9 31.2L530.7 33.2L531.5 35.9L532.3 39.8L533.1 45.7L533.9 54.9L534.6 69.7L535.4 93.9L536.2 115.0L537.0 90.9L537.8 67.8L538.6 53.7L539.3 45.0L540.1 39.3L540.9 35.6L541.7 32.9L542.5 31.1L543.3 29.7L544.0 28.7L544.8 27.9L545.6 27.2L546.4 26.7L547.2 26.3L548.0 26.0L548.7 25.7L549.5 25.5L550.3 25.3L551.1 25.1L551.9 25.0L552.7 24.9L553.4 24.8L554.2 24.7L555.0 24.6L555.8 24.5L556.6 24.4L557.4 24.4L558.1 24.3L558.9 24.3L559.7 24.2L560.5 24.2L561.3 24.2L562.1 24.1L562.8 24.1L563.6 24.1L564.4 24.1L565.2 24.0L566.0 24.0L566.8 24.0L567.5 24.0L568.3 24.0L569.1 23.9L569.9 23.9L570.7 23.9L571.5 23.9L572.2 23.9L573.0 23.9L573.8 23.9L574.6 23.9L575.4 23.8L576.2 23.8L576.9 23.8L577.7 23.8L578.5 23.8L579.3 23.8L580.1 23.8L580.9 23.8L581.6 23.8L582.4 23.8L583.2 23.8L584.0 23.8L584.8 23.8L585.6 23.8L586.3 23.8L587.1 23.8L587.9 23.8L588.7 23.7L589.5 23.7L590.3 23.7L591.0 23.7L591.8 23.7L592.6 23.7L593.4 23.7L594.2 23.7L595.0 23.7L595.7 23.7L596.5 23.7L597.3 23.7L598.1 23.7L598.9 23.7L599.7 23.7L600.4 23.7L601.2 23.7L602.0 23.7L602.8 23.7L603.6 23.7L604.4 23.7L605.2 23.7L605.9 23.7L606.7 23.7L607.5 23.7L608.3 23.7L609.1 23.7L609.9 23.7L610.6 23.7L611.4 23.7L612.2 23.7L613.0 23.7L613.8 23.8L614.6 23.8L615.3 23.9L616.1 24.0L616.9 24.1L617.7 24.3L618.5 24.5L619.3 24.8L620.0 25.2L620.8 25.7L621.6 26.3L622.4 27.1L623.2 28.0L624.0 29.1L624.7 30.4L625.5 31.8L626.3 33.5L627.1 35.2L627.9 37.1L628.7 39.0L629.4 41.0L630.2 43.0L631.0 44.8L631.8 46.5L632.6 48.0L633.4 49.2L634.1 50.1L634.9 50.6L635.7 50.7L636.5 50.4L637.3 49.6L638.1 48.5L638.8 47.0L639.6 45.3L640.4 43.4L641.2 41.3L642.0 39.2L642.8 37.2L643.5 35.2L644.3 33.3L645.1 31.6L645.9 30.1L646.7 28.8L647.5 27.7L648.2 26.8L649.0 26.1L649.8 25.4L650.6 25.0L651.4 24.6L652.2 24.3L652.9 24.1L653.7 24.0L654.5 23.9L655.3 23.8L656.1 23.7L656.9 23.7L657.6 23.7L658.4 23.7L659.2 23.7L660.0 23.7L660.8 23.7L661.6 23.6L662.3 23.6L663.1 23.6L663.9 23.6L664.7 23.6L665.5 23.6L666.3 23.6L667.0 23.6L667.8 23.6L668.6 23.6L669.4 23.6L670.2 23.6L671.0 23.6L671.7 23.6L672.5 23.6L673.3 23.6L674.1 23.6L674.9 23.6L675.7 23.6L676.4 23.6L677.2 23.6L678.0 23.6L678.8 23.6L679.6 23.6L680.4 23.6L681.1 23.6L681.9 23.6L682.7 23.6L683.5 23.6"/>
<path d="M389.7 22.8L390.5 22.8L391.3 22.8L392.1 22.8L392.8 22.8L393.6 22.8L394.4 22.8L395.2 22.8L396.0 22.8L396.8 22.8L397.5 22.8L398.3 22.8L399.1 22.8L399.9 22.8L400.7 22.8L401.5 22.8L402.2 22.8L403.0 22.8L403.8 22.8L404.6 22.8L405.4 22.9L406.2 22.9L406.9 22.9L407.7 22.9L408.5 23.0L409.3 23.0L410.1 23.1L410.9 23.1L411.7 25.0L412.4 25.4L413.2 25.8L414.0 26.4L414.8 27.1L415.6 28.0L416.4 29.0L417.1 30.1L417.9 31.4L418.7 32.9L419.5 34.5L420.3 36.3L421.1 38.2L421.8 40.3L422.6 42.5L423.4 44.8L424.2 47.2L425.0 49.6L425.8 51.9L426.5 54.1L427.3 56.2L428.1 58.1L428.9 59.8L429.7 61.2L430.5 62.3L431.2 63.1L432.0 63.5L432.8 63.5L433.6 63.1L434.4 62.4L435.2 61.4L435.9 60.2L436.7 58.6L437.5 56.8L438.3 54.9L439.1 52.8L439.9 50.6L440.6 48.4L441.4 46.1L442.2 43.9L443.0 41.8L443.8 39.7L444.6 37.7L445.3 35.9L446.1 34.2L446.9 32.7L447.7 31.3L448.5 30.1L449.3 29.0L450.0 28.1L450.8 27.2L451.6 26.6L452.4 26.0L453.2 25.5L454.0 25.1L454.7 24.8L455.5 24.5L456.3 24.3L457.1 24.1L457.9 24.0L458.7 23.9L459.4 23.8L460.2 23.7L461.0 23.7L461.8 23.7L462.6 23.6L463.4 23.6L464.1 23.6L464.9 23.6L465.7 23.6L466.5 23.6L467.3 23.6L468.1 23.6L468.8 23.6L469.6 23.6L470.4 23.6L471.2 23.6L472.0 23.6L472.8 23.6L473.5 23.6L474.3 23.6L475.1 23.6L475.9 23.6L476.7 23.6L477.5 23.6L478.2 23.6L479.0 23.6L479.8 23.6L480.6 23.6L481.4 23.6L482.2 23.6L482.9 23.6L483.7 23.6L484.5 23.6L485.3 23.6L486.1 23.6L486.9 23.6L487.6 23.6L488.4 23.6L489.2 23.6L490.0 23.6L490.8 23.6L491.6 23.6L492.3 23.7L493.1 23.7L493.9 23.7L494.7 23.7L495.5 23.7L496.3 23.7L497.0 23.7L497.8 23.7L498.6 23.7L499.4 23.7L500.2 23.7L501.0 23.7L501.7 23.7L502.5 23.7L503.3 23.7L504.1 23.8L504.9 23.8L505.7 23.8L506.4 23.8L507.2 23.8L508.0 23.8L508.8 23.8L509.6 23.8L510.4 23.9L511.1 23.9L511.9 23.9L512.7 23.9L513.5 23.9L514.3 24.0L515.1 24.0L515.8 24.0L516.6 24.0L517.4 24.1L518.2 24.1L519.0 24.2L519.8 24.2L520.5 24.3L521.3 24.3L522.1 24.4L522.9 24.5L523.7 24.6L524.5 24.7L525.2 24.8L526.0 24.9L526.8 25.1L527.6 25.3L528.4 25.5L529.2 25.8L529.9 26.1L530.7 26.5L531.5 27.0L532.3 27.7L533.1 28.6L533.9 29.7L534.6 31.2L535.4 33.4L536.2 36.5L537.0 41.3L537.8 48.8L538.6 61.5L539.3 85.3L540.1 146.6L540.9 124.2L541.7 78.1L542.5 57.9L543.3 46.7L544.0 40.0L544.8 35.7L545.6 32.8L546.4 30.8L547.2 29.4L548.0 28.3L548.7 27.5L549.5 26.9L550.3 26.4L551.1 26.0L551.9 25.7L552.7 25.5L553.4 25.2L554.2 25.1L555.0 24.9L555.8 24.8L556.6 24.7L557.4 24.6L558.1 24.5L558.9 24.4L559.7 24.3L560.5 24.3L561.3 24.2L562.1 24.2L562.8 24.1L563.6 24.1L564.4 24.0L565.2 24.0L566.0 24.0L566.8 24.0L567.5 23.9L568.3 23.9L569.1 23.9L569.9 23.9L570.7 23.9L571.5 23.8L572.2 23.8L573.0 23.8L573.8 23.8L574.6 23.8L575.4 23.8L576.2 23.8L576.9 23.7L577.7 23.7L578.5 23.7L579.3 23.7L580.1 23.7L580.9 23.7L581.6 23.7L582.4 23.7L583.2 23.7L584.0 23.7L584.8 23.7L585.6 23.7L586.3 23.7L587.1 23.7L587.9 23.7L588.7 23.7L589.5 23.6L590.3 23.6L591.0 23.6L591.8 23.6L592.6 23.6L593.4 23.6L594.2 23.6L595.0 23.6L595.7 23.6L596.5 23.6L597.3 23.6L598.1 23.6L598.9 23.6L599.7 23.6L600.4 23.6L601.2 23.6L602.0 23.6L602.8 23.6L603.6 23.6L604.4 23.6L605.2 23.6L605.9 23.6L606.7 23.6L607.5 23.6L608.3 23.6L609.1 23.6L609.9 23.6L610.6 23.6L611.4 23.6L612.2 23.6L613.0 23.6L613.8 23.6L614.6 23.6L615.3 23.6L616.1 23.6L616.9 23.7L617.7 23.7L618.5 23.8L619.3 23.9L620.0 24.0L620.8 24.2L621.6 24.4L622.4 24.7L623.2 25.1L624.0 25.5L624.7 26.0L625.5 26.7L626.3 27.4L627.1 28.3L627.9 29.2L628.7 30.3L629.4 31.3L630.2 32.4L631.0 33.6L631.8 34.6L632.6 35.6L633.4 36.5L634.1 37.1L634.9 37.6L635.7 37.9L636.5 38.0L637.3 37.8L638.1 37.3L638.8 36.7L639.6 35.8L640.4 34.8L641.2 33.8L642.0 32.6L642.8 31.5L643.5 30.3L644.3 29.3L645.1 28.3L645.9 27.4L646.7 26.6L647.5 26.0L648.2 25.4L649.0 25.0L649.8 24.6L650.6 24.3L651.4 24.1L652.2 23.9L652.9 23.8L653.7 23.7L654.5 23.7L655.3 23.6L656.1 23.6L656.9 23.6L657.6 23.6L658.4 23.6L659.2 23.6L660.0 23.5L660.8 23.5L661.6 23.5L662.3 23.5L663.1 23.5L663.9 23.5L664.7 23.5L665.5 23.5L666.3 23.5L667.0 23.5L667.8 23.5L668.6 23.5L669.4 23.5L670.2 23.5L671.0 23.5L671.7 23.5L672.5 23.5L673.3 23.5L674.1 23.5L674.9 23.5L675.7 23.5L676.4 23.5L677.2 23.5L678.0 23.5L678.8 23.5L679.6 23.5L680.4 23.5L681.1 23.5L681.9 23.5L682.7 23.5L683.5 23.5"/>
<path d="M389.7 22.8L390.5 22.8L391.3 22.8L392.1 22.8L392.8 22.8L393.6 22.8L394.4 22.8L395.2 22.8L396.0 22.8L396.8 22.8L397.5 22.8L398.3 22.8L399.1 22.8L399.9 22.8L400.7 22.8L401.5 22.8L402.2 22.8L403.0 22.8L403.8 22.8L404.6 22.8L405.4 22.8L406.2 22.8L406.9 22.8L407.7 22.8L408.5 22.8L409.3 22.8L410.1 22.8L410.9 22.8L411.7 23.4L412.4 23.4L413.2 23.4L414.0 23.5L414.8 23.5L415.6 23.5L416.4 23.5L417.1 23.5L417.9 23.5L418.7 23.6L419.5 23.6L420.3 23.6L421.1 23.7L421.8 23.7L422.6 23.8L423.4 23.8L424.2 23.9L425.0 23.9L425.8 24.0L426.5 24.1L427.3 24.2L428.1 24.3L428.9 24.3L429.7 24.4L430.5 24.5L431.2 24.6L432.0 24.6L432.8 24.7L433.6 24.8L434.4 24.8L435.2 24.9L435.9 24.9L436.7 25.0L437.5 25.0L438.3 25.0L439.1 25.0L439.9 25.0L440.6 25.0L441.4 25.0L442.2 25.0L443.0 24.9L443.8 24.9L444.6 24.9L445.3 24.9L446.1 24.9L446.9 24.9L447.7 24.9L448.5 24.9L449.3 24.9L450.0 24.9L450.8 24.9L451.6 24.9L452.4 25.0L453.2 25.0L454.0 25.1L454.7 25.1L455.5 25.2L456.3 25.3L457.1 25.4L457.9 25.6L458.7 25.8L459.4 26.1L460.2 26.4L461.0 26.8L461.8 27.3L462.6 27.9L463.4 28.7L464.1 29.6L464.9 30.7L465.7 31.9L466.5 33.3L467.3 34.8L468.1 36.4L468.8 38.1L469.6 39.8L470.4 41.4L471.2 42.9L472.0 44.2L472.8 45.2L473.5 45.9L474.3 46.3L475.1 46.4L475.9 46.3L476.7 46.2L477.5 45.9L478.2 45.6L479.0 45.1L479.8 44.5L480.6 43.9L481.4 43.2L482.2 42.5L482.9 41.8L483.7 41.0L484.5 40.3L485.3 39.5L486.1 38.8L486.9 38.2L487.6 37.5L488.4 37.0L489.2 36.4L490.0 36.0L490.8 35.5L491.6 35.2L492.3 34.9L493.1 34.6L493.9 34.4L494.7 34.3L495.5 34.1L496.3 34.0L497.0 34.0L497.8 33.9L498.6 33.9L499.4 33.9L500.2 34.0L501.0 34.0L501.7 34.0L502.5 34.1L503.3 34.1L504.1 34.1L504.9 34.2L505.7 34.2L506.4 34.3L507.2 34.3L508.0 34.3L508.8 34.4L509.6 34.4L510.4 34.4L511.1 34.3L511.9 34.2L512.7 34.1L513.5 33.9L514.3 33.8L515.1 33.5L515.8 33.3L516.6 33.0L517.4 32.8L518.2 32.5L519.0 32.2L519.8 31.9L520.5 31.6L521.3 31.4L522.1 31.1L522.9 30.9L523.7 30.7L524.5 30.5L525.2 30.4L526.0 30.4L526.8 30.5L527.6 30.6L528.4 30.9L529.2 31.4L529.9 32.1L530.7 33.2L531.5 34.7L532.3 37.0L533.1 40.2L533.9 45.2L534.6 52.9L535.4 65.4L536.2 88.0L537.0 141.5L537.8 143.8L538.6 88.4L539.3 65.3L540.1 52.3L540.9 44.3L541.7 39.0L542.5 35.4L543.3 32.9L544.0 31.1L544.8 29.7L545.6 28.7L546.4 27.9L547.2 27.2L548.0 26.7L548.7 26.3L549.5 25.9L550.3 25.6L551.1 25.4L551.9 25.2L552.7 25.0L553.4 24.8L554.2 24.7L555.0 24.6L555.8 24.5L556.6 24.4L557.4 24.3L558.1 24.3L558.9 24.2L559.7 24.1L560.5 24.1L561.3 24.0L562.1 24.0L562.8 24.0L563.6 23.9L564.4 23.9L565.2 23.9L566.0 23.8L566.8 23.8L567.5 23.8L568.3 23.8L569.1 23.8L569.9 23.7L570.7 23.7L571.5 23.7L572.2 23.7L573.0 23.7L573.8 23.7L574.6 23.6L575.4 23.6L576.2 23.6L576.9 23.6L577.7 23.6L578.5 23.6L579.3 23.6L580.1 23.6L580.9 23.6L581.6 23.6L582.4 23.6L583.2 23.6L584.0 23.5L584.8 23.5L585.6 23.5L586.3 23.5L587.1 23.5L587.9 23.5L588.7 23.5L589.5 23.5L590.3 23.5L591.0 23.5L591.8 23.5L592.6 23.5L593.4 23.5L594.2 23.5L595.0 23.5L595.7 23.5L596.5 23.5L597.3 23.5L598.1 23.5L598.9 23.5L599.7 23.5L600.4 23.5L601.2 23.5L602.0 23.5L602.8 23.5L603.6 23.5L604.4 23.5L605.2 23.5L605.9 23.5L606.7 23.5L607.5 23.5L608.3 23.4L609.1 23.4L609.9 23.4L610.6 23.4L611.4 23.4L612.2 23.4L613.0 23.4L613.8 23.4L614.6 23.4L615.3 23.4L616.1 23.4L616.9 23.4L617.7 23.4L618.5 23.4L619.3 23.4L620.0 23.4L620.8 23.4L621.6 23.4L622.4 23.4L623.2 23.5L624.0 23.5L624.7 23.5L625.5 23.6L626.3 23.7L627.1 23.8L627.9 24.0L628.7 24.3L629.4 24.7L630.2 25.2L631.0 25.9L631.8 26.8L632.6 28.0L633.4 29.5L634.1 31.2L634.9 33.3L635.7 35.6L636.5 38.1L637.3 40.8L638.1 43.5L638.8 46.2L639.6 48.8L640.4 51.0L641.2 52.7L642.0 54.0L642.8 54.6L643.5 54.6L644.3 54.3L645.1 53.8L645.9 53.0L646.7 52.0L647.5 50.8L648.2 49.4L649.0 47.9L649.8 46.3L650.6 44.6L651.4 42.8L652.2 41.1L652.9 39.3L653.7 37.7L654.5 36.1L655.3 34.5L656.1 33.1L656.9 31.8L657.6 30.6L658.4 29.5L659.2 28.5L660.0 27.7L660.8 27.0L661.6 26.3L662.3 25.8L663.1 25.3L663.9 24.9L664.7 24.6L665.5 24.4L666.3 24.1L667.0 24.0L667.8 23.8L668.6 23.7L669.4 23.7L670.2 23.6L671.0 23.5L671.7 23.5L672.5 23.5L673.3 23.4L674.1 23.4L674.9 23.4L675.7 23.4L676.4 23.4L677.2 23.4L678.0 23.4L678.8 23.4L679.6 23.4L680.4 23.4L681.1 23.4L681.9 23.4L682.7 23.4L683.5 23.4"/>
<path d="M389.7 22.8L390.5 22.8L391.3 22.8L392.1 22.8L392.8 22.8L393.6 22.8L394.4 22.8L395.2 22.8L396.0 22.8L396.8 22.8L397.5 22.8L398.3 22.8L399.1 22.8L399.9 22.8L400.7 22.8L401.5 22.8L402.2 22.8L403.0 22.8L403.8 22.8L404.6 22.8L405.4 22.8L406.2 22.8L406.9 22.8L407.7 22.8L408.5 22.8L409.3 22.8L410.1 22.8L410.9 22.8L411.7 23.5L412.4 23.5L413.2 23.5L414.0 23.5L414.8 23.6L415.6 23.6L416.4 23.6L417.1 23.6L417.9 23.6L418.7 23.6L419.5 23.6L420.3 23.6L421.1 23.7L421.8 23.7L422.6 23.7L423.4 23.8L424.2 23.8L425.0 23.9L425.8 23.9L426.5 24.0L427.3 24.1L428.1 24.2L428.9 24.2L429.7 24.3L430.5 24.4L431.2 24.5L432.0 24.6L432.8 24.7L433.6 24.8L434.4 24.9L435.2 25.0L435.9 25.1L436.7 25.2L437.5 25.3L438.3 25.3L439.1 25.4L439.9 25.4L440.6 25.4L441.4 25.4L442.2 25.4L443.0 25.4L443.8 25.3L444.6 25.3L445.3 25.2L446.1 25.1L446.9 25.0L447.7 25.0L448.5 24.9L449.3 24.8L450.0 24.7L450.8 24.6L451.6 24.5L452.4 24.4L453.2 24.3L454.0 24.2L454.7 24.2L455.5 24.1L456.3 24.1L457.1 24.0L457.9 24.0L458.7 23.9L459.4 23.9L460.2 23.9L461.0 23.9L461.8 23.8L462.6 23.8L463.4 23.8L464.1 23.8L464.9 23.8L465.7 23.8L466.5 23.8L467.3 23.8L468.1 23.8L468.8 23.8L469.6 23.8L470.4 23.8L471.2 23.8L472.0 23.9L472.8 23.9L473.5 23.9L474.3 23.9L475.1 23.9L475.9 23.9L476.7 23.9L477.5 23.9L478.2 24.0L479.0 24.0L479.8 24.0L480.6 24.0L481.4 24.0L482.2 24.0L482.9 24.0L483.7 24.1L484.5 24.1L485.3 24.1L486.1 24.1L486.9 24.1L487.6 24.2L488.4 24.2L489.2 24.2L490.0 24.2L490.8 24.3L491.6 24.3L492.3 24.3L493.1 24.3L493.9 24.4L494.7 24.4L495.5 24.4L496.3 24.5L497.0 24.5L497.8 24.6L498.6 24.6L499.4 24.7L500.2 24.7L501.0 24.8L501.7 24.8L502.5 24.9L503.3 24.9L504.1 25.0L504.9 25.1L505.7 25.1L506.4 25.2L507.2 25.3L508.0 25.4L508.8 25.5L509.6 25.6L510.4 25.7L511.1 25.8L511.9 26.0L512.7 26.1L513.5 26.3L514.3 26.4L515.1 26.6L515.8 26.8L516.6 27.0L517.4 27.3L518.2 27.5L519.0 27.8L519.8 28.1L520.5 28.5L521.3 28.9L522.1 29.4L522.9 29.9L523.7 30.4L524.5 31.1L525.2 31.8L526.0 32.6L526.8 33.6L527.6 34.6L528.4 35.9L529.2 37.4L529.9 39.1L530.7 41.2L531.5 43.6L532.3 46.6L533.1 50.1L533.9 54.5L534.6 59.9L535.4 66.6L536.2 75.3L537.0 86.8L537.8 102.7L538.6 126.7L539.3 147.7L540.1 147.7L540.9 127.1L541.7 102.9L542.5 86.9L543.3 75.4L544.0 66.7L544.8 59.9L545.6 54.5L546.4 50.2L547.2 46.6L548.0 43.7L548.7 41.2L549.5 39.2L550.3 37.4L551.1 35.9L551.9 34.7L552.7 33.6L553.4 32.6L554.2 31.8L555.0 31.1L555.8 30.4L556.6 29.9L557.4 29.4L558.1 28.9L558.9 28.5L559.7 28.2L560.5 27.8L561.3 27.5L562.1 27.3L562.8 27.0L563.6 26.8L564.4 26.6L565.2 26.4L566.0 26.3L566.8 26.1L567.5 26.0L568.3 25.8L569.1 25.7L569.9 25.6L570.7 25.5L571.5 25.4L572.2 25.3L573.0 25.2L573.8 25.1L574.6 25.1L575.4 25.0L576.2 24.9L576.9 24.9L577.7 24.8L578.5 24.8L579.3 24.7L580.1 24.7L580.9 24.6L581.6 24.6L582.4 24.5L583.2 24.5L584.0 24.4L584.8 24.4L585.6 24.4L586.3 24.3L587.1 24.3L587.9 24.3L588.7 24.3L589.5 24.2L590.3 24.2L591.0 24.2L591.8 24.2L592.6 24.1L593.4 24.1L594.2 24.1L595.0 24.1L595.7 24.1L596.5 24.0L597.3 24.0L598.1 24.0L598.9 24.0L599.7 24.0L600.4 24.0L601.2 24.0L602.0 23.9L602.8 23.9L603.6 23.9L604.4 23.9L605.2 23.9L605.9 23.9L606.7 23.9L607.5 23.9L608.3 23.9L609.1 23.8L609.9 23.8L610.6 23.8L611.4 23.8L612.2 23.8L613.0 23.9L613.8 23.9L614.6 23.9L615.3 24.0L616.1 24.0L616.9 24.1L617.7 24.2L618.5 24.4L619.3 24.6L620.0 24.9L620.8 25.2L621.6 25.6L622.4 26.1L623.2 26.6L624.0 27.3L624.7 28.0L625.5 28.9L626.3 29.8L627.1 30.8L627.9 31.9L628.7 33.0L629.4 34.1L630.2 35.2L631.0 36.2L631.8 37.2L632.6 38.0L633.4 38.8L634.1 39.3L634.9 39.7L635.7 39.8L636.5 39.8L637.3 39.5L638.1 38.9L638.8 38.2L639.6 37.3L640.4 36.2L641.2 35.0L642.0 33.8L642.8 32.6L643.5 31.3L644.3 30.2L645.1 29.1L645.9 28.2L646.7 27.3L647.5 26.6L648.2 25.9L649.0 25.4L649.8 25.0L650.6 24.6L651.4 24.3L652.2 24.1L652.9 24.0L653.7 23.8L654.5 23.8L655.3 23.7L656.1 23.7L656.9 23.6L657.6 23.6L658.4 23.6L659.2 23.6L660.0 23.6L660.8 23.6L661.6 23.6L662.3 23.5L663.1 23.5L663.9 23.5L664.7 23.5L665.5 23.5L666.3 23.5L667.0 23.5L667.8 23.5L668.6 23.5L669.4 23.5L670.2 23.5L671.0 23.5L671.7 23.5L672.5 23.5L673.3 23.5L674.1 23.5L674.9 23.5L675.7 23.5L676.4 23.5L677.2 23.5L678.0 23.5L678.8 23.5L679.6 23.5L680.4 23.5L681.1 23.5L681.9 23.5L682.7 23.5L683.5 23.5"/>
<path d="M389.7 22.8L390.5 22.8L391.3 22.8L392.1 22.8L392.8 22.8L393.6 22.8L394.4 22.8L395.2 22.8L396.0 22.8L396.8 22.8L397.5 22.8L398.3 22.8L399.1 22.8L399.9 22.8L400.7 22.8L401.5 22.8L402.2 22.8L403.0 22.8L403.8 22.8L404.6 22.8L405.4 22.8L406.2 22.8L406.9 22.8L407.7 22.8L408.5 22.8L409.3 22.8L410.1 22.8L410.9 22.8L411.7 23.4L412.4 23.4L413.2 23.4L414.0 23.4L414.8 23.4L415.6 23.4L416.4 23.5L417.1 23.5L417.9 23.5L418.7 23.5L419.5 23.5L420.3 23.5L421.1 23.5L421.8 23.5L422.6 23.6L423.4 23.6L424.2 23.6L425.0 23.6L425.8 23.7L426.5 23.7L427.3 23.7L428.1 23.8L428.9 23.8L429.7 23.8L430.5 23.9L431.2 23.9L432.0 23.9L432.8 24.0L433.6 24.0L434.4 24.0L435.2 24.0L435.9 24.0L436.7 24.0L437.5 24.0L438.3 24.0L439.1 24.0L439.9 24.0L440.6 24.0L441.4 24.0L442.2 23.9L443.0 23.9L443.8 23.9L444.6 23.8L445.3 23.8L446.1 23.8L446.9 23.7L447.7 23.7L448.5 23.7L449.3 23.7L450.0 23.6L450.8 23.6L451.6 23.6L452.4 23.6L453.2 23.6L454.0 23.5L454.7 23.5L455.5 23.5L456.3 23.5L457.1 23.5L457.9 23.5L458.7 23.5L459.4 23.5L460.2 23.5L461.0 23.5L461.8 23.5L462.6 23.5L463.4 23.5L464.1 23.5L464.9 23.5L465.7 23.5L466.5 23.5L467.3 23.5L468.1 23.5L468.8 23.5L469.6 23.5L470.4 23.5L471.2 23.5L472.0 23.5L472.8 23.5L473.5 23.5L474.3 23.5L475.1 23.5L475.9 23.5L476.7 23.5L477.5 23.5L478.2 23.5L479.0 23.5L479.8 23.5L480.6 23.5L481.4 23.5L482.2 23.5L482.9 23.5L483.7 23.5L484.5 23.5L485.3 23.5L486.1 23.5L486.9 23.5L487.6 23.5L488.4 23.5L489.2 23.5L490.0 23.5L490.8 23.6L491.6 23.6L492.3 23.6L493.1 23.6L493.9 23.6L494.7 23.6L495.5 23.6L496.3 23.6L497.0 23.6L497.8 23.6L498.6 23.6L499.4 23.6L500.2 23.6L501.0 23.6L501.7 23.6L502.5 23.7L503.3 23.7L504.1 23.7L504.9 23.7L505.7 23.7L506.4 23.7L507.2 23.7L508.0 23.7L508.8 23.8L509.6 23.8L510.4 23.8L511.1 23.8L511.9 23.8L512.7 23.8L513.5 23.9L514.3 23.9L515.1 23.9L515.8 23.9L516.6 24.0L517.4 24.0L518.2 24.0L519.0 24.1L519.8 24.1L520.5 24.2L521.3 24.2L522.1 24.3L522.9 24.4L523.7 24.4L524.5 24.5L525.2 24.6L526.0 24.7L526.8 24.8L527.6 24.9L528.4 25.1L529.2 25.2L529.9 25.4L530.7 25.7L531.5 25.9L532.3 26.2L533.1 26.6L533.9 27.1L534.6 27.6L535.4 28.3L536.2 29.2L537.0 30.3L537.8 31.7L538.6 33.5L539.3 36.1L540.1 39.6L540.9 44.6L541.7 52.0L542.5 63.4L543.3 82.1L544.0 114.9L544.8 136.1L545.6 96.1L546.4 71.5L547.2 57.1L548.0 47.9L548.7 41.9L549.5 37.7L550.3 34.7L551.1 32.5L551.9 30.9L552.7 29.7L553.4 28.7L554.2 28.0L555.0 27.3L555.8 26.8L556.6 26.4L557.4 26.1L558.1 25.8L558.9 25.5L559.7 25.3L560.5 25.2L561.3 25.0L562.1 24.9L562.8 24.7L563.6 24.6L564.4 24.5L565.2 24.5L566.0 24.4L566.8 24.3L567.5 24.3L568.3 24.2L569.1 24.2L569.9 24.1L570.7 24.1L571.5 24.0L572.2 24.0L573.0 24.0L573.8 23.9L574.6 23.9L575.4 23.9L576.2 23.9L576.9 23.8L577.7 23.8L578.5 23.8L579.3 23.8L580.1 23.8L580.9 23.7L581.6 23.7L582.4 23.7L583.2 23.7L584.0 23.7L584.8 23.7L585.6 23.7L586.3 23.7L587.1 23.6L587.9 23.6L588.7 23.6L589.5 23.6L590.3 23.6L591.0 23.6L591.8 23.6L592.6 23.6L593.4 23.6L594.2 23.6L595.0 23.6L595.7 23.6L596.5 23.6L597.3 23.6L598.1 23.6L598.9 23.6L599.7 23.5L600.4 23.5L601.2 23.5L602.0 23.5L602.8 23.5L603.6 23.5L604.4 23.5L605.2 23.5L605.9 23.5L606.7 23.5L607.5 23.5L608.3 23.5L609.1 23.5L609.9 23.5L610.6 23.5L611.4 23.5L612.2 23.5L613.0 23.5L613.8 23.5L614.6 23.5L615.3 23.5L616.1 23.5L616.9 23.5L617.7 23.5L618.5 23.6L619.3 23.6L620.0 23.7L620.8 23.9L621.6 24.1L622.4 24.5L623.2 25.0L624.0 25.7L624.7 26.7L625.5 28.0L626.3 29.7L627.1 31.8L627.9 34.3L628.7 37.3L629.4 40.6L630.2 44.2L631.0 47.9L631.8 51.6L632.6 55.0L633.4 57.9L634.1 60.1L634.9 61.5L635.7 61.9L636.5 61.7L637.3 61.0L638.1 60.0L638.8 58.6L639.6 56.9L640.4 54.9L641.2 52.7L642.0 50.4L642.8 48.0L643.5 45.5L644.3 43.1L645.1 40.8L645.9 38.5L646.7 36.5L647.5 34.5L648.2 32.8L649.0 31.2L649.8 29.9L650.6 28.7L651.4 27.7L652.2 26.8L652.9 26.1L653.7 25.5L654.5 25.0L655.3 24.7L656.1 24.4L656.9 24.1L657.6 23.9L658.4 23.8L659.2 23.7L660.0 23.6L660.8 23.6L661.6 23.5L662.3 23.5L663.1 23.5L663.9 23.5L664.7 23.4L665.5 23.4L666.3 23.4L667.0 23.4L667.8 23.4L668.6 23.4L669.4 23.4L670.2 23.4L671.0 23.4L671.7 23.4L672.5 23.4L673.3 23.4L674.1 23.4L674.9 23.4L675.7 23.4L676.4 23.4L677.2 23.4L678.0 23.4L678.8 23.4L679.6 23.4L680.4 23.4L681.1 23.4L681.9 23.4L682.7 23.4L683.5 23.4"/>
<path d="M389.7 22.9L390.5 22.9L391.3 22.9L392.1 22.9L392.8 22.9L393.6 22.9L394.4 22.9L395.2 22.9L396.0 22.9L396.8 22.9L397.5 22.9L398.3 22.9L399.1 22.9L399.9 22.9L400.7 22.9L401.5 22.9L402.2 22.9L403.0 22.9L403.8 22.9L404.6 22.9L405.4 22.9L406.2 22.9L406.9 22.9L407.7 22.9L408.5 22.9L409.3 22.9L410.1 22.9L410.9 22.9L411.7 23.9L412.4 23.9L413.2 23.9L414.0 23.9L414.8 23.9L415.6 23.9L416.4 23.9L417.1 23.9L417.9 23.9L418.7 23.9L419.5 23.9L420.3 23.9L421.1 23.9L421.8 23.9L422.6 24.0L423.4 24.0L424.2 24.0L425.0 24.0L425.8 24.1L426.5 24.1L427.3 24.2L428.1 24.2L428.9 24.3L429.7 24.4L430.5 24.5L431.2 24.6L432.0 24.7L432.8 24.8L433.6 24.9L434.4 25.0L435.2 25.2L435.9 25.3L436.7 25.4L437.5 25.6L438.3 25.7L439.1 25.8L439.9 25.9L440.6 26.0L441.4 26.1L442.2 26.2L443.0 26.3L443.8 26.3L444.6 26.3L445.3 26.3L446.1 26.3L446.9 26.2L447.7 26.2L448.5 26.1L449.3 26.0L450.0 25.9L450.8 25.8L451.6 25.6L452.4 25.5L453.2 25.4L454.0 25.3L454.7 25.1L455.5 25.0L456.3 24.9L457.1 24.8L457.9 24.7L458.7 24.6L459.4 24.5L460.2 24.4L461.0 24.3L461.8 24.3L462.6 24.2L463.4 24.2L464.1 24.1L464.9 24.1L465.7 24.1L466.5 24.0L467.3 24.0L468.1 24.0L468.8 24.0L469.6 24.0L470.4 24.0L471.2 24.0L472.0 24.0L472.8 24.0L473.5 24.0L474.3 24.0L475.1 24.0L475.9 24.0L476.7 24.0L477.5 24.0L478.2 24.0L479.0 24.0L479.8 24.0L480.6 24.0L481.4 24.0L482.2 24.0L482.9 24.0L483.7 24.0L484.5 24.0L485.3 24.0L486.1 24.0L486.9 24.0L487.6 24.0L488.4 24.0L489.2 24.0L490.0 24.0L490.8 24.0L491.6 24.0L492.3 24.1L493.1 24.1L493.9 24.1L494.7 24.1L495.5 24.1L496.3 24.1L497.0 24.1L497.8 24.1L498.6 24.1L499.4 24.1L500.2 24.1L501.0 24.2L501.7 24.2L502.5 24.2L503.3 24.2L504.1 24.2L504.9 24.2L505.7 24.2L506.4 24.3L507.2 24.3L508.0 24.3L508.8 24.3L509.6 24.3L510.4 24.4L511.1 24.4L511.9 24.4L512.7 24.4L513.5 24.5L514.3 24.5L515.1 24.5L515.8 24.6L516.6 24.6L517.4 24.7L518.2 24.7L519.0 24.8L519.8 24.9L520.5 24.9L521.3 25.0L522.1 25.1L522.9 25.2L523.7 25.3L524.5 25.4L525.2 25.6L526.0 25.7L526.8 25.9L527.6 26.2L528.4 26.4L529.2 26.7L529.9 27.0L530.7 27.5L531.5 28.0L532.3 28.6L533.1 29.3L533.9 30.2L534.6 31.4L535.4 32.9L536.2 34.9L537.0 37.5L537.8 41.1L538.6 46.2L539.3 53.6L540.1 64.8L540.9 82.8L541.7 115.5L542.5 147.7L543.3 108.7L544.0 79.3L544.8 62.7L545.6 52.2L546.4 45.3L547.2 40.5L548.0 37.0L548.7 34.5L549.5 32.6L550.3 31.2L551.1 30.1L551.9 29.2L552.7 28.5L553.4 27.9L554.2 27.4L555.0 27.0L555.8 26.6L556.6 26.4L557.4 26.1L558.1 25.9L558.9 25.7L559.7 25.6L560.5 25.4L561.3 25.3L562.1 25.2L562.8 25.1L563.6 25.0L564.4 24.9L565.2 24.8L566.0 24.8L566.8 24.7L567.5 24.7L568.3 24.6L569.1 24.6L569.9 24.5L570.7 24.5L571.5 24.5L572.2 24.4L573.0 24.4L573.8 24.4L574.6 24.4L575.4 24.3L576.2 24.3L576.9 24.3L577.7 24.3L578.5 24.2L579.3 24.2L580.1 24.2L580.9 24.2L581.6 24.2L582.4 24.2L583.2 24.2L584.0 24.2L584.8 24.1L585.6 24.1L586.3 24.1L587.1 24.1L587.9 24.1L588.7 24.1L589.5 24.1L590.3 24.1L591.0 24.1L591.8 24.1L592.6 24.1L593.4 24.0L594.2 24.0L595.0 24.0L595.7 24.0L596.5 24.0L597.3 24.0L598.1 24.0L598.9 24.0L599.7 24.0L600.4 24.0L601.2 24.0L602.0 24.0L602.8 24.0L603.6 24.0L604.4 24.0L605.2 24.0L605.9 24.0L606.7 24.0L607.5 24.0L608.3 24.0L609.1 24.0L609.9 24.0L610.6 24.0L611.4 24.0L612.2 24.0L613.0 24.0L613.8 23.9L614.6 23.9L615.3 23.9L616.1 23.9L616.9 23.9L617.7 23.9L618.5 23.9L619.3 23.9L620.0 23.9L620.8 23.9L621.6 23.9L622.4 23.9L623.2 23.9L624.0 24.0L624.7 24.0L625.5 24.0L626.3 24.0L627.1 24.1L627.9 24.2L628.7 24.3L629.4 24.5L630.2 24.7L631.0 25.0L631.8 25.4L632.6 25.9L633.4 26.5L634.1 27.3L634.9 28.2L635.7 29.3L636.5 30.5L637.3 31.8L638.1 33.2L638.8 34.7L639.6 36.2L640.4 37.6L641.2 38.9L642.0 40.0L642.8 40.9L643.5 41.6L644.3 41.9L645.1 41.9L645.9 41.7L646.7 41.3L647.5 40.7L648.2 40.0L649.0 39.1L649.8 38.1L650.6 37.1L651.4 35.9L652.2 34.8L652.9 33.6L653.7 32.5L654.5 31.5L655.3 30.4L656.1 29.5L656.9 28.6L657.6 27.9L658.4 27.2L659.2 26.6L660.0 26.1L660.8 25.6L661.6 25.3L662.3 25.0L663.1 24.7L663.9 24.5L664.7 24.4L665.5 24.2L666.3 24.2L667.0 24.1L667.8 24.0L668.6 24.0L669.4 24.0L670.2 23.9L671.0 23.9L671.7 23.9L672.5 23.9L673.3 23.9L674.1 23.9L674.9 23.9L675.7 23.9L676.4 23.9L677.2 23.9L678.0 23.9L678.8 23.9L679.6 23.9L680.4 23.9L681.1 23.9L681.9 23.9L682.7 23.9L683.5 23.9"/>
<path d="M389.7 22.9L390.5 22.9L391.3 22.9L392.1 22.9L392.8 22.9L393.6 22.9L394.4 22.9L395.2 22.9L396.0 22.9L396.8 22.9L397.5 22.9L398.3 22.9L399.1 22.9L399.9 22.9L400.7 22.9L401.5 22.9L402.2 22.9L403.0 22.9L403.8 22.9L404.6 22.9L405.4 22.9L406.2 22.9L406.9 22.9L407.7 22.9L408.5 22.9L409.3 22.9L410.1 22.9L410.9 22.9L411.7 23.8L412.4 23.8L413.2 23.8L414.0 23.9L414.8 23.9L415.6 23.9L416.4 23.9L417.1 24.0L417.9 24.0L418.7 24.1L419.5 24.1L420.3 24.2L421.1 24.2L421.8 24.3L422.6 24.3L423.4 24.4L424.2 24.5L425.0 24.5L425.8 24.6L426.5 24.7L427.3 24.7L428.1 24.8L428.9 24.9L429.7 24.9L430.5 24.9L431.2 25.0L432.0 25.0L432.8 25.0L433.6 25.0L434.4 25.0L435.2 24.9L435.9 24.9L436.7 24.9L437.5 24.8L438.3 24.8L439.1 24.7L439.9 24.6L440.6 24.6L441.4 24.5L442.2 24.5L443.0 24.4L443.8 24.3L444.6 24.3L445.3 24.2L446.1 24.2L446.9 24.1L447.7 24.1L448.5 24.0L449.3 24.0L450.0 24.0L450.8 23.9L451.6 23.9L452.4 23.9L453.2 23.9L454.0 23.9L454.7 23.8L455.5 23.8L456.3 23.8L457.1 23.8L457.9 23.8L458.7 23.8L459.4 23.8L460.2 23.8L461.0 23.8L461.8 23.8L462.6 23.8L463.4 23.8L464.1 23.8L464.9 23.8L465.7 23.8L466.5 23.8L467.3 23.8L468.1 23.8L468.8 23.8L469.6 23.8L470.4 23.8L471.2 23.8L472.0 23.8L472.8 23.8L473.5 23.8L474.3 23.8L475.1 23.8L475.9 23.8L476.7 23.8L477.5 23.8L478.2 23.8L479.0 23.8L479.8 23.8L480.6 23.8L481.4 23.8L482.2 23.8L482.9 23.8L483.7 23.8L484.5 23.9L485.3 23.9L486.1 23.9L486.9 23.9L487.6 23.9L488.4 23.9L489.2 23.9L490.0 23.9L490.8 23.9L491.6 23.9L492.3 23.9L493.1 23.9L493.9 23.9L494.7 23.9L495.5 23.9L496.3 23.9L497.0 23.9L497.8 23.9L498.6 23.9L499.4 23.9L500.2 24.0L501.0 24.0L501.7 24.0L502.5 24.0L503.3 24.0L504.1 24.0L504.9 24.0L505.7 24.0L506.4 24.0L507.2 24.1L508.0 24.1L508.8 24.1L509.6 24.1L510.4 24.1L511.1 24.2L511.9 24.2L512.7 24.2L513.5 24.2L514.3 24.3L515.1 24.3L515.8 24.3L516.6 24.4L517.4 24.4L518.2 24.5L519.0 24.6L519.8 24.6L520.5 24.7L521.3 24.8L522.1 24.9L522.9 25.1L523.7 25.2L524.5 25.4L525.2 25.6L526.0 25.9L526.8 26.2L527.6 26.6L528.4 27.1L529.2 27.8L529.9 28.7L530.7 29.8L531.5 31.4L532.3 33.7L533.1 37.1L533.9 42.4L534.6 51.1L535.4 66.4L536.2 97.9L537.0 147.7L537.8 99.5L538.6 67.1L539.3 51.4L540.1 42.6L540.9 37.3L541.7 33.8L542.5 31.5L543.3 29.9L544.0 28.7L544.8 27.8L545.6 27.2L546.4 26.6L547.2 26.2L548.0 25.9L548.7 25.6L549.5 25.4L550.3 25.2L551.1 25.1L551.9 24.9L552.7 24.8L553.4 24.7L554.2 24.6L555.0 24.6L555.8 24.5L556.6 24.4L557.4 24.4L558.1 24.4L558.9 24.3L559.7 24.3L560.5 24.2L561.3 24.2L562.1 24.2L562.8 24.2L563.6 24.1L564.4 24.1L565.2 24.1L566.0 24.1L566.8 24.1L567.5 24.0L568.3 24.0L569.1 24.0L569.9 24.0L570.7 24.0L571.5 24.0L572.2 24.0L573.0 24.0L573.8 24.0L574.6 23.9L575.4 23.9L576.2 23.9L576.9 23.9L577.7 23.9L578.5 23.9L579.3 23.9L580.1 23.9L580.9 23.9L581.6 23.9L582.4 23.9L583.2 23.9L584.0 23.9L584.8 23.9L585.6 23.9L586.3 23.9L587.1 23.9L587.9 23.9L588.7 23.9L589.5 23.9L590.3 23.8L591.0 23.8L591.8 23.8L592.6 23.8L593.4 23.8L594.2 23.8L595.0 23.8L595.7 23.8L596.5 23.8L597.3 23.8L598.1 23.8L598.9 23.8L599.7 23.8L600.4 23.8L601.2 23.8L602.0 23.8L602.8 23.8L603.6 23.8L604.4 23.8L605.2 23.8L605.9 23.8L606.7 23.8L607.5 23.8L608.3 23.8L609.1 23.8L609.9 23.8L610.6 23.8L611.4 23.8L612.2 23.8L613.0 23.8L613.8 23.8L614.6 23.8L615.3 23.8L616.1 23.8L616.9 23.8L617.7 23.8L618.5 23.8L619.3 23.8L620.0 23.8L620.8 23.8L621.6 23.8L622.4 23.8L623.2 23.8L624.0 23.8L624.7 23.8L625.5 23.8L626.3 23.8L627.1 23.8L627.9 23.9L628.7 23.9L629.4 24.0L630.2 24.1L631.0 24.2L631.8 24.3L632.6 24.5L633.4 24.8L634.1 25.1L634.9 25.5L635.7 25.9L636.5 26.4L637.3 26.9L638.1 27.5L638.8 28.0L639.6 28.5L640.4 29.0L641.2 29.3L642.0 29.6L642.8 29.8L643.5 29.8L644.3 29.7L645.1 29.5L645.9 29.3L646.7 28.9L647.5 28.5L648.2 28.1L649.0 27.7L649.8 27.2L650.6 26.7L651.4 26.3L652.2 25.9L652.9 25.5L653.7 25.2L654.5 24.9L655.3 24.7L656.1 24.5L656.9 24.3L657.6 24.2L658.4 24.1L659.2 24.0L660.0 23.9L660.8 23.9L661.6 23.8L662.3 23.8L663.1 23.8L663.9 23.8L664.7 23.8L665.5 23.8L666.3 23.8L667.0 23.8L667.8 23.8L668.6 23.8L669.4 23.8L670.2 23.8L671.0 23.8L671.7 23.8L672.5 23.8L673.3 23.8L674.1 23.8L674.9 23.8L675.7 23.8L676.4 23.8L677.2 23.8L678.0 23.8L678.8 23.8L679.6 23.8L680.4 23.8L681.1 23.8L681.9 23.8L682.7 23.8L683.5 23.8"/>
<path d="M389.7 22.7L390.5 22.7L391.3 22.7L392.1 22.7L392.8 22.7L393.6 22.7L394.4 22.7L395.2 22.7L396.0 22.7L396.8 22.7L397.5 22.7L398.3 22.7L399.1 22.7L399.9 22.7L400.7 22.7L401.5 22.7L402.2 22.7L403.0 22.7L403.8 22.7L404.6 22.7L405.4 22.7L406.2 22.7L406.9 22.7L407.7 22.7L408.5 22.7L409.3 22.7L410.1 22.7L410.9 22.7L411.7 23.3L412.4 23.3L413.2 23.3L414.0 23.3L414.8 23.4L415.6 23.4L416.4 23.4L417.1 23.4L417.9 23.4L418.7 23.5L419.5 23.5L420.3 23.6L421.1 23.6L421.8 23.7L422.6 23.8L423.4 23.9L424.2 24.0L425.0 24.1L425.8 24.2L426.5 24.3L427.3 24.5L428.1 24.7L428.9 24.8L429.7 25.0L430.5 25.2L431.2 25.3L432.0 25.5L432.8 25.7L433.6 25.8L434.4 25.9L435.2 26.1L435.9 26.2L436.7 26.2L437.5 26.3L438.3 26.3L439.1 26.3L439.9 26.3L440.6 26.3L441.4 26.2L442.2 26.1L443.0 26.0L443.8 25.9L444.6 25.7L445.3 25.6L446.1 25.4L446.9 25.3L447.7 25.1L448.5 24.9L449.3 24.8L450.0 24.6L450.8 24.5L451.6 24.3L452.4 24.2L453.2 24.1L454.0 24.0L454.7 23.9L455.5 23.8L456.3 23.7L457.1 23.7L457.9 23.6L458.7 23.6L459.4 23.5L460.2 23.5L461.0 23.5L461.8 23.4L462.6 23.4L463.4 23.4L464.1 23.4L464.9 23.4L465.7 23.4L466.5 23.4L467.3 23.4L468.1 23.4L468.8 23.4L469.6 23.4L470.4 23.4L471.2 23.4L472.0 23.4L472.8 23.4L473.5 23.4L474.3 23.4L475.1 23.4L475.9 23.4L476.7 23.4L477.5 23.4L478.2 23.4L479.0 23.4L479.8 23.4L480.6 23.4L481.4 23.4L482.2 23.4L482.9 23.4L483.7 23.4L484.5 23.4L485.3 23.4L486.1 23.4L486.9 23.4L487.6 23.4L488.4 23.4L489.2 23.4L490.0 23.4L490.8 23.4L491.6 23.4L492.3 23.4L493.1 23.4L493.9 23.4L494.7 23.4L495.5 23.4L496.3 23.4L497.0 23.4L497.8 23.4L498.6 23.4L499.4 23.4L500.2 23.4L501.0 23.4L501.7 23.4L502.5 23.5L503.3 23.5L504.1 23.5L504.9 23.5L505.7 23.5L506.4 23.5L507.2 23.5L508.0 23.5L508.8 23.5L509.6 23.5L510.4 23.5L511.1 23.5L511.9 23.5L512.7 23.6L513.5 23.6L514.3 23.6L515.1 23.6L515.8 23.6L516.6 23.6L517.4 23.6L518.2 23.7L519.0 23.7L519.8 23.7L520.5 23.7L521.3 23.8L522.1 23.8L522.9 23.8L523.7 23.9L524.5 23.9L525.2 23.9L526.0 24.0L526.8 24.1L527.6 24.1L528.4 24.2L529.2 24.3L529.9 24.4L530.7 24.5L531.5 24.6L532.3 24.7L533.1 24.9L533.9 25.1L534.6 25.3L535.4 25.6L536.2 25.9L537.0 26.3L537.8 26.8L538.6 27.5L539.3 28.3L540.1 29.4L540.9 30.9L541.7 33.0L542.5 36.0L543.3 40.5L544.0 47.7L544.8 59.5L545.6 81.4L546.4 134.3L547.2 137.7L548.0 82.4L548.7 60.1L549.5 48.0L550.3 40.7L551.1 36.1L551.9 33.1L552.7 31.0L553.4 29.4L554.2 28.3L555.0 27.5L555.8 26.8L556.6 26.3L557.4 25.9L558.1 25.6L558.9 25.3L559.7 25.1L560.5 24.9L561.3 24.7L562.1 24.6L562.8 24.5L563.6 24.4L564.4 24.3L565.2 24.2L566.0 24.1L566.8 24.1L567.5 24.0L568.3 23.9L569.1 23.9L569.9 23.9L570.7 23.8L571.5 23.8L572.2 23.8L573.0 23.7L573.8 23.7L574.6 23.7L575.4 23.7L576.2 23.6L576.9 23.6L577.7 23.6L578.5 23.6L579.3 23.6L580.1 23.6L580.9 23.6L581.6 23.5L582.4 23.5L583.2 23.5L584.0 23.5L584.8 23.5L585.6 23.5L586.3 23.5L587.1 23.5L587.9 23.5L588.7 23.5L589.5 23.5L590.3 23.5L591.0 23.5L591.8 23.4L592.6 23.4L593.4 23.4L594.2 23.4L595.0 23.4L595.7 23.4L596.5 23.4L597.3 23.4L598.1 23.4L598.9 23.4L599.7 23.4L600.4 23.4L601.2 23.4L602.0 23.4L602.8 23.4L603.6 23.4L604.4 23.4L605.2 23.4L605.9 23.4L606.7 23.4L607.5 23.4L608.3 23.4L609.1 23.4L609.9 23.4L610.6 23.4L611.4 23.4L612.2 23.4L613.0 23.4L613.8 23.4L614.6 23.4L615.3 23.4L616.1 23.4L616.9 23.4L617.7 23.4L618.5 23.4L619.3 23.4L620.0 23.4L620.8 23.4L621.6 23.4L622.4 23.4L623.2 23.4L624.0 23.4L624.7 23.5L625.5 23.5L626.3 23.6L627.1 23.7L627.9 23.9L628.7 24.1L629.4 24.4L630.2 24.8L631.0 25.3L631.8 25.9L632.6 26.7L633.4 27.5L634.1 28.5L634.9 29.7L635.7 31.0L636.5 32.4L637.3 33.9L638.1 35.4L638.8 36.9L639.6 38.3L640.4 39.6L641.2 40.7L642.0 41.6L642.8 42.2L643.5 42.5L644.3 42.5L645.1 42.3L645.9 41.8L646.7 41.1L647.5 40.2L648.2 39.1L649.0 38.0L649.8 36.7L650.6 35.4L651.4 34.1L652.2 32.8L652.9 31.6L653.7 30.4L654.5 29.3L655.3 28.3L656.1 27.5L656.9 26.7L657.6 26.0L658.4 25.5L659.2 25.0L660.0 24.6L660.8 24.3L661.6 24.1L662.3 23.9L663.1 23.7L663.9 23.6L664.7 23.5L665.5 23.5L666.3 23.4L667.0 23.4L667.8 23.4L668.6 23.4L669.4 23.3L670.2 23.3L671.0 23.3L671.7 23.3L672.5 23.3L673.3 23.3L674.1 23.3L674.9 23.3L675.7 23.3L676.4 23.3L677.2 23.3L678.0 23.3L678.8 23.3L679.6 23.3L680.4 23.3L681.1 23.3L681.9 23.3L682.7 23.3L683.5 23.3"/>
<path d="M389.7 22.9L390.5 22.9L391.3 22.9L392.1 22.9L392.8 22.9L393.6 22.9L394.4 22.9L395.2 22.9L396.0 22.9L396.8 22.9L397.5 22.9L398.3 22.9L399.1 22.9L399.9 22.9L400.7 22.9L401.5 22.9L402.2 22.9L403.0 22.9L403.8 22.9L404.6 22.9L405.4 22.9L406.2 22.9L406.9 22.9L407.7 22.9L408.5 22.9L409.3 22.9L410.1 22.9L410.9 22.9L411.7 23.8L412.4 23.8L413.2 23.8L414.0 23.8L414.8 23.8L415.6 23.9L416.4 23.9L417.1 23.9L417.9 23.9L418.7 23.9L419.5 23.9L420.3 23.9L421.1 24.0L421.8 24.0L422.6 24.0L423.4 24.1L424.2 24.1L425.0 24.2L425.8 24.2L426.5 24.3L427.3 24.4L428.1 24.5L428.9 24.5L429.7 24.6L430.5 24.7L431.2 24.8L432.0 25.0L432.8 25.1L433.6 25.2L434.4 25.3L435.2 25.4L435.9 25.5L436.7 25.5L437.5 25.6L438.3 25.7L439.1 25.7L439.9 25.7L440.6 25.7L441.4 25.7L442.2 25.7L443.0 25.7L443.8 25.7L444.6 25.6L445.3 25.5L446.1 25.5L446.9 25.4L447.7 25.3L448.5 25.2L449.3 25.1L450.0 25.0L450.8 24.9L451.6 24.8L452.4 24.8L453.2 24.7L454.0 24.6L454.7 24.5L455.5 24.5L456.3 24.4L457.1 24.4L457.9 24.3L458.7 24.3L459.4 24.3L460.2 24.3L461.0 24.2L461.8 24.2L462.6 24.2L463.4 24.2L464.1 24.2L464.9 24.2L465.7 24.2L466.5 24.2L467.3 24.2L468.1 24.2L468.8 24.3L469.6 24.3L470.4 24.3L471.2 24.3L472.0 24.3L472.8 24.3L473.5 24.3L474.3 24.4L475.1 24.4L475.9 24.4L476.7 24.4L477.5 24.4L478.2 24.5L479.0 24.5L479.8 24.5L480.6 24.5L481.4 24.5L482.2 24.6L482.9 24.6L483.7 24.6L484.5 24.7L485.3 24.7L486.1 24.7L486.9 24.8L487.6 24.8L488.4 24.8L489.2 24.9L490.0 24.9L490.8 25.0L491.6 25.0L492.3 25.1L493.1 25.1L493.9 25.2L494.7 25.2L495.5 25.3L496.3 25.3L497.0 25.4L497.8 25.5L498.6 25.6L499.4 25.6L500.2 25.7L501.0 25.8L501.7 25.9L502.5 26.0L503.3 26.1L504.1 26.3L504.9 26.4L505.7 26.5L506.4 26.7L507.2 26.8L508.0 27.0L508.8 27.2L509.6 27.4L510.4 27.6L511.1 27.9L511.9 28.1L512.7 28.4L513.5 28.7L514.3 29.1L515.1 29.5L515.8 29.9L516.6 30.4L517.4 30.9L518.2 31.5L519.0 32.2L519.8 32.9L520.5 33.7L521.3 34.7L522.1 35.8L522.9 37.0L523.7 38.4L524.5 40.1L525.2 42.0L526.0 44.2L526.8 46.8L527.6 49.9L528.4 53.5L529.2 57.9L529.9 63.1L530.7 69.6L531.5 77.5L532.3 87.3L533.1 99.7L533.9 114.7L534.6 129.4L535.4 132.0L536.2 119.1L537.0 103.6L537.8 90.5L538.6 80.0L539.3 71.6L540.1 64.8L540.9 59.2L541.7 54.6L542.5 50.8L543.3 47.6L544.0 44.9L544.8 42.5L545.6 40.6L546.4 38.9L547.2 37.4L548.0 36.1L548.7 35.0L549.5 34.0L550.3 33.1L551.1 32.4L551.9 31.7L552.7 31.1L553.4 30.5L554.2 30.0L555.0 29.6L555.8 29.2L556.6 28.8L557.4 28.5L558.1 28.2L558.9 27.9L559.7 27.7L560.5 27.5L561.3 27.3L562.1 27.1L562.8 26.9L563.6 26.7L564.4 26.6L565.2 26.4L566.0 26.3L566.8 26.2L567.5 26.1L568.3 25.9L569.1 25.8L569.9 25.7L570.7 25.7L571.5 25.6L572.2 25.5L573.0 25.4L573.8 25.4L574.6 25.3L575.4 25.2L576.2 25.2L576.9 25.1L577.7 25.1L578.5 25.0L579.3 25.0L580.1 24.9L580.9 24.9L581.6 24.8L582.4 24.8L583.2 24.8L584.0 24.7L584.8 24.7L585.6 24.7L586.3 24.6L587.1 24.6L587.9 24.6L588.7 24.6L589.5 24.5L590.3 24.5L591.0 24.5L591.8 24.5L592.6 24.4L593.4 24.4L594.2 24.4L595.0 24.4L595.7 24.4L596.5 24.3L597.3 24.3L598.1 24.3L598.9 24.3L599.7 24.3L600.4 24.3L601.2 24.2L602.0 24.2L602.8 24.2L603.6 24.2L604.4 24.2L605.2 24.2L605.9 24.2L606.7 24.2L607.5 24.2L608.3 24.1L609.1 24.1L609.9 24.1L610.6 24.1L611.4 24.1L612.2 24.1L613.0 24.1L613.8 24.1L614.6 24.1L615.3 24.1L616.1 24.1L616.9 24.0L617.7 24.0L618.5 24.0L619.3 24.0L620.0 24.0L620.8 24.0L621.6 24.0L622.4 24.0L623.2 24.0L624.0 24.0L624.7 24.0L625.5 24.0L626.3 24.0L627.1 24.1L627.9 24.1L628.7 24.2L629.4 24.4L630.2 24.5L631.0 24.7L631.8 25.0L632.6 25.3L633.4 25.8L634.1 26.2L634.9 26.8L635.7 27.4L636.5 28.0L637.3 28.6L638.1 29.3L638.8 29.9L639.6 30.4L640.4 30.7L641.2 31.0L642.0 31.1L642.8 31.1L643.5 31.0L644.3 30.8L645.1 30.6L645.9 30.4L646.7 30.1L647.5 29.7L648.2 29.3L649.0 28.9L649.8 28.5L650.6 28.1L651.4 27.7L652.2 27.3L652.9 26.9L653.7 26.5L654.5 26.2L655.3 25.9L656.1 25.6L656.9 25.3L657.6 25.1L658.4 24.9L659.2 24.7L660.0 24.5L660.8 24.4L661.6 24.3L662.3 24.2L663.1 24.1L663.9 24.0L664.7 24.0L665.5 23.9L666.3 23.9L667.0 23.9L667.8 23.9L668.6 23.8L669.4 23.8L670.2 23.8L671.0 23.8L671.7 23.8L672.5 23.8L673.3 23.8L674.1 23.8L674.9 23.8L675.7 23.8L676.4 23.8L677.2 23.8L678.0 23.8L678.8 23.8L679.6 23.8L680.4 23.8L681.1 23.8L681.9 23.8L682.7 23.8L683.5 23.8"/>
</g>
<clipPath id="bx0"><rect x="388.00" y="19.50" width="296.00" height="123.85"/></clipPath>
<path clip-path="url(#bx0)" d="M389.6 22.0L390.1 22.1L390.6 22.2L391.1 22.3L391.6 22.4L392.1 22.5L392.6 22.6L393.1 22.6L393.6 22.7L394.1 22.8L394.6 22.8L395.1 22.9L395.6 23.0L396.1 23.0L396.6 23.1L397.1 23.2L397.6 23.2L398.1 23.3L398.6 23.3L399.1 23.4L399.6 23.4L400.1 23.4L400.6 23.4L401.1 23.4L401.6 23.3L402.1 23.2L402.6 23.2L403.1 23.1L403.6 23.0L404.1 22.9L404.6 22.9L405.1 22.8L405.6 22.7L406.1 22.6L406.6 22.5L407.1 22.4L407.6 22.3L408.1 22.2L408.6 22.1L409.1 22.0L409.6 22.0L410.1 22.0L410.6 22.1L411.1 22.2L411.6 22.3L412.1 22.5L412.6 22.7L413.1 22.9L413.6 23.2L414.1 23.5L414.6 23.7L415.1 24.0L415.6 24.3L416.1 24.7L416.6 25.1L417.1 25.5L417.6 26.0L418.1 26.5L418.6 27.1L419.1 27.7L419.6 28.3L420.1 28.9L420.6 29.5L421.1 30.1L421.6 30.7L422.1 31.4L422.6 32.1L423.1 32.8L423.6 33.5L424.1 34.2L424.6 35.0L425.1 35.7L425.6 36.4L426.1 37.1L426.6 37.8L427.1 38.5L427.6 39.2L428.1 39.9L428.6 40.5L429.1 41.2L429.6 41.9L430.1 42.5L430.6 43.1L431.1 43.7L431.6 44.3L432.1 44.8L432.6 45.3L433.1 45.9L433.6 46.3L434.1 46.8L434.6 47.2L435.1 47.5L435.6 47.8L436.1 48.2L436.6 48.4L437.1 48.7L437.6 48.8L438.1 48.8L438.6 48.7L439.1 48.6L439.6 48.4L440.1 48.3L440.6 48.1L441.1 47.8L441.6 47.5L442.1 47.2L442.6 46.8L443.1 46.4L443.6 45.9L444.1 45.3L444.6 44.8L445.1 44.1L445.6 43.5L446.1 42.8L446.6 42.2L447.1 41.5L447.6 40.8L448.1 40.2L448.6 39.6L449.1 39.0L449.6 38.4L450.1 37.7L450.6 37.1L451.1 36.5L451.6 35.8L452.1 35.2L452.6 34.7L453.1 34.1L453.6 33.6L454.1 33.1L454.6 32.6L455.1 32.1L455.6 31.7L456.1 31.2L456.6 30.8L457.1 30.4L457.6 30.0L458.1 29.6L458.6 29.3L459.1 29.0L459.6 28.7L460.1 28.4L460.6 28.1L461.1 27.9L461.6 27.7L462.1 27.5L462.6 27.3L463.1 27.2L463.6 27.1L464.1 27.0L464.6 26.9L465.1 26.8L465.6 26.7L466.1 26.6L466.6 26.6L467.1 26.5L467.6 26.4L468.1 26.4L468.6 26.3L469.1 26.2L469.6 26.2L470.1 26.1L470.6 26.0L471.1 26.0L471.6 25.9L472.1 25.8L472.6 25.7L473.1 25.6L473.6 25.5L474.1 25.5L474.6 25.4L475.1 25.3L475.6 25.2L476.1 25.1L476.6 25.0L477.1 24.9L477.6 24.8L478.1 24.8L478.6 24.7L479.1 24.6L479.6 24.5L480.1 24.5L480.6 24.4L481.1 24.4L481.6 24.3L482.1 24.3L482.6 24.2L483.1 24.2L483.6 24.2L484.1 24.1L484.6 24.1L485.1 24.1L485.6 24.0L486.1 24.0L486.6 24.0L487.1 24.0L487.6 24.0L488.1 24.0L488.6 24.0L489.1 24.0L489.6 24.0L490.1 24.1L490.6 24.1L491.1 24.1L491.6 24.2L492.1 24.2L492.6 24.2L493.1 24.3L493.6 24.3L494.1 24.4L494.6 24.4L495.1 24.5L495.6 24.5L496.1 24.6L496.6 24.6L497.1 24.7L497.6 24.7L498.1 24.8L498.6 24.8L499.1 24.9L499.6 25.0L500.1 25.0L500.6 25.1L501.1 25.2L501.6 25.2L502.1 25.3L502.6 25.4L503.1 25.5L503.6 25.6L504.1 25.7L504.6 25.8L505.1 25.9L505.6 26.0L506.1 26.1L506.6 26.2L507.1 26.3L507.6 26.5L508.1 26.6L508.6 26.7L509.1 26.8L509.6 27.0L510.1 27.1L510.6 27.3L511.1 27.5L511.6 27.7L512.1 27.9L512.6 28.2L513.1 28.4L513.6 28.7L514.1 28.9L514.6 29.2L515.1 29.5L515.6 29.7L516.1 30.0L516.6 30.3L517.1 30.7L517.6 31.0L518.1 31.4L518.6 31.7L519.1 32.1L519.6 32.5L520.1 32.9L520.6 33.3L521.1 33.8L521.6 34.2L522.1 34.7L522.6 35.2L523.1 35.7L523.6 36.2L524.1 36.8L524.6 37.3L525.1 37.9L525.6 38.5L526.1 39.2L526.6 39.8L527.1 40.5L527.6 41.2L528.1 41.9L528.6 42.6L529.1 43.4L529.6 44.2L530.1 45.0L530.6 45.9L531.1 46.7L531.6 47.6L532.1 48.5L532.6 49.3L533.1 50.2L533.6 51.1L534.1 52.0L534.6 52.9L535.1 53.8L535.6 54.8L536.1 55.9L536.6 57.1L537.1 58.3L537.6 59.5L538.1 60.7L538.6 61.8L539.1 62.8L539.6 63.6L540.1 64.5L540.6 65.3L541.1 66.0L541.6 66.4L542.1 66.3L542.6 65.7L543.1 64.9L543.6 64.0L544.1 62.9L544.6 61.7L545.1 60.3L545.6 59.0L546.1 57.8L546.6 56.4L547.1 55.1L547.6 53.8L548.1 52.5L548.6 51.3L549.1 50.1L549.6 49.0L550.1 48.0L550.6 47.0L551.1 46.1L551.6 45.1L552.1 44.3L552.6 43.4L553.1 42.6L553.6 41.9L554.1 41.2L554.6 40.5L555.1 39.9L555.6 39.3L556.1 38.7L556.6 38.1L557.1 37.6L557.6 37.1L558.1 36.6L558.6 36.1L559.1 35.6L559.6 35.2L560.1 34.8L560.6 34.4L561.1 34.0L561.6 33.6L562.1 33.2L562.6 32.9L563.1 32.5L563.6 32.2L564.1 31.9L564.6 31.6L565.1 31.3L565.6 31.0L566.1 30.8L566.6 30.6L567.1 30.3L567.6 30.1L568.1 29.9L568.6 29.7L569.1 29.5L569.6 29.3L570.1 29.1L570.6 28.9L571.1 28.7L571.6 28.5L572.1 28.4L572.6 28.3L573.1 28.1L573.6 28.0L574.1 27.9L574.6 27.9L575.1 27.8L575.6 27.7L576.1 27.6L576.6 27.5L577.1 27.5L577.6 27.4L578.1 27.4L578.6 27.3L579.1 27.2L579.6 27.2L580.1 27.1L580.6 27.1L581.1 27.0L581.6 27.0L582.1 26.9L582.6 26.9L583.1 26.8L583.6 26.8L584.1 26.8L584.6 26.7L585.1 26.7L585.6 26.6L586.1 26.6L586.6 26.5L587.1 26.5L587.6 26.4L588.1 26.4L588.6 26.3L589.1 26.3L589.6 26.2L590.1 26.2L590.6 26.1L591.1 26.1L591.6 26.1L592.1 26.0L592.6 26.0L593.1 26.0L593.6 25.9L594.1 25.9L594.6 25.9L595.1 25.9L595.6 25.9L596.1 25.9L596.6 25.9L597.1 25.9L597.6 25.9L598.1 25.9L598.6 25.9L599.1 25.9L599.6 25.9L600.1 25.9L600.6 25.9L601.1 26.0L601.6 26.0L602.1 26.1L602.6 26.2L603.1 26.4L603.6 26.5L604.1 26.7L604.6 26.9L605.1 27.0L605.6 27.2L606.1 27.4L606.6 27.6L607.1 27.8L607.6 28.0L608.1 28.2L608.6 28.3L609.1 28.5L609.6 28.7L610.1 28.8L610.6 29.0L611.1 29.2L611.6 29.3L612.1 29.5L612.6 29.7L613.1 29.9L613.6 30.1L614.1 30.3L614.6 30.5L615.1 30.7L615.6 30.9L616.1 31.2L616.6 31.4L617.1 31.7L617.6 31.9L618.1 32.2L618.6 32.5L619.1 32.8L619.6 33.2L620.1 33.6L620.6 34.0L621.1 34.4L621.6 34.9L622.1 35.4L622.6 36.1L623.1 36.9L623.6 37.8L624.1 38.8L624.6 39.9L625.1 41.0L625.6 42.1L626.1 43.4L626.6 44.7L627.1 46.2L627.6 47.8L628.1 49.5L628.6 51.4L629.1 53.5L629.6 55.8L630.1 58.1L630.6 60.4L631.1 63.0L631.6 65.9L632.1 69.6L632.6 73.7L633.1 78.5L633.6 83.5L634.1 88.5L634.6 93.8L635.1 99.5L635.6 106.1L636.1 113.8L636.6 122.1L637.1 130.3L637.6 139.4L638.1 157.9L638.6 180.8L639.1 180.8L639.6 157.9L640.1 139.4L640.6 130.4L641.1 122.0L641.6 113.2L642.1 105.4L642.6 98.9L643.1 93.0L643.6 87.7L644.1 83.3L644.6 79.9L645.1 77.1L645.6 73.5L646.1 68.8L646.6 64.5L647.1 60.9L647.6 57.7L648.1 54.8L648.6 52.4L649.1 50.2L649.6 48.3L650.1 46.5L650.6 45.0L651.1 43.6L651.6 42.3L652.1 41.1L652.6 40.0L653.1 39.1L653.6 38.2L654.1 37.5L654.6 36.8L655.1 36.2L655.6 35.6L656.1 35.1L656.6 34.6L657.1 34.2L657.6 33.8L658.1 33.4L658.6 33.1L659.1 32.8L659.6 32.6L660.1 32.3L660.6 32.1L661.1 31.9L661.6 31.6L662.1 31.4L662.6 31.3L663.1 31.1L663.6 30.9L664.1 30.7L664.6 30.6L665.1 30.4L665.6 30.2L666.1 30.1L666.6 29.9L667.1 29.7L667.6 29.6L668.1 29.4L668.6 29.3L669.1 29.1L669.6 28.9L670.1 28.8L670.6 28.7L671.1 28.5L671.6 28.4L672.1 28.3L672.6 28.2L673.1 28.1L673.6 28.0L674.1 27.9L674.6 27.8L675.1 27.8L675.6 27.7L676.1 27.7L676.6 27.7L677.1 27.6L677.6 27.6L678.1 27.6L678.6 27.6L679.1 27.6L679.6 27.7L680.1 27.7L680.6 27.8L681.1 27.9L681.6 28.0L682.1 28.1L682.6 28.3L683.1 28.4" fill="none" stroke="#0000ff" stroke-width="3.2" stroke-linejoin="round" stroke-linecap="round"/>
<line x1="424.60" y1="82.58" x2="436.30" y2="82.58" stroke="#ff0000" stroke-width="3" stroke-linecap="butt"/>
<line x1="535.10" y1="82.58" x2="542.60" y2="82.58" stroke="#ff0000" stroke-width="3" stroke-linecap="butt"/>
<line x1="625.00" y1="82.58" x2="644.60" y2="82.58" stroke="#ff0000" stroke-width="3" stroke-linecap="butt"/>
<clipPath id="ax1"><rect x="389.50" y="224.75" width="294.40" height="122.35"/></clipPath>
<line x1="409.30" y1="225.45" x2="409.30" y2="346.60" stroke="#e4e4e4" stroke-width="1.2"/>
<line x1="487.64" y1="225.45" x2="487.64" y2="346.60" stroke="#e4e4e4" stroke-width="1.2"/>
<line x1="565.98" y1="225.45" x2="565.98" y2="346.60" stroke="#e4e4e4" stroke-width="1.2"/>
<line x1="644.32" y1="225.45" x2="644.32" y2="346.60" stroke="#e4e4e4" stroke-width="1.2"/>
<line x1="390.00" y1="286.02" x2="683.40" y2="286.02" stroke="#e4e4e4" stroke-width="1.2"/>
<rect x="390.00" y="225.45" width="293.40" height="121.15" fill="none" stroke="#555" stroke-width="1.6" stroke-linejoin="round"/>
<path d="M409.30 346.60v-2.60M409.30 225.45v2.60" stroke="#555" stroke-width="1.1"/>
<text x="408.90" y="371.80" font-size="18.67" text-anchor="middle">2</text>
<path d="M487.64 346.60v-2.60M487.64 225.45v2.60" stroke="#555" stroke-width="1.1"/>
<text x="487.24" y="371.80" font-size="18.67" text-anchor="middle">4</text>
<path d="M565.98 346.60v-2.60M565.98 225.45v2.60" stroke="#555" stroke-width="1.1"/>
<text x="565.58" y="371.80" font-size="18.67" text-anchor="middle">6</text>
<path d="M644.32 346.60v-2.60M644.32 225.45v2.60" stroke="#555" stroke-width="1.1"/>
<text x="643.92" y="371.80" font-size="18.67" text-anchor="middle">8</text>
<path d="M390.00 225.45h2.60M683.40 225.45h-2.60" stroke="#555" stroke-width="1.1"/>
<text x="381.6" y="232.55" font-size="18.67" text-anchor="end">0</text>
<path d="M390.00 286.02h2.60M683.40 286.02h-2.60" stroke="#555" stroke-width="1.1"/>
<text x="381.6" y="293.12" font-size="18.67" text-anchor="end">-10</text>
<path d="M390.00 346.60h2.60M683.40 346.60h-2.60" stroke="#555" stroke-width="1.1"/>
<text x="381.6" y="353.70" font-size="18.67" text-anchor="end">-20</text>
<text x="537.1" y="397.00" font-size="20.5" text-anchor="middle">Frequency [GHz]</text>
<text transform="translate(338.9,323.40) rotate(-90)" font-size="20.5"><tspan x="-2" fill="#c4c4c4">|</tspan><tspan x="2.3" font-style="italic">S</tspan><tspan font-size="15.4" x="13.6 22.7" dy="9">11</tspan><tspan x="30.5" dy="-9" fill="#c4c4c4">|</tspan><tspan x="40.3">[dB]</tspan></text>
<g clip-path="url(#ax1)" fill="none" stroke-linejoin="round" stroke-linecap="round" stroke="#bcbcbc" stroke-width="1.25">
<path d="M389.7 226.0L390.5 226.0L391.3 226.0L392.1 226.0L392.8 226.0L393.6 226.0L394.4 226.0L395.2 226.0L396.0 226.0L396.8 226.0L397.5 226.0L398.3 226.0L399.1 226.0L399.9 226.0L400.7 226.0L401.5 226.0L402.2 226.0L403.0 226.0L403.8 226.0L404.6 226.0L405.4 226.0L406.2 226.0L406.9 226.0L407.7 226.0L408.5 226.0L409.3 226.0L410.1 226.0L410.9 226.0L411.7 226.0L412.4 226.0L413.2 227.7L414.0 227.7L414.8 227.7L415.6 227.7L416.4 227.7L417.1 227.7L417.9 227.8L418.7 227.8L419.5 227.8L420.3 227.8L421.1 227.9L421.8 227.9L422.6 228.0L423.4 228.1L424.2 228.3L425.0 228.4L425.8 228.7L426.5 228.9L427.3 229.3L428.1 229.6L428.9 230.1L429.7 230.6L430.5 231.1L431.2 231.7L432.0 232.4L432.8 233.0L433.6 233.7L434.4 234.4L435.2 235.0L435.9 235.6L436.7 236.1L437.5 236.5L438.3 236.8L439.1 237.0L439.9 237.1L440.6 237.2L441.4 237.1L442.2 237.1L443.0 237.0L443.8 236.9L444.6 236.8L445.3 236.6L446.1 236.4L446.9 236.2L447.7 236.0L448.5 235.8L449.3 235.5L450.0 235.3L450.8 235.1L451.6 234.8L452.4 234.6L453.2 234.3L454.0 234.1L454.7 233.9L455.5 233.6L456.3 233.4L457.1 233.1L457.9 232.9L458.7 232.6L459.4 232.4L460.2 232.1L461.0 231.9L461.8 231.6L462.6 231.4L463.4 231.2L464.1 231.0L464.9 230.8L465.7 230.6L466.5 230.4L467.3 230.2L468.1 230.0L468.8 229.8L469.6 229.7L470.4 229.5L471.2 229.3L472.0 229.2L472.8 229.1L473.5 228.9L474.3 228.8L475.1 228.7L475.9 228.6L476.7 228.5L477.5 228.4L478.2 228.3L479.0 228.2L479.8 228.2L480.6 228.1L481.4 228.1L482.2 228.0L482.9 228.0L483.7 227.9L484.5 227.9L485.3 227.9L486.1 227.9L486.9 227.8L487.6 227.8L488.4 227.8L489.2 227.8L490.0 227.8L490.8 227.8L491.6 227.8L492.3 227.8L493.1 227.8L493.9 227.8L494.7 227.7L495.5 227.7L496.3 227.7L497.0 227.7L497.8 227.7L498.6 227.7L499.4 227.7L500.2 227.7L501.0 227.7L501.7 227.7L502.5 227.7L503.3 227.7L504.1 227.7L504.9 227.7L505.7 227.8L506.4 227.8L507.2 227.8L508.0 227.8L508.8 227.8L509.6 227.8L510.4 227.8L511.1 227.8L511.9 227.9L512.7 227.9L513.5 228.0L514.3 228.1L515.1 228.2L515.8 228.3L516.6 228.5L517.4 228.7L518.2 229.0L519.0 229.3L519.8 229.8L520.5 230.3L521.3 230.9L522.1 231.6L522.9 232.4L523.7 233.3L524.5 234.4L525.2 235.6L526.0 237.0L526.8 238.4L527.6 240.0L528.4 241.7L529.2 243.5L529.9 245.4L530.7 247.2L531.5 249.1L532.3 251.0L533.1 252.8L533.9 254.4L534.6 255.9L535.4 257.3L536.2 258.4L537.0 259.2L537.8 259.8L538.6 260.0L539.3 260.0L540.1 259.7L540.9 259.1L541.7 258.3L542.5 257.3L543.3 256.0L544.0 254.6L544.8 253.0L545.6 251.3L546.4 249.6L547.2 247.8L548.0 246.0L548.7 244.2L549.5 242.4L550.3 240.8L551.1 239.2L551.9 237.7L552.7 236.4L553.4 235.2L554.2 234.1L555.0 233.1L555.8 232.2L556.6 231.5L557.4 230.8L558.1 230.3L558.9 229.8L559.7 229.4L560.5 229.1L561.3 228.8L562.1 228.6L562.8 228.4L563.6 228.3L564.4 228.2L565.2 228.1L566.0 228.0L566.8 228.0L567.5 228.0L568.3 227.9L569.1 227.9L569.9 227.9L570.7 227.9L571.5 227.9L572.2 227.9L573.0 227.9L573.8 227.9L574.6 227.9L575.4 227.9L576.2 227.9L576.9 227.9L577.7 227.9L578.5 227.9L579.3 227.9L580.1 227.9L580.9 227.9L581.6 227.9L582.4 227.9L583.2 227.9L584.0 227.9L584.8 228.0L585.6 228.0L586.3 228.0L587.1 228.0L587.9 228.0L588.7 228.0L589.5 228.0L590.3 228.0L591.0 228.0L591.8 228.0L592.6 228.0L593.4 228.0L594.2 228.1L595.0 228.1L595.7 228.1L596.5 228.1L597.3 228.1L598.1 228.1L598.9 228.1L599.7 228.2L600.4 228.2L601.2 228.2L602.0 228.2L602.8 228.2L603.6 228.2L604.4 228.3L605.2 228.3L605.9 228.3L606.7 228.3L607.5 228.4L608.3 228.4L609.1 228.4L609.9 228.5L610.6 228.5L611.4 228.5L612.2 228.6L613.0 228.6L613.8 228.7L614.6 228.7L615.3 228.8L616.1 228.9L616.9 228.9L617.7 229.0L618.5 229.1L619.3 229.2L620.0 229.3L620.8 229.4L621.6 229.5L622.4 229.6L623.2 229.8L624.0 229.9L624.7 230.1L625.5 230.3L626.3 230.6L627.1 230.8L627.9 231.1L628.7 231.5L629.4 231.9L630.2 232.4L631.0 233.0L631.8 233.6L632.6 234.4L633.4 235.4L634.1 236.5L634.9 238.0L635.7 239.8L636.5 242.0L637.3 244.9L638.1 248.6L638.8 253.6L639.6 260.2L640.4 269.2L641.2 281.6L642.0 298.4L642.8 316.7L643.5 317.1L644.3 298.9L645.1 281.9L645.9 269.4L646.7 260.4L647.5 253.7L648.2 248.7L649.0 245.0L649.8 242.1L650.6 239.8L651.4 238.0L652.2 236.6L652.9 235.4L653.7 234.4L654.5 233.6L655.3 233.0L656.1 232.4L656.9 231.9L657.6 231.5L658.4 231.2L659.2 230.8L660.0 230.6L660.8 230.3L661.6 230.1L662.3 229.9L663.1 229.8L663.9 229.6L664.7 229.5L665.5 229.4L666.3 229.3L667.0 229.2L667.8 229.1L668.6 229.0L669.4 228.9L670.2 228.9L671.0 228.8L671.7 228.7L672.5 228.7L673.3 228.6L674.1 228.6L674.9 228.5L675.7 228.5L676.4 228.5L677.2 228.4L678.0 228.4L678.8 228.4L679.6 228.3L680.4 228.3L681.1 228.3L681.9 228.3L682.7 228.2L683.5 228.2"/>
<path d="M389.7 225.9L390.5 225.9L391.3 225.9L392.1 225.9L392.8 225.9L393.6 225.9L394.4 225.9L395.2 225.9L396.0 225.9L396.8 225.9L397.5 225.9L398.3 225.9L399.1 225.9L399.9 225.9L400.7 225.9L401.5 225.9L402.2 225.9L403.0 225.9L403.8 225.9L404.6 225.9L405.4 225.9L406.2 225.9L406.9 225.9L407.7 225.9L408.5 225.9L409.3 225.9L410.1 225.9L410.9 225.9L411.7 225.9L412.4 225.9L413.2 227.4L414.0 227.4L414.8 227.4L415.6 227.4L416.4 227.4L417.1 227.4L417.9 227.4L418.7 227.5L419.5 227.5L420.3 227.6L421.1 227.6L421.8 227.8L422.6 227.9L423.4 228.1L424.2 228.3L425.0 228.6L425.8 229.0L426.5 229.4L427.3 230.0L428.1 230.6L428.9 231.4L429.7 232.2L430.5 233.1L431.2 234.1L432.0 235.1L432.8 236.2L433.6 237.3L434.4 238.3L435.2 239.3L435.9 240.2L436.7 240.9L437.5 241.5L438.3 241.9L439.1 242.1L439.9 242.1L440.6 242.0L441.4 241.8L442.2 241.5L443.0 241.1L443.8 240.7L444.6 240.1L445.3 239.6L446.1 239.0L446.9 238.4L447.7 237.9L448.5 237.3L449.3 236.8L450.0 236.3L450.8 235.9L451.6 235.6L452.4 235.3L453.2 235.1L454.0 234.9L454.7 234.8L455.5 234.8L456.3 234.8L457.1 234.9L457.9 235.0L458.7 235.1L459.4 235.2L460.2 235.3L461.0 235.3L461.8 235.4L462.6 235.4L463.4 235.3L464.1 235.2L464.9 235.1L465.7 235.0L466.5 234.8L467.3 234.7L468.1 234.5L468.8 234.2L469.6 234.0L470.4 233.7L471.2 233.4L472.0 233.1L472.8 232.8L473.5 232.5L474.3 232.1L475.1 231.8L475.9 231.5L476.7 231.2L477.5 230.9L478.2 230.6L479.0 230.3L479.8 230.0L480.6 229.7L481.4 229.5L482.2 229.3L482.9 229.1L483.7 228.9L484.5 228.7L485.3 228.5L486.1 228.4L486.9 228.3L487.6 228.1L488.4 228.0L489.2 227.9L490.0 227.9L490.8 227.8L491.6 227.7L492.3 227.7L493.1 227.6L493.9 227.6L494.7 227.6L495.5 227.6L496.3 227.5L497.0 227.5L497.8 227.5L498.6 227.5L499.4 227.5L500.2 227.5L501.0 227.5L501.7 227.5L502.5 227.5L503.3 227.5L504.1 227.5L504.9 227.5L505.7 227.5L506.4 227.5L507.2 227.5L508.0 227.5L508.8 227.5L509.6 227.5L510.4 227.5L511.1 227.5L511.9 227.6L512.7 227.6L513.5 227.7L514.3 227.7L515.1 227.8L515.8 228.0L516.6 228.2L517.4 228.4L518.2 228.7L519.0 229.1L519.8 229.6L520.5 230.2L521.3 230.9L522.1 231.8L522.9 232.9L523.7 234.2L524.5 235.6L525.2 237.3L526.0 239.2L526.8 241.3L527.6 243.6L528.4 246.1L529.2 248.7L529.9 251.4L530.7 254.2L531.5 256.9L532.3 259.6L533.1 262.2L533.9 264.5L534.6 266.5L535.4 268.2L536.2 269.5L537.0 270.4L537.8 270.8L538.6 270.8L539.3 270.4L540.1 269.8L540.9 268.9L541.7 267.8L542.5 266.4L543.3 264.8L544.0 263.1L544.8 261.2L545.6 259.2L546.4 257.1L547.2 254.9L548.0 252.8L548.7 250.7L549.5 248.6L550.3 246.5L551.1 244.6L551.9 242.7L552.7 241.0L553.4 239.4L554.2 237.9L555.0 236.5L555.8 235.3L556.6 234.2L557.4 233.2L558.1 232.3L558.9 231.6L559.7 230.9L560.5 230.4L561.3 229.9L562.1 229.5L562.8 229.1L563.6 228.9L564.4 228.6L565.2 228.4L566.0 228.3L566.8 228.2L567.5 228.1L568.3 228.0L569.1 227.9L569.9 227.9L570.7 227.9L571.5 227.8L572.2 227.8L573.0 227.8L573.8 227.8L574.6 227.8L575.4 227.8L576.2 227.8L576.9 227.8L577.7 227.8L578.5 227.9L579.3 227.9L580.1 227.9L580.9 227.9L581.6 227.9L582.4 227.9L583.2 227.9L584.0 228.0L584.8 228.0L585.6 228.0L586.3 228.0L587.1 228.0L587.9 228.0L588.7 228.1L589.5 228.1L590.3 228.1L591.0 228.1L591.8 228.2L592.6 228.2L593.4 228.2L594.2 228.3L595.0 228.3L595.7 228.3L596.5 228.4L597.3 228.4L598.1 228.4L598.9 228.5L599.7 228.5L600.4 228.6L601.2 228.6L602.0 228.7L602.8 228.7L603.6 228.8L604.4 228.8L605.2 228.9L605.9 229.0L606.7 229.1L607.5 229.1L608.3 229.2L609.1 229.3L609.9 229.4L610.6 229.5L611.4 229.6L612.2 229.8L613.0 229.9L613.8 230.1L614.6 230.2L615.3 230.4L616.1 230.6L616.9 230.8L617.7 231.1L618.5 231.3L619.3 231.6L620.0 231.9L620.8 232.3L621.6 232.7L622.4 233.1L623.2 233.6L624.0 234.2L624.7 234.9L625.5 235.6L626.3 236.5L627.1 237.4L627.9 238.6L628.7 239.9L629.4 241.5L630.2 243.3L631.0 245.6L631.8 248.2L632.6 251.5L633.4 255.4L634.1 260.3L634.9 266.5L635.7 274.4L636.5 284.8L637.3 299.0L638.1 319.9L638.8 351.6L639.6 351.6L640.4 340.1L641.2 311.5L642.0 293.5L642.8 280.8L643.5 271.4L644.3 264.2L645.1 258.5L645.9 253.9L646.7 250.2L647.5 247.2L648.2 244.7L649.0 242.7L649.8 240.9L650.6 239.4L651.4 238.2L652.2 237.1L652.9 236.1L653.7 235.3L654.5 234.6L655.3 234.0L656.1 233.5L656.9 233.0L657.6 232.5L658.4 232.2L659.2 231.8L660.0 231.5L660.8 231.2L661.6 231.0L662.3 230.7L663.1 230.5L663.9 230.3L664.7 230.2L665.5 230.0L666.3 229.9L667.0 229.7L667.8 229.6L668.6 229.5L669.4 229.4L670.2 229.3L671.0 229.2L671.7 229.1L672.5 229.0L673.3 229.0L674.1 228.9L674.9 228.8L675.7 228.8L676.4 228.7L677.2 228.6L678.0 228.6L678.8 228.5L679.6 228.5L680.4 228.5L681.1 228.4L681.9 228.4L682.7 228.3L683.5 228.3"/>
<path d="M389.7 226.2L390.5 226.2L391.3 226.2L392.1 226.2L392.8 226.2L393.6 226.2L394.4 226.2L395.2 226.2L396.0 226.2L396.8 226.2L397.5 226.2L398.3 226.2L399.1 226.2L399.9 226.2L400.7 226.2L401.5 226.2L402.2 226.2L403.0 226.2L403.8 226.2L404.6 226.2L405.4 226.2L406.2 226.2L406.9 226.2L407.7 226.2L408.5 226.2L409.3 226.2L410.1 226.2L410.9 226.2L411.7 226.2L412.4 226.2L413.2 228.5L414.0 228.5L414.8 228.5L415.6 228.5L416.4 228.6L417.1 228.6L417.9 228.6L418.7 228.7L419.5 228.8L420.3 228.9L421.1 229.0L421.8 229.2L422.6 229.5L423.4 229.8L424.2 230.2L425.0 230.7L425.8 231.3L426.5 232.1L427.3 232.9L428.1 233.9L428.9 235.0L429.7 236.3L430.5 237.6L431.2 239.0L432.0 240.4L432.8 241.8L433.6 243.1L434.4 244.4L435.2 245.5L435.9 246.4L436.7 247.0L437.5 247.4L438.3 247.6L439.1 247.5L439.9 247.4L440.6 247.1L441.4 246.8L442.2 246.4L443.0 245.9L443.8 245.4L444.6 244.7L445.3 244.1L446.1 243.4L446.9 242.7L447.7 242.0L448.5 241.3L449.3 240.6L450.0 240.0L450.8 239.4L451.6 238.9L452.4 238.4L453.2 238.1L454.0 237.8L454.7 237.6L455.5 237.6L456.3 237.6L457.1 237.8L457.9 238.1L458.7 238.4L459.4 238.9L460.2 239.4L461.0 240.1L461.8 240.7L462.6 241.4L463.4 242.2L464.1 242.9L464.9 243.5L465.7 244.2L466.5 244.7L467.3 245.2L468.1 245.5L468.8 245.7L469.6 245.8L470.4 245.8L471.2 245.7L472.0 245.5L472.8 245.2L473.5 244.8L474.3 244.4L475.1 243.9L475.9 243.4L476.7 242.8L477.5 242.2L478.2 241.5L479.0 240.8L479.8 240.1L480.6 239.4L481.4 238.7L482.2 237.9L482.9 237.2L483.7 236.5L484.5 235.8L485.3 235.2L486.1 234.5L486.9 233.9L487.6 233.4L488.4 232.9L489.2 232.4L490.0 231.9L490.8 231.5L491.6 231.2L492.3 230.8L493.1 230.5L493.9 230.3L494.7 230.0L495.5 229.8L496.3 229.6L497.0 229.5L497.8 229.3L498.6 229.2L499.4 229.1L500.2 229.0L501.0 228.9L501.7 228.9L502.5 228.8L503.3 228.8L504.1 228.8L504.9 228.7L505.7 228.7L506.4 228.7L507.2 228.7L508.0 228.7L508.8 228.7L509.6 228.7L510.4 228.7L511.1 228.8L511.9 228.8L512.7 228.9L513.5 228.9L514.3 229.1L515.1 229.2L515.8 229.4L516.6 229.6L517.4 229.9L518.2 230.3L519.0 230.8L519.8 231.4L520.5 232.1L521.3 232.9L522.1 233.9L522.9 235.0L523.7 236.3L524.5 237.8L525.2 239.4L526.0 241.3L526.8 243.2L527.6 245.4L528.4 247.6L529.2 250.0L529.9 252.4L530.7 254.8L531.5 257.1L532.3 259.3L533.1 261.4L533.9 263.3L534.6 265.0L535.4 266.3L536.2 267.3L537.0 267.9L537.8 268.1L538.6 267.9L539.3 267.4L540.1 266.5L540.9 265.3L541.7 263.7L542.5 261.9L543.3 259.9L544.0 257.8L544.8 255.5L545.6 253.2L546.4 250.8L547.2 248.5L548.0 246.3L548.7 244.2L549.5 242.2L550.3 240.3L551.1 238.6L551.9 237.1L552.7 235.8L553.4 234.6L554.2 233.6L555.0 232.7L555.8 232.0L556.6 231.3L557.4 230.8L558.1 230.4L558.9 230.1L559.7 229.8L560.5 229.6L561.3 229.5L562.1 229.3L562.8 229.2L563.6 229.2L564.4 229.1L565.2 229.1L566.0 229.1L566.8 229.1L567.5 229.1L568.3 229.1L569.1 229.1L569.9 229.1L570.7 229.1L571.5 229.1L572.2 229.1L573.0 229.1L573.8 229.2L574.6 229.2L575.4 229.2L576.2 229.2L576.9 229.2L577.7 229.3L578.5 229.3L579.3 229.3L580.1 229.3L580.9 229.4L581.6 229.4L582.4 229.4L583.2 229.4L584.0 229.5L584.8 229.5L585.6 229.5L586.3 229.6L587.1 229.6L587.9 229.6L588.7 229.7L589.5 229.7L590.3 229.8L591.0 229.8L591.8 229.9L592.6 229.9L593.4 230.0L594.2 230.0L595.0 230.1L595.7 230.1L596.5 230.2L597.3 230.3L598.1 230.4L598.9 230.4L599.7 230.5L600.4 230.6L601.2 230.7L602.0 230.8L602.8 230.9L603.6 231.1L604.4 231.2L605.2 231.3L605.9 231.5L606.7 231.6L607.5 231.8L608.3 232.0L609.1 232.2L609.9 232.4L610.6 232.7L611.4 232.9L612.2 233.2L613.0 233.5L613.8 233.9L614.6 234.3L615.3 234.7L616.1 235.2L616.9 235.7L617.7 236.3L618.5 236.9L619.3 237.7L620.0 238.5L620.8 239.4L621.6 240.5L622.4 241.7L623.2 243.1L624.0 244.7L624.7 246.6L625.5 248.8L626.3 251.3L627.1 254.3L627.9 257.9L628.7 262.1L629.4 267.2L630.2 273.3L631.0 280.7L631.8 289.8L632.6 300.8L633.4 313.4L634.1 325.0L634.9 328.0L635.7 319.5L636.5 306.7L637.3 294.8L638.1 284.9L638.8 276.7L639.6 270.0L640.4 264.4L641.2 259.8L642.0 256.0L642.8 252.7L643.5 250.0L644.3 247.6L645.1 245.6L645.9 243.9L646.7 242.4L647.5 241.1L648.2 239.9L649.0 238.9L649.8 238.1L650.6 237.3L651.4 236.6L652.2 236.0L652.9 235.4L653.7 234.9L654.5 234.5L655.3 234.1L656.1 233.7L656.9 233.4L657.6 233.1L658.4 232.8L659.2 232.5L660.0 232.3L660.8 232.1L661.6 231.9L662.3 231.7L663.1 231.6L663.9 231.4L664.7 231.3L665.5 231.1L666.3 231.0L667.0 230.9L667.8 230.8L668.6 230.7L669.4 230.6L670.2 230.5L671.0 230.4L671.7 230.3L672.5 230.3L673.3 230.2L674.1 230.1L674.9 230.1L675.7 230.0L676.4 229.9L677.2 229.9L678.0 229.8L678.8 229.8L679.6 229.7L680.4 229.7L681.1 229.7L681.9 229.6L682.7 229.6L683.5 229.5"/>
<path d="M389.7 226.4L390.5 226.4L391.3 226.4L392.1 226.4L392.8 226.4L393.6 226.4L394.4 226.4L395.2 226.4L396.0 226.4L396.8 226.4L397.5 226.4L398.3 226.4L399.1 226.4L399.9 226.4L400.7 226.4L401.5 226.4L402.2 226.4L403.0 226.4L403.8 226.4L404.6 226.4L405.4 226.4L406.2 226.4L406.9 226.4L407.7 226.4L408.5 226.4L409.3 226.4L410.1 226.4L410.9 226.4L411.7 226.4L412.4 226.4L413.2 229.4L414.0 229.4L414.8 229.4L415.6 229.5L416.4 229.5L417.1 229.6L417.9 229.7L418.7 229.8L419.5 230.0L420.3 230.2L421.1 230.5L421.8 230.8L422.6 231.2L423.4 231.8L424.2 232.4L425.0 233.1L425.8 234.0L426.5 234.9L427.3 236.0L428.1 237.3L428.9 238.6L429.7 240.0L430.5 241.5L431.2 243.0L432.0 244.6L432.8 246.1L433.6 247.5L434.4 248.9L435.2 250.0L435.9 251.0L436.7 251.8L437.5 252.3L438.3 252.5L439.1 252.5L439.9 252.3L440.6 252.0L441.4 251.6L442.2 251.1L443.0 250.5L443.8 249.8L444.6 249.0L445.3 248.1L446.1 247.2L446.9 246.3L447.7 245.3L448.5 244.4L449.3 243.4L450.0 242.5L450.8 241.6L451.6 240.8L452.4 240.1L453.2 239.4L454.0 238.9L454.7 238.4L455.5 238.0L456.3 237.8L457.1 237.6L457.9 237.6L458.7 237.6L459.4 237.8L460.2 238.0L461.0 238.3L461.8 238.7L462.6 239.1L463.4 239.5L464.1 240.0L464.9 240.4L465.7 240.8L466.5 241.2L467.3 241.5L468.1 241.7L468.8 241.9L469.6 241.9L470.4 241.9L471.2 241.8L472.0 241.6L472.8 241.4L473.5 241.2L474.3 240.9L475.1 240.5L475.9 240.2L476.7 239.7L477.5 239.3L478.2 238.8L479.0 238.3L479.8 237.8L480.6 237.2L481.4 236.7L482.2 236.2L482.9 235.7L483.7 235.2L484.5 234.7L485.3 234.2L486.1 233.7L486.9 233.3L487.6 232.9L488.4 232.5L489.2 232.2L490.0 231.8L490.8 231.5L491.6 231.3L492.3 231.0L493.1 230.8L493.9 230.6L494.7 230.4L495.5 230.3L496.3 230.1L497.0 230.0L497.8 229.9L498.6 229.8L499.4 229.8L500.2 229.7L501.0 229.6L501.7 229.6L502.5 229.6L503.3 229.5L504.1 229.5L504.9 229.5L505.7 229.5L506.4 229.4L507.2 229.4L508.0 229.4L508.8 229.4L509.6 229.4L510.4 229.4L511.1 229.4L511.9 229.4L512.7 229.5L513.5 229.5L514.3 229.5L515.1 229.6L515.8 229.7L516.6 229.7L517.4 229.9L518.2 230.1L519.0 230.3L519.8 230.6L520.5 231.0L521.3 231.4L522.1 232.0L522.9 232.8L523.7 233.6L524.5 234.7L525.2 235.9L526.0 237.3L526.8 239.0L527.6 240.8L528.4 242.9L529.2 245.1L529.9 247.5L530.7 250.1L531.5 252.7L532.3 255.4L533.1 258.1L533.9 260.7L534.6 263.1L535.4 265.4L536.2 267.4L537.0 269.0L537.8 270.3L538.6 271.1L539.3 271.5L540.1 271.4L540.9 271.0L541.7 270.3L542.5 269.2L543.3 267.9L544.0 266.3L544.8 264.6L545.6 262.6L546.4 260.5L547.2 258.3L548.0 256.0L548.7 253.7L549.5 251.5L550.3 249.3L551.1 247.1L551.9 245.1L552.7 243.2L553.4 241.4L554.2 239.8L555.0 238.3L555.8 237.0L556.6 235.8L557.4 234.8L558.1 233.9L558.9 233.1L559.7 232.5L560.5 231.9L561.3 231.4L562.1 231.1L562.8 230.7L563.6 230.5L564.4 230.3L565.2 230.1L566.0 230.0L566.8 229.9L567.5 229.8L568.3 229.7L569.1 229.7L569.9 229.7L570.7 229.6L571.5 229.6L572.2 229.6L573.0 229.6L573.8 229.6L574.6 229.6L575.4 229.6L576.2 229.6L576.9 229.6L577.7 229.6L578.5 229.6L579.3 229.6L580.1 229.6L580.9 229.7L581.6 229.7L582.4 229.7L583.2 229.7L584.0 229.7L584.8 229.7L585.6 229.7L586.3 229.7L587.1 229.7L587.9 229.7L588.7 229.8L589.5 229.8L590.3 229.8L591.0 229.8L591.8 229.8L592.6 229.8L593.4 229.8L594.2 229.9L595.0 229.9L595.7 229.9L596.5 229.9L597.3 229.9L598.1 230.0L598.9 230.0L599.7 230.0L600.4 230.0L601.2 230.1L602.0 230.1L602.8 230.1L603.6 230.2L604.4 230.2L605.2 230.2L605.9 230.3L606.7 230.3L607.5 230.3L608.3 230.4L609.1 230.4L609.9 230.5L610.6 230.6L611.4 230.6L612.2 230.7L613.0 230.8L613.8 230.8L614.6 230.9L615.3 231.0L616.1 231.1L616.9 231.2L617.7 231.3L618.5 231.5L619.3 231.6L620.0 231.7L620.8 231.9L621.6 232.1L622.4 232.3L623.2 232.5L624.0 232.8L624.7 233.1L625.5 233.4L626.3 233.8L627.1 234.2L627.9 234.7L628.7 235.3L629.4 235.9L630.2 236.7L631.0 237.6L631.8 238.6L632.6 239.9L633.4 241.4L634.1 243.2L634.9 245.5L635.7 248.3L636.5 251.8L637.3 256.2L638.1 262.0L638.8 269.6L639.6 279.9L640.4 294.6L641.2 317.5L642.0 351.6L642.8 351.6L643.5 329.4L644.3 301.6L645.1 284.6L645.9 272.9L646.7 264.5L647.5 258.1L648.2 253.2L649.0 249.4L649.8 246.4L650.6 244.0L651.4 242.0L652.2 240.4L652.9 239.1L653.7 237.9L654.5 237.0L655.3 236.2L656.1 235.5L656.9 234.9L657.6 234.4L658.4 233.9L659.2 233.6L660.0 233.2L660.8 232.9L661.6 232.6L662.3 232.4L663.1 232.2L663.9 232.0L664.7 231.8L665.5 231.6L666.3 231.5L667.0 231.4L667.8 231.2L668.6 231.1L669.4 231.0L670.2 230.9L671.0 230.9L671.7 230.8L672.5 230.7L673.3 230.6L674.1 230.6L674.9 230.5L675.7 230.5L676.4 230.4L677.2 230.4L678.0 230.3L678.8 230.3L679.6 230.2L680.4 230.2L681.1 230.2L681.9 230.1L682.7 230.1L683.5 230.1"/>
<path d="M389.7 226.4L390.5 226.4L391.3 226.4L392.1 226.4L392.8 226.4L393.6 226.4L394.4 226.4L395.2 226.4L396.0 226.4L396.8 226.4L397.5 226.4L398.3 226.4L399.1 226.4L399.9 226.4L400.7 226.4L401.5 226.4L402.2 226.4L403.0 226.4L403.8 226.4L404.6 226.4L405.4 226.4L406.2 226.4L406.9 226.4L407.7 226.4L408.5 226.4L409.3 226.4L410.1 226.4L410.9 226.4L411.7 226.4L412.4 226.4L413.2 229.4L414.0 229.5L414.8 229.5L415.6 229.5L416.4 229.6L417.1 229.7L417.9 229.8L418.7 230.0L419.5 230.2L420.3 230.5L421.1 230.8L421.8 231.2L422.6 231.8L423.4 232.4L424.2 233.2L425.0 234.2L425.8 235.3L426.5 236.5L427.3 237.9L428.1 239.4L428.9 241.1L429.7 242.9L430.5 244.7L431.2 246.6L432.0 248.4L432.8 250.2L433.6 251.8L434.4 253.3L435.2 254.5L435.9 255.5L436.7 256.1L437.5 256.4L438.3 256.4L439.1 256.2L439.9 255.8L440.6 255.3L441.4 254.6L442.2 253.7L443.0 252.7L443.8 251.6L444.6 250.4L445.3 249.2L446.1 247.9L446.9 246.6L447.7 245.4L448.5 244.1L449.3 242.9L450.0 241.8L450.8 240.8L451.6 239.8L452.4 239.0L453.2 238.2L454.0 237.6L454.7 237.1L455.5 236.8L456.3 236.5L457.1 236.3L457.9 236.2L458.7 236.3L459.4 236.3L460.2 236.5L461.0 236.6L461.8 236.8L462.6 237.1L463.4 237.3L464.1 237.5L464.9 237.6L465.7 237.8L466.5 237.8L467.3 237.9L468.1 237.8L468.8 237.8L469.6 237.7L470.4 237.5L471.2 237.3L472.0 237.1L472.8 236.9L473.5 236.6L474.3 236.4L475.1 236.1L475.9 235.7L476.7 235.4L477.5 235.1L478.2 234.7L479.0 234.3L479.8 234.0L480.6 233.6L481.4 233.3L482.2 233.0L482.9 232.7L483.7 232.4L484.5 232.1L485.3 231.8L486.1 231.5L486.9 231.3L487.6 231.1L488.4 230.9L489.2 230.7L490.0 230.5L490.8 230.4L491.6 230.3L492.3 230.2L493.1 230.1L493.9 230.0L494.7 229.9L495.5 229.8L496.3 229.8L497.0 229.7L497.8 229.7L498.6 229.6L499.4 229.6L500.2 229.6L501.0 229.6L501.7 229.5L502.5 229.5L503.3 229.5L504.1 229.5L504.9 229.5L505.7 229.5L506.4 229.5L507.2 229.5L508.0 229.5L508.8 229.5L509.6 229.5L510.4 229.5L511.1 229.5L511.9 229.5L512.7 229.5L513.5 229.5L514.3 229.5L515.1 229.6L515.8 229.6L516.6 229.7L517.4 229.8L518.2 230.0L519.0 230.2L519.8 230.5L520.5 230.9L521.3 231.4L522.1 232.2L522.9 233.1L523.7 234.2L524.5 235.7L525.2 237.4L526.0 239.5L526.8 241.8L527.6 244.6L528.4 247.6L529.2 250.8L529.9 254.2L530.7 257.7L531.5 261.2L532.3 264.5L533.1 267.5L533.9 270.1L534.6 272.1L535.4 273.6L536.2 274.3L537.0 274.3L537.8 273.4L538.6 271.7L539.3 269.2L540.1 266.2L540.9 262.7L541.7 259.0L542.5 255.1L543.3 251.4L544.0 247.8L544.8 244.5L545.6 241.5L546.4 239.0L547.2 236.9L548.0 235.1L548.7 233.7L549.5 232.6L550.3 231.7L551.1 231.1L551.9 230.6L552.7 230.3L553.4 230.1L554.2 229.9L555.0 229.8L555.8 229.8L556.6 229.7L557.4 229.7L558.1 229.7L558.9 229.7L559.7 229.7L560.5 229.7L561.3 229.7L562.1 229.7L562.8 229.7L563.6 229.7L564.4 229.8L565.2 229.8L566.0 229.8L566.8 229.8L567.5 229.8L568.3 229.8L569.1 229.8L569.9 229.8L570.7 229.8L571.5 229.9L572.2 229.9L573.0 229.9L573.8 229.9L574.6 229.9L575.4 229.9L576.2 229.9L576.9 230.0L577.7 230.0L578.5 230.0L579.3 230.0L580.1 230.0L580.9 230.0L581.6 230.1L582.4 230.1L583.2 230.1L584.0 230.1L584.8 230.2L585.6 230.2L586.3 230.2L587.1 230.3L587.9 230.3L588.7 230.3L589.5 230.4L590.3 230.4L591.0 230.4L591.8 230.5L592.6 230.5L593.4 230.6L594.2 230.6L595.0 230.7L595.7 230.7L596.5 230.8L597.3 230.8L598.1 230.9L598.9 231.0L599.7 231.1L600.4 231.2L601.2 231.2L602.0 231.3L602.8 231.5L603.6 231.6L604.4 231.7L605.2 231.8L605.9 232.0L606.7 232.1L607.5 232.3L608.3 232.5L609.1 232.7L609.9 232.9L610.6 233.2L611.4 233.5L612.2 233.8L613.0 234.2L613.8 234.5L614.6 235.0L615.3 235.5L616.1 236.1L616.9 236.7L617.7 237.5L618.5 238.3L619.3 239.3L620.0 240.5L620.8 241.8L621.6 243.5L622.4 245.4L623.2 247.7L624.0 250.5L624.7 253.9L625.5 258.1L626.3 263.4L627.1 270.1L627.9 278.8L628.7 290.5L629.4 307.2L630.2 333.7L631.0 351.6L631.8 351.6L632.6 329.9L633.4 305.0L634.1 289.0L634.9 277.7L635.7 269.2L636.5 262.7L637.3 257.6L638.1 253.4L638.8 250.1L639.6 247.4L640.4 245.1L641.2 243.3L642.0 241.7L642.8 240.3L643.5 239.2L644.3 238.2L645.1 237.4L645.9 236.6L646.7 236.0L647.5 235.4L648.2 234.9L649.0 234.5L649.8 234.1L650.6 233.8L651.4 233.4L652.2 233.2L652.9 232.9L653.7 232.7L654.5 232.5L655.3 232.3L656.1 232.1L656.9 232.0L657.6 231.8L658.4 231.7L659.2 231.6L660.0 231.4L660.8 231.3L661.6 231.2L662.3 231.1L663.1 231.1L663.9 231.0L664.7 230.9L665.5 230.8L666.3 230.8L667.0 230.7L667.8 230.7L668.6 230.6L669.4 230.6L670.2 230.5L671.0 230.5L671.7 230.4L672.5 230.4L673.3 230.4L674.1 230.3L674.9 230.3L675.7 230.2L676.4 230.2L677.2 230.2L678.0 230.2L678.8 230.1L679.6 230.1L680.4 230.1L681.1 230.1L681.9 230.0L682.7 230.0L683.5 230.0"/>
<path d="M389.7 226.3L390.5 226.3L391.3 226.3L392.1 226.3L392.8 226.3L393.6 226.3L394.4 226.3L395.2 226.3L396.0 226.3L396.8 226.3L397.5 226.3L398.3 226.3L399.1 226.3L399.9 226.3L400.7 226.3L401.5 226.3L402.2 226.3L403.0 226.3L403.8 226.3L404.6 226.3L405.4 226.3L406.2 226.3L406.9 226.3L407.7 226.3L408.5 226.3L409.3 226.3L410.1 226.3L410.9 226.3L411.7 226.3L412.4 226.3L413.2 228.9L414.0 229.0L414.8 229.0L415.6 229.0L416.4 229.1L417.1 229.2L417.9 229.3L418.7 229.5L419.5 229.7L420.3 230.0L421.1 230.4L421.8 230.9L422.6 231.5L423.4 232.3L424.2 233.2L425.0 234.3L425.8 235.6L426.5 237.0L427.3 238.7L428.1 240.5L428.9 242.5L429.7 244.6L430.5 246.7L431.2 248.9L432.0 251.0L432.8 253.1L433.6 255.0L434.4 256.6L435.2 257.9L435.9 258.9L436.7 259.5L437.5 259.7L438.3 259.6L439.1 259.3L439.9 258.9L440.6 258.3L441.4 257.5L442.2 256.7L443.0 255.6L443.8 254.5L444.6 253.3L445.3 252.1L446.1 250.8L446.9 249.4L447.7 248.1L448.5 246.7L449.3 245.4L450.0 244.2L450.8 243.0L451.6 241.8L452.4 240.8L453.2 239.8L454.0 238.9L454.7 238.2L455.5 237.5L456.3 236.9L457.1 236.4L457.9 236.0L458.7 235.7L459.4 235.5L460.2 235.3L461.0 235.2L461.8 235.1L462.6 235.1L463.4 235.0L464.1 235.0L464.9 235.0L465.7 235.0L466.5 234.9L467.3 234.9L468.1 234.8L468.8 234.7L469.6 234.6L470.4 234.4L471.2 234.3L472.0 234.1L472.8 233.9L473.5 233.8L474.3 233.6L475.1 233.3L475.9 233.1L476.7 232.9L477.5 232.7L478.2 232.4L479.0 232.2L479.8 231.9L480.6 231.7L481.4 231.5L482.2 231.3L482.9 231.1L483.7 230.8L484.5 230.7L485.3 230.5L486.1 230.3L486.9 230.2L487.6 230.0L488.4 229.9L489.2 229.8L490.0 229.7L490.8 229.6L491.6 229.5L492.3 229.4L493.1 229.3L493.9 229.3L494.7 229.2L495.5 229.2L496.3 229.1L497.0 229.1L497.8 229.1L498.6 229.1L499.4 229.0L500.2 229.0L501.0 229.0L501.7 229.0L502.5 229.0L503.3 229.0L504.1 229.0L504.9 229.0L505.7 229.0L506.4 229.0L507.2 229.0L508.0 229.0L508.8 229.0L509.6 229.0L510.4 229.0L511.1 229.0L511.9 229.0L512.7 229.0L513.5 229.0L514.3 229.0L515.1 229.0L515.8 229.1L516.6 229.1L517.4 229.2L518.2 229.3L519.0 229.4L519.8 229.5L520.5 229.7L521.3 230.0L522.1 230.4L522.9 230.8L523.7 231.3L524.5 231.9L525.2 232.7L526.0 233.6L526.8 234.7L527.6 235.9L528.4 237.3L529.2 238.8L529.9 240.4L530.7 242.2L531.5 244.1L532.3 246.0L533.1 247.9L533.9 249.7L534.6 251.5L535.4 253.1L536.2 254.5L537.0 255.7L537.8 256.6L538.6 257.1L539.3 257.3L540.1 257.3L540.9 257.0L541.7 256.5L542.5 255.8L543.3 254.9L544.0 253.9L544.8 252.7L545.6 251.4L546.4 250.0L547.2 248.6L548.0 247.1L548.7 245.6L549.5 244.1L550.3 242.7L551.1 241.3L551.9 239.9L552.7 238.7L553.4 237.5L554.2 236.4L555.0 235.4L555.8 234.5L556.6 233.7L557.4 233.0L558.1 232.3L558.9 231.8L559.7 231.3L560.5 230.9L561.3 230.6L562.1 230.3L562.8 230.1L563.6 229.9L564.4 229.7L565.2 229.6L566.0 229.5L566.8 229.4L567.5 229.4L568.3 229.3L569.1 229.3L569.9 229.3L570.7 229.2L571.5 229.2L572.2 229.2L573.0 229.2L573.8 229.2L574.6 229.2L575.4 229.2L576.2 229.2L576.9 229.2L577.7 229.2L578.5 229.3L579.3 229.3L580.1 229.3L580.9 229.3L581.6 229.3L582.4 229.3L583.2 229.3L584.0 229.3L584.8 229.3L585.6 229.4L586.3 229.4L587.1 229.4L587.9 229.4L588.7 229.4L589.5 229.4L590.3 229.5L591.0 229.5L591.8 229.5L592.6 229.5L593.4 229.5L594.2 229.6L595.0 229.6L595.7 229.6L596.5 229.6L597.3 229.7L598.1 229.7L598.9 229.7L599.7 229.8L600.4 229.8L601.2 229.8L602.0 229.9L602.8 229.9L603.6 230.0L604.4 230.0L605.2 230.1L605.9 230.1L606.7 230.2L607.5 230.3L608.3 230.3L609.1 230.4L609.9 230.5L610.6 230.6L611.4 230.7L612.2 230.8L613.0 230.9L613.8 231.0L614.6 231.2L615.3 231.3L616.1 231.5L616.9 231.7L617.7 231.9L618.5 232.1L619.3 232.3L620.0 232.6L620.8 232.9L621.6 233.3L622.4 233.7L623.2 234.1L624.0 234.6L624.7 235.2L625.5 235.9L626.3 236.7L627.1 237.6L627.9 238.7L628.7 240.0L629.4 241.5L630.2 243.4L631.0 245.6L631.8 248.4L632.6 251.9L633.4 256.2L634.1 261.7L634.9 268.9L635.7 278.4L636.5 291.3L637.3 309.3L638.1 333.8L638.8 346.8L639.6 324.6L640.4 302.2L641.2 286.2L642.0 274.7L642.8 266.2L643.5 259.6L644.3 254.5L645.1 250.5L645.9 247.3L646.7 244.8L647.5 242.7L648.2 240.9L649.0 239.5L649.8 238.3L650.6 237.2L651.4 236.4L652.2 235.6L652.9 235.0L653.7 234.4L654.5 233.9L655.3 233.5L656.1 233.1L656.9 232.8L657.6 232.5L658.4 232.2L659.2 232.0L660.0 231.8L660.8 231.6L661.6 231.4L662.3 231.3L663.1 231.1L663.9 231.0L664.7 230.9L665.5 230.8L666.3 230.6L667.0 230.6L667.8 230.5L668.6 230.4L669.4 230.3L670.2 230.2L671.0 230.2L671.7 230.1L672.5 230.1L673.3 230.0L674.1 230.0L674.9 229.9L675.7 229.9L676.4 229.8L677.2 229.8L678.0 229.8L678.8 229.7L679.6 229.7L680.4 229.7L681.1 229.6L681.9 229.6L682.7 229.6L683.5 229.6"/>
<path d="M389.7 226.4L390.5 226.4L391.3 226.4L392.1 226.4L392.8 226.4L393.6 226.4L394.4 226.4L395.2 226.4L396.0 226.4L396.8 226.4L397.5 226.4L398.3 226.4L399.1 226.4L399.9 226.4L400.7 226.4L401.5 226.4L402.2 226.4L403.0 226.4L403.8 226.4L404.6 226.4L405.4 226.4L406.2 226.4L406.9 226.4L407.7 226.4L408.5 226.4L409.3 226.4L410.1 226.4L410.9 226.5L411.7 226.5L412.4 226.5L413.2 229.5L414.0 229.6L414.8 229.7L415.6 229.7L416.4 229.9L417.1 230.0L417.9 230.3L418.7 230.6L419.5 231.0L420.3 231.5L421.1 232.1L421.8 232.8L422.6 233.7L423.4 234.8L424.2 236.1L425.0 237.6L425.8 239.3L426.5 241.1L427.3 243.2L428.1 245.4L428.9 247.7L429.7 250.0L430.5 252.4L431.2 254.7L432.0 256.9L432.8 258.9L433.6 260.6L434.4 262.0L435.2 263.1L435.9 263.7L436.7 263.9L437.5 263.8L438.3 263.5L439.1 263.1L439.9 262.5L440.6 261.7L441.4 260.8L442.2 259.8L443.0 258.7L443.8 257.5L444.6 256.2L445.3 254.8L446.1 253.4L446.9 252.0L447.7 250.6L448.5 249.2L449.3 247.8L450.0 246.5L450.8 245.2L451.6 244.0L452.4 242.8L453.2 241.8L454.0 240.7L454.7 239.8L455.5 238.9L456.3 238.2L457.1 237.4L457.9 236.8L458.7 236.2L459.4 235.6L460.2 235.1L461.0 234.7L461.8 234.2L462.6 233.9L463.4 233.5L464.1 233.2L464.9 232.9L465.7 232.7L466.5 232.4L467.3 232.2L468.1 232.0L468.8 231.8L469.6 231.6L470.4 231.5L471.2 231.3L472.0 231.2L472.8 231.0L473.5 230.9L474.3 230.8L475.1 230.6L475.9 230.5L476.7 230.4L477.5 230.3L478.2 230.2L479.0 230.2L479.8 230.1L480.6 230.0L481.4 229.9L482.2 229.9L482.9 229.8L483.7 229.8L484.5 229.7L485.3 229.7L486.1 229.7L486.9 229.6L487.6 229.6L488.4 229.6L489.2 229.6L490.0 229.6L490.8 229.5L491.6 229.5L492.3 229.5L493.1 229.5L493.9 229.5L494.7 229.5L495.5 229.5L496.3 229.5L497.0 229.5L497.8 229.5L498.6 229.5L499.4 229.5L500.2 229.5L501.0 229.5L501.7 229.5L502.5 229.5L503.3 229.5L504.1 229.5L504.9 229.5L505.7 229.5L506.4 229.5L507.2 229.5L508.0 229.5L508.8 229.5L509.6 229.5L510.4 229.6L511.1 229.6L511.9 229.6L512.7 229.7L513.5 229.7L514.3 229.8L515.1 229.9L515.8 230.0L516.6 230.2L517.4 230.4L518.2 230.6L519.0 231.0L519.8 231.4L520.5 231.9L521.3 232.4L522.1 233.1L522.9 233.9L523.7 234.9L524.5 235.9L525.2 237.1L526.0 238.4L526.8 239.9L527.6 241.5L528.4 243.2L529.2 244.9L529.9 246.7L530.7 248.6L531.5 250.4L532.3 252.2L533.1 253.9L533.9 255.5L534.6 256.8L535.4 258.0L536.2 259.0L537.0 259.6L537.8 260.0L538.6 260.1L539.3 259.8L540.1 259.1L540.9 258.1L541.7 256.7L542.5 255.1L543.3 253.3L544.0 251.3L544.8 249.2L545.6 247.1L546.4 245.0L547.2 243.0L548.0 241.1L548.7 239.4L549.5 237.8L550.3 236.4L551.1 235.1L551.9 234.0L552.7 233.1L553.4 232.4L554.2 231.8L555.0 231.3L555.8 230.9L556.6 230.6L557.4 230.3L558.1 230.1L558.9 230.0L559.7 229.9L560.5 229.8L561.3 229.8L562.1 229.8L562.8 229.7L563.6 229.7L564.4 229.7L565.2 229.7L566.0 229.7L566.8 229.7L567.5 229.7L568.3 229.7L569.1 229.7L569.9 229.7L570.7 229.7L571.5 229.7L572.2 229.8L573.0 229.8L573.8 229.8L574.6 229.8L575.4 229.8L576.2 229.8L576.9 229.8L577.7 229.8L578.5 229.8L579.3 229.8L580.1 229.8L580.9 229.9L581.6 229.9L582.4 229.9L583.2 229.9L584.0 229.9L584.8 229.9L585.6 229.9L586.3 230.0L587.1 230.0L587.9 230.0L588.7 230.0L589.5 230.0L590.3 230.0L591.0 230.1L591.8 230.1L592.6 230.1L593.4 230.1L594.2 230.1L595.0 230.2L595.7 230.2L596.5 230.2L597.3 230.3L598.1 230.3L598.9 230.3L599.7 230.3L600.4 230.4L601.2 230.4L602.0 230.5L602.8 230.5L603.6 230.5L604.4 230.6L605.2 230.6L605.9 230.7L606.7 230.7L607.5 230.8L608.3 230.9L609.1 230.9L609.9 231.0L610.6 231.1L611.4 231.2L612.2 231.2L613.0 231.3L613.8 231.4L614.6 231.5L615.3 231.7L616.1 231.8L616.9 231.9L617.7 232.1L618.5 232.2L619.3 232.4L620.0 232.6L620.8 232.8L621.6 233.1L622.4 233.4L623.2 233.6L624.0 234.0L624.7 234.3L625.5 234.7L626.3 235.2L627.1 235.7L627.9 236.3L628.7 237.0L629.4 237.8L630.2 238.7L631.0 239.7L631.8 240.9L632.6 242.3L633.4 244.0L634.1 245.9L634.9 248.3L635.7 251.2L636.5 254.7L637.3 259.1L638.1 264.5L638.8 271.4L639.6 280.3L640.4 292.2L641.2 308.8L642.0 333.8L642.8 351.6L643.5 351.6L644.3 322.6L645.1 301.5L645.9 287.0L646.7 276.5L647.5 268.4L648.2 262.2L649.0 257.2L649.8 253.2L650.6 250.0L651.4 247.3L652.2 245.1L652.9 243.3L653.7 241.7L654.5 240.4L655.3 239.3L656.1 238.3L656.9 237.4L657.6 236.7L658.4 236.1L659.2 235.5L660.0 235.0L660.8 234.6L661.6 234.2L662.3 233.8L663.1 233.5L663.9 233.2L664.7 233.0L665.5 232.8L666.3 232.5L667.0 232.4L667.8 232.2L668.6 232.0L669.4 231.9L670.2 231.7L671.0 231.6L671.7 231.5L672.5 231.4L673.3 231.3L674.1 231.2L674.9 231.1L675.7 231.0L676.4 231.0L677.2 230.9L678.0 230.8L678.8 230.8L679.6 230.7L680.4 230.7L681.1 230.6L681.9 230.6L682.7 230.5L683.5 230.5"/>
<path d="M389.7 226.4L390.5 226.4L391.3 226.4L392.1 226.4L392.8 226.4L393.6 226.4L394.4 226.4L395.2 226.4L396.0 226.4L396.8 226.4L397.5 226.4L398.3 226.4L399.1 226.4L399.9 226.4L400.7 226.4L401.5 226.4L402.2 226.4L403.0 226.4L403.8 226.4L404.6 226.4L405.4 226.4L406.2 226.4L406.9 226.4L407.7 226.4L408.5 226.4L409.3 226.4L410.1 226.4L410.9 226.4L411.7 226.4L412.4 226.4L413.2 229.4L414.0 229.5L414.8 229.6L415.6 229.8L416.4 230.0L417.1 230.2L417.9 230.6L418.7 231.0L419.5 231.5L420.3 232.2L421.1 233.1L421.8 234.1L422.6 235.3L423.4 236.7L424.2 238.3L425.0 240.2L425.8 242.2L426.5 244.4L427.3 246.8L428.1 249.4L428.9 252.0L429.7 254.6L430.5 257.1L431.2 259.5L432.0 261.7L432.8 263.6L433.6 265.2L434.4 266.3L435.2 267.0L435.9 267.3L436.7 267.1L437.5 266.7L438.3 266.0L439.1 265.0L439.9 263.8L440.6 262.4L441.4 260.8L442.2 259.1L443.0 257.3L443.8 255.4L444.6 253.5L445.3 251.6L446.1 249.8L446.9 248.1L447.7 246.5L448.5 245.0L449.3 243.7L450.0 242.6L450.8 241.6L451.6 240.8L452.4 240.2L453.2 239.8L454.0 239.5L454.7 239.4L455.5 239.4L456.3 239.5L457.1 239.7L457.9 240.0L458.7 240.4L459.4 240.7L460.2 241.1L461.0 241.4L461.8 241.7L462.6 241.9L463.4 242.1L464.1 242.1L464.9 242.1L465.7 242.0L466.5 241.9L467.3 241.7L468.1 241.4L468.8 241.1L469.6 240.8L470.4 240.4L471.2 240.0L472.0 239.5L472.8 239.0L473.5 238.5L474.3 238.0L475.1 237.4L475.9 236.9L476.7 236.4L477.5 235.8L478.2 235.3L479.0 234.8L479.8 234.3L480.6 233.8L481.4 233.4L482.2 233.0L482.9 232.6L483.7 232.2L484.5 231.9L485.3 231.5L486.1 231.3L486.9 231.0L487.6 230.8L488.4 230.6L489.2 230.4L490.0 230.2L490.8 230.1L491.6 230.0L492.3 229.9L493.1 229.8L493.9 229.7L494.7 229.6L495.5 229.6L496.3 229.5L497.0 229.5L497.8 229.4L498.6 229.4L499.4 229.4L500.2 229.4L501.0 229.4L501.7 229.3L502.5 229.3L503.3 229.3L504.1 229.3L504.9 229.3L505.7 229.3L506.4 229.3L507.2 229.3L508.0 229.3L508.8 229.3L509.6 229.3L510.4 229.4L511.1 229.4L511.9 229.4L512.7 229.5L513.5 229.5L514.3 229.6L515.1 229.7L515.8 229.8L516.6 230.0L517.4 230.2L518.2 230.5L519.0 230.8L519.8 231.2L520.5 231.7L521.3 232.3L522.1 233.0L522.9 233.9L523.7 234.8L524.5 235.9L525.2 237.2L526.0 238.6L526.8 240.2L527.6 241.9L528.4 243.7L529.2 245.7L529.9 247.7L530.7 249.9L531.5 252.0L532.3 254.2L533.1 256.3L533.9 258.3L534.6 260.2L535.4 261.9L536.2 263.4L537.0 264.6L537.8 265.5L538.6 266.1L539.3 266.4L540.1 266.3L540.9 265.8L541.7 265.0L542.5 263.8L543.3 262.2L544.0 260.5L544.8 258.5L545.6 256.3L546.4 254.1L547.2 251.7L548.0 249.4L548.7 247.2L549.5 245.0L550.3 242.9L551.1 241.0L551.9 239.3L552.7 237.7L553.4 236.3L554.2 235.1L555.0 234.0L555.8 233.1L556.6 232.4L557.4 231.7L558.1 231.2L558.9 230.8L559.7 230.5L560.5 230.2L561.3 230.0L562.1 229.8L562.8 229.7L563.6 229.6L564.4 229.6L565.2 229.5L566.0 229.5L566.8 229.5L567.5 229.5L568.3 229.5L569.1 229.4L569.9 229.4L570.7 229.4L571.5 229.4L572.2 229.4L573.0 229.5L573.8 229.5L574.6 229.5L575.4 229.5L576.2 229.5L576.9 229.5L577.7 229.5L578.5 229.5L579.3 229.5L580.1 229.5L580.9 229.5L581.6 229.5L582.4 229.5L583.2 229.5L584.0 229.5L584.8 229.6L585.6 229.6L586.3 229.6L587.1 229.6L587.9 229.6L588.7 229.6L589.5 229.6L590.3 229.6L591.0 229.7L591.8 229.7L592.6 229.7L593.4 229.7L594.2 229.7L595.0 229.7L595.7 229.8L596.5 229.8L597.3 229.8L598.1 229.8L598.9 229.8L599.7 229.9L600.4 229.9L601.2 229.9L602.0 230.0L602.8 230.0L603.6 230.0L604.4 230.1L605.2 230.1L605.9 230.2L606.7 230.2L607.5 230.3L608.3 230.3L609.1 230.4L609.9 230.5L610.6 230.6L611.4 230.6L612.2 230.7L613.0 230.8L613.8 231.0L614.6 231.1L615.3 231.2L616.1 231.4L616.9 231.6L617.7 231.8L618.5 232.0L619.3 232.3L620.0 232.6L620.8 233.0L621.6 233.4L622.4 233.9L623.2 234.5L624.0 235.3L624.7 236.1L625.5 237.2L626.3 238.5L627.1 240.1L627.9 242.2L628.7 244.9L629.4 248.4L630.2 253.1L631.0 259.6L631.8 268.7L632.6 282.2L633.4 303.6L634.1 343.2L634.9 351.6L635.7 315.9L636.5 289.4L637.3 273.4L638.1 262.8L638.8 255.4L639.6 250.1L640.4 246.1L641.2 243.2L642.0 240.9L642.8 239.1L643.5 237.7L644.3 236.5L645.1 235.6L645.9 234.8L646.7 234.2L647.5 233.6L648.2 233.2L649.0 232.8L649.8 232.4L650.6 232.2L651.4 231.9L652.2 231.7L652.9 231.5L653.7 231.3L654.5 231.2L655.3 231.0L656.1 230.9L656.9 230.8L657.6 230.7L658.4 230.6L659.2 230.5L660.0 230.4L660.8 230.4L661.6 230.3L662.3 230.2L663.1 230.2L663.9 230.1L664.7 230.1L665.5 230.1L666.3 230.0L667.0 230.0L667.8 229.9L668.6 229.9L669.4 229.9L670.2 229.9L671.0 229.8L671.7 229.8L672.5 229.8L673.3 229.8L674.1 229.7L674.9 229.7L675.7 229.7L676.4 229.7L677.2 229.7L678.0 229.7L678.8 229.6L679.6 229.6L680.4 229.6L681.1 229.6L681.9 229.6L682.7 229.6L683.5 229.6"/>
<path d="M389.7 226.4L390.5 226.4L391.3 226.4L392.1 226.4L392.8 226.4L393.6 226.4L394.4 226.4L395.2 226.4L396.0 226.4L396.8 226.4L397.5 226.4L398.3 226.4L399.1 226.4L399.9 226.4L400.7 226.4L401.5 226.4L402.2 226.4L403.0 226.4L403.8 226.4L404.6 226.4L405.4 226.4L406.2 226.4L406.9 226.4L407.7 226.4L408.5 226.4L409.3 226.4L410.1 226.4L410.9 226.4L411.7 226.4L412.4 226.4L413.2 229.5L414.0 229.6L414.8 229.7L415.6 229.8L416.4 230.1L417.1 230.3L417.9 230.7L418.7 231.2L419.5 231.8L420.3 232.5L421.1 233.4L421.8 234.5L422.6 235.8L423.4 237.4L424.2 239.1L425.0 241.1L425.8 243.3L426.5 245.8L427.3 248.4L428.1 251.1L428.9 253.9L429.7 256.7L430.5 259.5L431.2 262.1L432.0 264.5L432.8 266.6L433.6 268.3L434.4 269.6L435.2 270.4L435.9 270.7L436.7 270.7L437.5 270.4L438.3 269.9L439.1 269.2L439.9 268.3L440.6 267.3L441.4 266.1L442.2 264.7L443.0 263.3L443.8 261.7L444.6 260.1L445.3 258.5L446.1 256.8L446.9 255.1L447.7 253.4L448.5 251.7L449.3 250.1L450.0 248.5L450.8 247.0L451.6 245.6L452.4 244.3L453.2 243.1L454.0 241.9L454.7 240.9L455.5 239.9L456.3 239.0L457.1 238.2L457.9 237.5L458.7 236.8L459.4 236.2L460.2 235.7L461.0 235.2L461.8 234.7L462.6 234.3L463.4 234.0L464.1 233.6L464.9 233.3L465.7 233.0L466.5 232.8L467.3 232.5L468.1 232.3L468.8 232.1L469.6 231.9L470.4 231.7L471.2 231.5L472.0 231.4L472.8 231.2L473.5 231.0L474.3 230.9L475.1 230.8L475.9 230.6L476.7 230.5L477.5 230.4L478.2 230.3L479.0 230.2L479.8 230.1L480.6 230.0L481.4 229.9L482.2 229.8L482.9 229.8L483.7 229.7L484.5 229.7L485.3 229.6L486.1 229.6L486.9 229.5L487.6 229.5L488.4 229.5L489.2 229.4L490.0 229.4L490.8 229.4L491.6 229.4L492.3 229.4L493.1 229.4L493.9 229.4L494.7 229.4L495.5 229.3L496.3 229.3L497.0 229.3L497.8 229.3L498.6 229.3L499.4 229.3L500.2 229.3L501.0 229.3L501.7 229.3L502.5 229.3L503.3 229.3L504.1 229.3L504.9 229.3L505.7 229.3L506.4 229.3L507.2 229.3L508.0 229.3L508.8 229.3L509.6 229.3L510.4 229.4L511.1 229.4L511.9 229.4L512.7 229.4L513.5 229.4L514.3 229.5L515.1 229.5L515.8 229.6L516.6 229.7L517.4 229.8L518.2 230.0L519.0 230.3L519.8 230.6L520.5 230.9L521.3 231.4L522.1 232.0L522.9 232.7L523.7 233.6L524.5 234.6L525.2 235.7L526.0 237.1L526.8 238.6L527.6 240.3L528.4 242.1L529.2 244.1L529.9 246.2L530.7 248.4L531.5 250.7L532.3 252.9L533.1 255.1L533.9 257.1L534.6 258.9L535.4 260.6L536.2 261.9L537.0 262.9L537.8 263.5L538.6 263.8L539.3 263.6L540.1 263.0L540.9 262.0L541.7 260.6L542.5 258.9L543.3 257.0L544.0 254.8L544.8 252.5L545.6 250.2L546.4 247.8L547.2 245.6L548.0 243.4L548.7 241.3L549.5 239.5L550.3 237.8L551.1 236.3L551.9 235.0L552.7 233.9L553.4 233.0L554.2 232.2L555.0 231.6L555.8 231.1L556.6 230.7L557.4 230.4L558.1 230.1L558.9 229.9L559.7 229.8L560.5 229.7L561.3 229.7L562.1 229.6L562.8 229.6L563.6 229.6L564.4 229.5L565.2 229.5L566.0 229.5L566.8 229.5L567.5 229.5L568.3 229.5L569.1 229.5L569.9 229.6L570.7 229.6L571.5 229.6L572.2 229.6L573.0 229.6L573.8 229.6L574.6 229.6L575.4 229.6L576.2 229.6L576.9 229.6L577.7 229.6L578.5 229.6L579.3 229.7L580.1 229.7L580.9 229.7L581.6 229.7L582.4 229.7L583.2 229.7L584.0 229.7L584.8 229.7L585.6 229.7L586.3 229.8L587.1 229.8L587.9 229.8L588.7 229.8L589.5 229.8L590.3 229.8L591.0 229.9L591.8 229.9L592.6 229.9L593.4 229.9L594.2 230.0L595.0 230.0L595.7 230.0L596.5 230.0L597.3 230.1L598.1 230.1L598.9 230.1L599.7 230.2L600.4 230.2L601.2 230.2L602.0 230.3L602.8 230.3L603.6 230.4L604.4 230.4L605.2 230.5L605.9 230.5L606.7 230.6L607.5 230.7L608.3 230.7L609.1 230.8L609.9 230.9L610.6 231.0L611.4 231.1L612.2 231.2L613.0 231.3L613.8 231.4L614.6 231.5L615.3 231.7L616.1 231.8L616.9 232.0L617.7 232.2L618.5 232.4L619.3 232.7L620.0 232.9L620.8 233.2L621.6 233.6L622.4 234.0L623.2 234.4L624.0 234.9L624.7 235.4L625.5 236.1L626.3 236.8L627.1 237.7L627.9 238.8L628.7 240.0L629.4 241.4L630.2 243.2L631.0 245.3L631.8 247.8L632.6 251.0L633.4 255.0L634.1 260.1L634.9 266.6L635.7 275.1L636.5 286.6L637.3 302.8L638.1 326.5L638.8 351.6L639.6 342.7L640.4 314.1L641.2 294.4L642.0 280.7L642.8 270.8L643.5 263.3L644.3 257.5L645.1 253.0L645.9 249.4L646.7 246.5L647.5 244.2L648.2 242.3L649.0 240.7L649.8 239.4L650.6 238.2L651.4 237.3L652.2 236.5L652.9 235.8L653.7 235.2L654.5 234.6L655.3 234.2L656.1 233.8L656.9 233.4L657.6 233.1L658.4 232.8L659.2 232.6L660.0 232.3L660.8 232.1L661.6 231.9L662.3 231.8L663.1 231.6L663.9 231.5L664.7 231.3L665.5 231.2L666.3 231.1L667.0 231.0L667.8 230.9L668.6 230.8L669.4 230.8L670.2 230.7L671.0 230.6L671.7 230.6L672.5 230.5L673.3 230.4L674.1 230.4L674.9 230.3L675.7 230.3L676.4 230.3L677.2 230.2L678.0 230.2L678.8 230.1L679.6 230.1L680.4 230.1L681.1 230.0L681.9 230.0L682.7 230.0L683.5 230.0"/>
<path d="M389.7 226.0L390.5 226.0L391.3 226.0L392.1 226.0L392.8 226.0L393.6 226.0L394.4 226.0L395.2 226.0L396.0 226.0L396.8 226.0L397.5 226.0L398.3 226.0L399.1 226.0L399.9 226.0L400.7 226.0L401.5 226.0L402.2 226.0L403.0 226.0L403.8 226.0L404.6 226.0L405.4 226.0L406.2 226.0L406.9 226.1L407.7 226.1L408.5 226.1L409.3 226.1L410.1 226.1L410.9 226.1L411.7 226.1L412.4 226.1L413.2 228.0L414.0 228.1L414.8 228.2L415.6 228.4L416.4 228.6L417.1 228.9L417.9 229.3L418.7 229.8L419.5 230.4L420.3 231.2L421.1 232.2L421.8 233.4L422.6 234.9L423.4 236.6L424.2 238.5L425.0 240.8L425.8 243.3L426.5 246.0L427.3 248.9L428.1 252.0L428.9 255.2L429.7 258.3L430.5 261.4L431.2 264.3L432.0 266.9L432.8 269.2L433.6 271.0L434.4 272.3L435.2 273.1L435.9 273.3L436.7 273.1L437.5 272.5L438.3 271.7L439.1 270.6L439.9 269.2L440.6 267.7L441.4 265.9L442.2 264.1L443.0 262.2L443.8 260.3L444.6 258.5L445.3 256.7L446.1 255.0L446.9 253.5L447.7 252.1L448.5 250.8L449.3 249.7L450.0 248.8L450.8 248.0L451.6 247.3L452.4 246.7L453.2 246.2L454.0 245.8L454.7 245.4L455.5 245.0L456.3 244.6L457.1 244.2L457.9 243.7L458.7 243.3L459.4 242.8L460.2 242.4L461.0 241.9L461.8 241.4L462.6 240.8L463.4 240.3L464.1 239.7L464.9 239.1L465.7 238.5L466.5 237.9L467.3 237.2L468.1 236.6L468.8 236.0L469.6 235.4L470.4 234.8L471.2 234.2L472.0 233.6L472.8 233.1L473.5 232.6L474.3 232.1L475.1 231.6L475.9 231.2L476.7 230.8L477.5 230.5L478.2 230.2L479.0 229.9L479.8 229.6L480.6 229.4L481.4 229.2L482.2 229.0L482.9 228.8L483.7 228.7L484.5 228.5L485.3 228.4L486.1 228.4L486.9 228.3L487.6 228.2L488.4 228.2L489.2 228.1L490.0 228.1L490.8 228.0L491.6 228.0L492.3 228.0L493.1 228.0L493.9 228.0L494.7 228.0L495.5 227.9L496.3 227.9L497.0 227.9L497.8 227.9L498.6 227.9L499.4 227.9L500.2 227.9L501.0 227.9L501.7 227.9L502.5 227.9L503.3 227.9L504.1 227.9L504.9 227.9L505.7 227.9L506.4 227.9L507.2 227.9L508.0 227.9L508.8 227.9L509.6 227.9L510.4 227.9L511.1 227.9L511.9 228.0L512.7 228.0L513.5 228.0L514.3 228.0L515.1 228.0L515.8 228.1L516.6 228.2L517.4 228.3L518.2 228.5L519.0 228.7L519.8 229.0L520.5 229.4L521.3 230.0L522.1 230.8L522.9 231.8L523.7 233.0L524.5 234.5L525.2 236.4L526.0 238.6L526.8 241.1L527.6 244.0L528.4 247.2L529.2 250.7L529.9 254.3L530.7 258.1L531.5 261.8L532.3 265.3L533.1 268.5L533.9 271.3L534.6 273.5L535.4 275.0L536.2 275.8L537.0 275.8L537.8 274.8L538.6 273.0L539.3 270.4L540.1 267.1L540.9 263.4L541.7 259.4L542.5 255.3L543.3 251.3L544.0 247.5L544.8 244.0L545.6 240.8L546.4 238.1L547.2 235.8L548.0 233.9L548.7 232.4L549.5 231.2L550.3 230.3L551.1 229.7L551.9 229.2L552.7 228.8L553.4 228.6L554.2 228.4L555.0 228.3L555.8 228.3L556.6 228.2L557.4 228.2L558.1 228.2L558.9 228.2L559.7 228.2L560.5 228.2L561.3 228.2L562.1 228.2L562.8 228.2L563.6 228.2L564.4 228.2L565.2 228.3L566.0 228.3L566.8 228.3L567.5 228.3L568.3 228.3L569.1 228.3L569.9 228.3L570.7 228.3L571.5 228.4L572.2 228.4L573.0 228.4L573.8 228.4L574.6 228.4L575.4 228.4L576.2 228.4L576.9 228.5L577.7 228.5L578.5 228.5L579.3 228.5L580.1 228.5L580.9 228.6L581.6 228.6L582.4 228.6L583.2 228.6L584.0 228.7L584.8 228.7L585.6 228.7L586.3 228.8L587.1 228.8L587.9 228.8L588.7 228.9L589.5 228.9L590.3 229.0L591.0 229.0L591.8 229.1L592.6 229.1L593.4 229.2L594.2 229.2L595.0 229.3L595.7 229.3L596.5 229.4L597.3 229.5L598.1 229.6L598.9 229.6L599.7 229.7L600.4 229.8L601.2 229.9L602.0 230.0L602.8 230.2L603.6 230.3L604.4 230.4L605.2 230.6L605.9 230.8L606.7 230.9L607.5 231.1L608.3 231.4L609.1 231.6L609.9 231.9L610.6 232.2L611.4 232.5L612.2 232.9L613.0 233.3L613.8 233.7L614.6 234.3L615.3 234.9L616.1 235.5L616.9 236.3L617.7 237.2L618.5 238.2L619.3 239.3L620.0 240.7L620.8 242.3L621.6 244.2L622.4 246.5L623.2 249.2L624.0 252.5L624.7 256.6L625.5 261.6L626.3 267.9L627.1 276.0L627.9 286.7L628.7 301.3L629.4 322.8L630.2 351.6L631.0 351.6L631.8 338.0L632.6 310.7L633.4 293.3L634.1 280.9L634.9 271.7L635.7 264.6L636.5 258.9L637.3 254.4L638.1 250.8L638.8 247.8L639.6 245.3L640.4 243.2L641.2 241.5L642.0 240.0L642.8 238.7L643.5 237.6L644.3 236.7L645.1 235.9L645.9 235.2L646.7 234.5L647.5 234.0L648.2 233.5L649.0 233.1L649.8 232.7L650.6 232.3L651.4 232.0L652.2 231.7L652.9 231.5L653.7 231.3L654.5 231.0L655.3 230.9L656.1 230.7L656.9 230.5L657.6 230.4L658.4 230.2L659.2 230.1L660.0 230.0L660.8 229.9L661.6 229.8L662.3 229.7L663.1 229.6L663.9 229.5L664.7 229.4L665.5 229.4L666.3 229.3L667.0 229.2L667.8 229.2L668.6 229.1L669.4 229.1L670.2 229.0L671.0 229.0L671.7 228.9L672.5 228.9L673.3 228.9L674.1 228.8L674.9 228.8L675.7 228.8L676.4 228.7L677.2 228.7L678.0 228.7L678.8 228.6L679.6 228.6L680.4 228.6L681.1 228.6L681.9 228.5L682.7 228.5L683.5 228.5"/>
<path d="M389.7 226.3L390.5 226.3L391.3 226.3L392.1 226.3L392.8 226.3L393.6 226.3L394.4 226.3L395.2 226.3L396.0 226.3L396.8 226.3L397.5 226.3L398.3 226.3L399.1 226.3L399.9 226.3L400.7 226.3L401.5 226.3L402.2 226.3L403.0 226.3L403.8 226.3L404.6 226.3L405.4 226.3L406.2 226.3L406.9 226.3L407.7 226.3L408.5 226.3L409.3 226.3L410.1 226.3L410.9 226.3L411.7 226.3L412.4 226.3L413.2 228.9L414.0 229.0L414.8 229.1L415.6 229.3L416.4 229.5L417.1 229.8L417.9 230.2L418.7 230.7L419.5 231.4L420.3 232.3L421.1 233.4L421.8 234.8L422.6 236.5L423.4 238.4L424.2 240.7L425.0 243.3L425.8 246.2L426.5 249.4L427.3 252.8L428.1 256.3L428.9 259.9L429.7 263.4L430.5 266.8L431.2 269.8L432.0 272.4L432.8 274.5L433.6 276.0L434.4 276.8L435.2 276.9L435.9 276.6L436.7 275.9L437.5 274.8L438.3 273.4L439.1 271.6L439.9 269.6L440.6 267.4L441.4 265.0L442.2 262.5L443.0 259.9L443.8 257.3L444.6 254.7L445.3 252.2L446.1 249.7L446.9 247.4L447.7 245.2L448.5 243.2L449.3 241.4L450.0 239.7L450.8 238.2L451.6 236.9L452.4 235.8L453.2 234.9L454.0 234.1L454.7 233.4L455.5 232.9L456.3 232.4L457.1 232.1L457.9 231.9L458.7 231.7L459.4 231.6L460.2 231.5L461.0 231.5L461.8 231.4L462.6 231.4L463.4 231.4L464.1 231.4L464.9 231.3L465.7 231.3L466.5 231.3L467.3 231.2L468.1 231.2L468.8 231.1L469.6 231.1L470.4 231.0L471.2 230.9L472.0 230.8L472.8 230.7L473.5 230.6L474.3 230.5L475.1 230.4L475.9 230.3L476.7 230.2L477.5 230.1L478.2 230.0L479.0 229.9L479.8 229.8L480.6 229.7L481.4 229.6L482.2 229.6L482.9 229.5L483.7 229.4L484.5 229.3L485.3 229.3L486.1 229.2L486.9 229.2L487.6 229.1L488.4 229.1L489.2 229.0L490.0 229.0L490.8 229.0L491.6 229.0L492.3 228.9L493.1 228.9L493.9 228.9L494.7 228.9L495.5 228.9L496.3 228.9L497.0 228.9L497.8 228.8L498.6 228.8L499.4 228.8L500.2 228.8L501.0 228.8L501.7 228.8L502.5 228.8L503.3 228.8L504.1 228.8L504.9 228.8L505.7 228.8L506.4 228.8L507.2 228.8L508.0 228.8L508.8 228.8L509.6 228.8L510.4 228.8L511.1 228.8L511.9 228.9L512.7 228.9L513.5 228.9L514.3 228.9L515.1 228.9L515.8 229.0L516.6 229.0L517.4 229.1L518.2 229.2L519.0 229.4L519.8 229.6L520.5 229.8L521.3 230.1L522.1 230.5L522.9 231.0L523.7 231.6L524.5 232.3L525.2 233.1L526.0 234.1L526.8 235.2L527.6 236.5L528.4 237.9L529.2 239.4L529.9 241.1L530.7 242.9L531.5 244.7L532.3 246.6L533.1 248.4L533.9 250.2L534.6 251.9L535.4 253.5L536.2 254.8L537.0 255.9L537.8 256.8L538.6 257.3L539.3 257.5L540.1 257.3L540.9 256.8L541.7 255.8L542.5 254.6L543.3 253.1L544.0 251.3L544.8 249.4L545.6 247.4L546.4 245.3L547.2 243.3L548.0 241.4L548.7 239.5L549.5 237.9L550.3 236.3L551.1 235.0L551.9 233.8L552.7 232.8L553.4 232.0L554.2 231.3L555.0 230.7L555.8 230.3L556.6 230.0L557.4 229.7L558.1 229.5L558.9 229.3L559.7 229.2L560.5 229.2L561.3 229.1L562.1 229.1L562.8 229.0L563.6 229.0L564.4 229.0L565.2 229.0L566.0 229.0L566.8 229.0L567.5 229.0L568.3 229.0L569.1 229.0L569.9 229.0L570.7 229.0L571.5 229.0L572.2 229.0L573.0 229.1L573.8 229.1L574.6 229.1L575.4 229.1L576.2 229.1L576.9 229.1L577.7 229.1L578.5 229.1L579.3 229.1L580.1 229.1L580.9 229.1L581.6 229.2L582.4 229.2L583.2 229.2L584.0 229.2L584.8 229.2L585.6 229.2L586.3 229.2L587.1 229.2L587.9 229.3L588.7 229.3L589.5 229.3L590.3 229.3L591.0 229.3L591.8 229.3L592.6 229.4L593.4 229.4L594.2 229.4L595.0 229.4L595.7 229.5L596.5 229.5L597.3 229.5L598.1 229.5L598.9 229.6L599.7 229.6L600.4 229.6L601.2 229.7L602.0 229.7L602.8 229.7L603.6 229.8L604.4 229.8L605.2 229.9L605.9 229.9L606.7 230.0L607.5 230.1L608.3 230.1L609.1 230.2L609.9 230.3L610.6 230.4L611.4 230.4L612.2 230.5L613.0 230.6L613.8 230.8L614.6 230.9L615.3 231.0L616.1 231.2L616.9 231.3L617.7 231.5L618.5 231.7L619.3 232.0L620.0 232.2L620.8 232.5L621.6 232.8L622.4 233.2L623.2 233.6L624.0 234.0L624.7 234.6L625.5 235.2L626.3 235.9L627.1 236.7L627.9 237.7L628.7 238.8L629.4 240.2L630.2 241.9L631.0 243.9L631.8 246.4L632.6 249.5L633.4 253.3L634.1 258.3L634.9 264.7L635.7 273.2L636.5 284.8L637.3 301.6L638.1 328.7L638.8 351.6L639.6 351.6L640.4 317.5L641.2 295.0L642.0 280.3L642.8 269.9L643.5 262.2L644.3 256.4L645.1 251.9L645.9 248.3L646.7 245.5L647.5 243.1L648.2 241.3L649.0 239.7L649.8 238.4L650.6 237.3L651.4 236.4L652.2 235.6L652.9 235.0L653.7 234.4L654.5 233.9L655.3 233.4L656.1 233.0L656.9 232.7L657.6 232.4L658.4 232.1L659.2 231.9L660.0 231.7L660.8 231.5L661.6 231.3L662.3 231.1L663.1 231.0L663.9 230.8L664.7 230.7L665.5 230.6L666.3 230.5L667.0 230.4L667.8 230.3L668.6 230.2L669.4 230.2L670.2 230.1L671.0 230.0L671.7 230.0L672.5 229.9L673.3 229.9L674.1 229.8L674.9 229.8L675.7 229.7L676.4 229.7L677.2 229.7L678.0 229.6L678.8 229.6L679.6 229.6L680.4 229.5L681.1 229.5L681.9 229.5L682.7 229.4L683.5 229.4"/>
<path d="M389.7 226.3L390.5 226.3L391.3 226.3L392.1 226.3L392.8 226.3L393.6 226.3L394.4 226.3L395.2 226.3L396.0 226.3L396.8 226.3L397.5 226.3L398.3 226.3L399.1 226.3L399.9 226.3L400.7 226.3L401.5 226.3L402.2 226.3L403.0 226.3L403.8 226.3L404.6 226.3L405.4 226.3L406.2 226.3L406.9 226.3L407.7 226.3L408.5 226.3L409.3 226.3L410.1 226.4L410.9 226.4L411.7 226.4L412.4 226.4L413.2 229.6L414.0 229.8L414.8 230.1L415.6 230.6L416.4 231.1L417.1 231.8L417.9 232.6L418.7 233.7L419.5 234.9L420.3 236.4L421.1 238.1L421.8 240.1L422.6 242.4L423.4 245.0L424.2 247.8L425.0 250.8L425.8 254.0L426.5 257.4L427.3 260.8L428.1 264.2L428.9 267.4L429.7 270.5L430.5 273.3L431.2 275.8L432.0 277.8L432.8 279.2L433.6 280.1L434.4 280.4L435.2 280.3L435.9 279.8L436.7 279.1L437.5 278.1L438.3 276.9L439.1 275.4L439.9 273.7L440.6 271.8L441.4 269.8L442.2 267.7L443.0 265.5L443.8 263.3L444.6 261.1L445.3 258.9L446.1 256.8L446.9 254.7L447.7 252.7L448.5 250.8L449.3 249.1L450.0 247.5L450.8 246.0L451.6 244.7L452.4 243.5L453.2 242.5L454.0 241.5L454.7 240.7L455.5 240.0L456.3 239.3L457.1 238.8L457.9 238.3L458.7 237.8L459.4 237.4L460.2 236.9L461.0 236.6L461.8 236.2L462.6 235.9L463.4 235.5L464.1 235.2L464.9 234.9L465.7 234.6L466.5 234.4L467.3 234.1L468.1 233.8L468.8 233.5L469.6 233.2L470.4 232.9L471.2 232.6L472.0 232.4L472.8 232.1L473.5 231.8L474.3 231.6L475.1 231.3L475.9 231.1L476.7 230.9L477.5 230.7L478.2 230.5L479.0 230.3L479.8 230.2L480.6 230.0L481.4 229.9L482.2 229.8L482.9 229.6L483.7 229.5L484.5 229.5L485.3 229.4L486.1 229.3L486.9 229.2L487.6 229.2L488.4 229.1L489.2 229.1L490.0 229.1L490.8 229.0L491.6 229.0L492.3 229.0L493.1 229.0L493.9 229.0L494.7 229.0L495.5 229.0L496.3 228.9L497.0 228.9L497.8 228.9L498.6 228.9L499.4 228.9L500.2 228.9L501.0 228.9L501.7 228.9L502.5 228.9L503.3 228.9L504.1 228.9L504.9 228.9L505.7 228.9L506.4 228.9L507.2 228.9L508.0 228.9L508.8 228.9L509.6 228.9L510.4 228.9L511.1 229.0L511.9 229.0L512.7 229.0L513.5 229.0L514.3 229.0L515.1 229.1L515.8 229.2L516.6 229.3L517.4 229.4L518.2 229.6L519.0 229.8L519.8 230.1L520.5 230.5L521.3 231.0L522.1 231.7L522.9 232.5L523.7 233.4L524.5 234.6L525.2 235.9L526.0 237.5L526.8 239.3L527.6 241.3L528.4 243.5L529.2 245.9L529.9 248.5L530.7 251.1L531.5 253.8L532.3 256.4L533.1 259.0L533.9 261.3L534.6 263.5L535.4 265.2L536.2 266.6L537.0 267.6L537.8 268.0L538.6 268.0L539.3 267.6L540.1 266.9L540.9 265.8L541.7 264.3L542.5 262.6L543.3 260.7L544.0 258.6L544.8 256.4L545.6 254.0L546.4 251.7L547.2 249.4L548.0 247.1L548.7 244.9L549.5 242.9L550.3 241.0L551.1 239.3L551.9 237.7L552.7 236.3L553.4 235.1L554.2 234.0L555.0 233.1L555.8 232.3L556.6 231.6L557.4 231.1L558.1 230.7L558.9 230.3L559.7 230.0L560.5 229.8L561.3 229.6L562.1 229.5L562.8 229.4L563.6 229.3L564.4 229.2L565.2 229.2L566.0 229.2L566.8 229.2L567.5 229.1L568.3 229.1L569.1 229.1L569.9 229.1L570.7 229.1L571.5 229.1L572.2 229.1L573.0 229.1L573.8 229.2L574.6 229.2L575.4 229.2L576.2 229.2L576.9 229.2L577.7 229.2L578.5 229.2L579.3 229.2L580.1 229.2L580.9 229.2L581.6 229.2L582.4 229.3L583.2 229.3L584.0 229.3L584.8 229.3L585.6 229.3L586.3 229.3L587.1 229.3L587.9 229.4L588.7 229.4L589.5 229.4L590.3 229.4L591.0 229.4L591.8 229.5L592.6 229.5L593.4 229.5L594.2 229.5L595.0 229.6L595.7 229.6L596.5 229.6L597.3 229.7L598.1 229.7L598.9 229.7L599.7 229.8L600.4 229.8L601.2 229.9L602.0 229.9L602.8 230.0L603.6 230.0L604.4 230.1L605.2 230.1L605.9 230.2L606.7 230.3L607.5 230.4L608.3 230.5L609.1 230.6L609.9 230.7L610.6 230.8L611.4 231.0L612.2 231.1L613.0 231.3L613.8 231.5L614.6 231.7L615.3 232.0L616.1 232.3L616.9 232.6L617.7 232.9L618.5 233.4L619.3 233.9L620.0 234.4L620.8 235.1L621.6 235.9L622.4 236.8L623.2 238.0L624.0 239.4L624.7 241.1L625.5 243.2L626.3 245.9L627.1 249.4L627.9 253.9L628.7 259.8L629.4 267.9L630.2 279.1L631.0 295.6L631.8 321.4L632.6 351.6L633.4 337.8L634.1 305.6L634.9 285.7L635.7 272.4L636.5 263.1L637.3 256.3L638.1 251.2L638.8 247.4L639.6 244.4L640.4 242.0L641.2 240.1L642.0 238.6L642.8 237.3L643.5 236.3L644.3 235.4L645.1 234.7L645.9 234.1L646.7 233.6L647.5 233.1L648.2 232.7L649.0 232.4L649.8 232.1L650.6 231.8L651.4 231.6L652.2 231.4L652.9 231.2L653.7 231.0L654.5 230.9L655.3 230.8L656.1 230.6L656.9 230.5L657.6 230.4L658.4 230.3L659.2 230.3L660.0 230.2L660.8 230.1L661.6 230.0L662.3 230.0L663.1 229.9L663.9 229.9L664.7 229.8L665.5 229.8L666.3 229.7L667.0 229.7L667.8 229.7L668.6 229.6L669.4 229.6L670.2 229.6L671.0 229.5L671.7 229.5L672.5 229.5L673.3 229.5L674.1 229.4L674.9 229.4L675.7 229.4L676.4 229.4L677.2 229.4L678.0 229.4L678.8 229.3L679.6 229.3L680.4 229.3L681.1 229.3L681.9 229.3L682.7 229.3L683.5 229.3"/>
<path d="M389.7 227.7L390.5 227.7L391.3 227.7L392.1 227.7L392.8 227.7L393.6 227.7L394.4 227.7L395.2 227.7L396.0 227.8L396.8 227.8L397.5 227.8L398.3 227.8L399.1 227.8L399.9 227.8L400.7 227.9L401.5 227.9L402.2 227.9L403.0 227.9L403.8 228.0L404.6 228.0L405.4 228.0L406.2 228.1L406.9 228.1L407.7 228.1L408.5 228.2L409.3 228.2L410.1 228.3L410.9 228.3L411.7 228.4L412.4 228.4L413.2 228.5L414.0 228.5L414.8 228.6L415.6 228.7L416.4 228.8L417.1 228.9L417.9 229.0L418.7 229.1L419.5 229.2L420.3 229.4L421.1 229.5L421.8 229.7L422.6 229.9L423.4 230.2L424.2 230.5L425.0 230.9L425.8 231.3L426.5 231.9L427.3 232.5L428.1 233.4L428.9 234.4L429.7 235.6L430.5 237.2L431.2 239.0L432.0 241.2L432.8 243.9L433.6 247.0L434.4 250.7L435.2 255.0L435.9 260.1L436.7 266.0L437.5 273.0L438.3 281.4L439.1 291.4L439.9 302.9L440.6 314.1L441.4 319.4L442.2 314.1L443.0 302.9L443.8 291.4L444.6 281.4L445.3 273.0L446.1 266.0L446.9 260.1L447.7 255.0L448.5 250.7L449.3 247.0L450.0 243.9L450.8 241.2L451.6 239.0L452.4 237.2L453.2 235.6L454.0 234.4L454.7 233.4L455.5 232.5L456.3 231.9L457.1 231.3L457.9 230.9L458.7 230.5L459.4 230.2L460.2 230.0L461.0 229.7L461.8 229.6L462.6 229.4L463.4 229.2L464.1 229.1L464.9 229.0L465.7 228.9L466.5 228.8L467.3 228.7L468.1 228.6L468.8 228.6L469.6 228.5L470.4 228.4L471.2 228.4L472.0 228.3L472.8 228.3L473.5 228.2L474.3 228.2L475.1 228.2L475.9 228.1L476.7 228.1L477.5 228.1L478.2 228.0L479.0 228.0L479.8 228.0L480.6 228.0L481.4 227.9L482.2 227.9L482.9 227.9L483.7 227.9L484.5 227.9L485.3 227.8L486.1 227.8L486.9 227.8L487.6 227.8L488.4 227.8L489.2 227.8L490.0 227.7L490.8 227.7L491.6 227.7L492.3 227.7L493.1 227.7L493.9 227.7L494.7 227.7L495.5 227.7L496.3 227.7L497.0 227.7L497.8 227.7L498.6 227.6L499.4 227.6L500.2 227.6L501.0 227.6L501.7 227.6L502.5 227.6L503.3 227.6L504.1 227.6L504.9 227.6L505.7 227.6L506.4 227.6L507.2 227.6L508.0 227.6L508.8 227.6L509.6 227.6L510.4 227.6L511.1 227.6L511.9 227.6L512.7 227.6L513.5 227.6L514.3 227.6L515.1 227.7L515.8 227.7L516.6 227.8L517.4 227.9L518.2 228.1L519.0 228.3L519.8 228.5L520.5 228.9L521.3 229.3L522.1 229.9L522.9 230.6L523.7 231.4L524.5 232.5L525.2 233.7L526.0 235.2L526.8 236.9L527.6 238.8L528.4 240.9L529.2 243.2L529.9 245.7L530.7 248.3L531.5 251.0L532.3 253.7L533.1 256.3L533.9 258.8L534.6 261.1L535.4 263.1L536.2 264.7L537.0 265.9L537.8 266.7L538.6 266.9L539.3 266.7L540.1 266.2L540.9 265.4L541.7 264.2L542.5 262.8L543.3 261.1L544.0 259.2L544.8 257.2L545.6 255.0L546.4 252.8L547.2 250.6L548.0 248.3L548.7 246.1L549.5 244.0L550.3 242.0L551.1 240.2L551.9 238.5L552.7 236.9L553.4 235.5L554.2 234.2L555.0 233.1L555.8 232.2L556.6 231.3L557.4 230.6L558.1 230.0L558.9 229.6L559.7 229.2L560.5 228.8L561.3 228.6L562.1 228.3L562.8 228.2L563.6 228.0L564.4 228.0L565.2 227.9L566.0 227.8L566.8 227.8L567.5 227.8L568.3 227.7L569.1 227.7L569.9 227.7L570.7 227.7L571.5 227.7L572.2 227.7L573.0 227.7L573.8 227.7L574.6 227.7L575.4 227.8L576.2 227.8L576.9 227.8L577.7 227.8L578.5 227.8L579.3 227.8L580.1 227.8L580.9 227.8L581.6 227.8L582.4 227.9L583.2 227.9L584.0 227.9L584.8 227.9L585.6 227.9L586.3 227.9L587.1 228.0L587.9 228.0L588.7 228.0L589.5 228.0L590.3 228.1L591.0 228.1L591.8 228.1L592.6 228.1L593.4 228.2L594.2 228.2L595.0 228.2L595.7 228.3L596.5 228.3L597.3 228.3L598.1 228.4L598.9 228.4L599.7 228.5L600.4 228.5L601.2 228.6L602.0 228.6L602.8 228.7L603.6 228.8L604.4 228.8L605.2 228.9L605.9 229.0L606.7 229.1L607.5 229.2L608.3 229.3L609.1 229.4L609.9 229.5L610.6 229.6L611.4 229.7L612.2 229.9L613.0 230.1L613.8 230.3L614.6 230.5L615.3 230.7L616.1 230.9L616.9 231.2L617.7 231.5L618.5 231.8L619.3 232.2L620.0 232.7L620.8 233.2L621.6 233.7L622.4 234.4L623.2 235.1L624.0 236.0L624.7 237.0L625.5 238.1L626.3 239.5L627.1 241.1L627.9 243.1L628.7 245.5L629.4 248.4L630.2 252.0L631.0 256.5L631.8 262.1L632.6 269.5L633.4 279.1L634.1 292.4L634.9 312.0L635.7 344.8L636.5 351.6L637.3 344.8L638.1 312.0L638.8 292.4L639.6 279.1L640.4 269.5L641.2 262.1L642.0 256.5L642.8 252.0L643.5 248.4L644.3 245.5L645.1 243.1L645.9 241.1L646.7 239.5L647.5 238.1L648.2 236.9L649.0 235.9L649.8 235.1L650.6 234.4L651.4 233.7L652.2 233.1L652.9 232.7L653.7 232.2L654.5 231.8L655.3 231.5L656.1 231.2L656.9 230.9L657.6 230.7L658.4 230.4L659.2 230.2L660.0 230.1L660.8 229.9L661.6 229.7L662.3 229.6L663.1 229.5L663.9 229.3L664.7 229.2L665.5 229.1L666.3 229.0L667.0 229.0L667.8 228.9L668.6 228.8L669.4 228.7L670.2 228.7L671.0 228.6L671.7 228.6L672.5 228.5L673.3 228.4L674.1 228.4L674.9 228.4L675.7 228.3L676.4 228.3L677.2 228.2L678.0 228.2L678.8 228.2L679.6 228.1L680.4 228.1L681.1 228.1L681.9 228.1L682.7 228.0L683.5 228.0"/>
<path d="M389.7 227.9L390.5 227.9L391.3 227.9L392.1 227.9L392.8 227.9L393.6 227.9L394.4 227.9L395.2 227.9L396.0 227.9L396.8 227.9L397.5 227.9L398.3 227.9L399.1 227.9L399.9 227.9L400.7 227.9L401.5 227.9L402.2 227.9L403.0 227.9L403.8 227.9L404.6 227.9L405.4 227.9L406.2 227.9L406.9 227.9L407.7 227.9L408.5 227.9L409.3 227.9L410.1 227.9L410.9 227.9L411.7 227.9L412.4 227.9L413.2 227.9L414.0 227.9L414.8 227.9L415.6 228.0L416.4 228.0L417.1 228.1L417.9 228.2L418.7 228.3L419.5 228.5L420.3 228.8L421.1 229.1L421.8 229.5L422.6 230.1L423.4 230.8L424.2 231.6L425.0 232.7L425.8 233.9L426.5 235.2L427.3 236.8L428.1 238.5L428.9 240.3L429.7 242.2L430.5 244.0L431.2 245.9L432.0 247.6L432.8 249.1L433.6 250.4L434.4 251.3L435.2 251.9L435.9 252.1L436.7 251.9L437.5 251.3L438.3 250.4L439.1 249.1L439.9 247.6L440.6 245.9L441.4 244.0L442.2 242.2L443.0 240.3L443.8 238.5L444.6 236.8L445.3 235.2L446.1 233.9L446.9 232.7L447.7 231.6L448.5 230.8L449.3 230.1L450.0 229.5L450.8 229.1L451.6 228.8L452.4 228.5L453.2 228.3L454.0 228.2L454.7 228.1L455.5 228.0L456.3 228.0L457.1 227.9L457.9 227.9L458.7 227.9L459.4 227.9L460.2 227.9L461.0 227.9L461.8 227.9L462.6 227.9L463.4 227.9L464.1 227.9L464.9 227.9L465.7 227.9L466.5 227.9L467.3 227.9L468.1 227.9L468.8 227.9L469.6 227.9L470.4 227.9L471.2 227.9L472.0 227.9L472.8 227.9L473.5 227.9L474.3 227.9L475.1 227.9L475.9 227.9L476.7 227.9L477.5 227.9L478.2 227.9L479.0 227.9L479.8 227.9L480.6 227.9L481.4 227.9L482.2 227.9L482.9 227.9L483.7 227.9L484.5 227.9L485.3 227.9L486.1 227.9L486.9 227.9L487.6 227.9L488.4 227.9L489.2 227.9L490.0 227.9L490.8 227.9L491.6 227.9L492.3 227.9L493.1 227.9L493.9 227.9L494.7 227.9L495.5 227.9L496.3 227.9L497.0 227.9L497.8 227.9L498.6 227.9L499.4 227.9L500.2 227.9L501.0 227.9L501.7 227.9L502.5 227.9L503.3 227.9L504.1 227.9L504.9 227.9L505.7 227.9L506.4 227.9L507.2 227.9L508.0 227.9L508.8 227.9L509.6 227.9L510.4 227.9L511.1 227.9L511.9 227.9L512.7 227.9L513.5 227.9L514.3 227.9L515.1 227.9L515.8 227.9L516.6 227.9L517.4 227.9L518.2 227.9L519.0 227.9L519.8 227.9L520.5 227.9L521.3 228.0L522.1 228.0L522.9 228.1L523.7 228.2L524.5 228.4L525.2 228.6L526.0 228.9L526.8 229.4L527.6 230.0L528.4 230.7L529.2 231.7L529.9 233.0L530.7 234.5L531.5 236.4L532.3 238.6L533.1 241.2L533.9 244.1L534.6 247.4L535.4 250.9L536.2 254.5L537.0 258.3L537.8 262.1L538.6 265.6L539.3 268.9L540.1 271.7L540.9 273.9L541.7 275.4L542.5 276.2L543.3 276.2L544.0 275.4L544.8 273.9L545.6 271.7L546.4 268.9L547.2 265.6L548.0 262.1L548.7 258.3L549.5 254.5L550.3 250.9L551.1 247.4L551.9 244.1L552.7 241.2L553.4 238.6L554.2 236.4L555.0 234.5L555.8 233.0L556.6 231.7L557.4 230.7L558.1 230.0L558.9 229.4L559.7 228.9L560.5 228.6L561.3 228.4L562.1 228.2L562.8 228.1L563.6 228.0L564.4 228.0L565.2 228.0L566.0 228.0L566.8 228.0L567.5 228.0L568.3 228.0L569.1 228.1L569.9 228.2L570.7 228.3L571.5 228.4L572.2 228.6L573.0 228.8L573.8 229.1L574.6 229.5L575.4 229.9L576.2 230.5L576.9 231.1L577.7 231.9L578.5 232.9L579.3 234.0L580.1 235.3L580.9 236.8L581.6 238.5L582.4 240.4L583.2 242.5L584.0 244.8L584.8 247.3L585.6 249.9L586.3 252.7L587.1 255.7L587.9 258.7L588.7 261.7L589.5 264.6L590.3 267.5L591.0 270.3L591.8 272.8L592.6 275.0L593.4 277.0L594.2 278.5L595.0 279.6L595.7 280.3L596.5 280.6L597.3 280.3L598.1 279.6L598.9 278.5L599.7 277.0L600.4 275.0L601.2 272.8L602.0 270.3L602.8 267.5L603.6 264.6L604.4 261.7L605.2 258.7L605.9 255.7L606.7 252.7L607.5 249.9L608.3 247.3L609.1 244.8L609.9 242.5L610.6 240.4L611.4 238.5L612.2 236.8L613.0 235.3L613.8 234.0L614.6 232.9L615.3 231.9L616.1 231.1L616.9 230.5L617.7 229.9L618.5 229.5L619.3 229.1L620.0 228.8L620.8 228.6L621.6 228.4L622.4 228.3L623.2 228.2L624.0 228.1L624.7 228.0L625.5 228.0L626.3 228.0L627.1 227.9L627.9 227.9L628.7 227.9L629.4 227.9L630.2 227.9L631.0 227.9L631.8 227.9L632.6 228.0L633.4 228.0L634.1 228.1L634.9 228.1L635.7 228.2L636.5 228.3L637.3 228.5L638.1 228.6L638.8 228.9L639.6 229.2L640.4 229.6L641.2 230.0L642.0 230.6L642.8 231.2L643.5 232.0L644.3 233.0L645.1 234.1L645.9 235.4L646.7 236.8L647.5 238.5L648.2 240.3L649.0 242.3L649.8 244.5L650.6 246.9L651.4 249.4L652.2 252.1L652.9 254.8L653.7 257.6L654.5 260.3L655.3 263.0L656.1 265.6L656.9 268.0L657.6 270.2L658.4 272.2L659.2 273.8L660.0 275.0L660.8 275.9L661.6 276.3L662.3 276.3L663.1 275.9L663.9 275.0L664.7 273.8L665.5 272.2L666.3 270.2L667.0 268.0L667.8 265.6L668.6 263.0L669.4 260.3L670.2 257.6L671.0 254.8L671.7 252.1L672.5 249.4L673.3 246.9L674.1 244.5L674.9 242.3L675.7 240.3L676.4 238.5L677.2 236.8L678.0 235.4L678.8 234.1L679.6 233.0L680.4 232.0L681.1 231.2L681.9 230.6L682.7 230.0L683.5 229.6"/>
<path d="M389.7 227.9L390.5 227.9L391.3 227.9L392.1 227.9L392.8 227.9L393.6 227.9L394.4 227.9L395.2 227.9L396.0 227.9L396.8 227.9L397.5 227.9L398.3 227.9L399.1 227.9L399.9 227.9L400.7 227.9L401.5 227.9L402.2 227.9L403.0 227.9L403.8 227.9L404.6 227.9L405.4 227.9L406.2 227.9L406.9 227.9L407.7 227.9L408.5 227.9L409.3 227.9L410.1 227.9L410.9 227.9L411.7 227.9L412.4 227.9L413.2 227.9L414.0 227.9L414.8 228.0L415.6 228.0L416.4 228.1L417.1 228.3L417.9 228.4L418.7 228.7L419.5 229.0L420.3 229.4L421.1 230.0L421.8 230.7L422.6 231.5L423.4 232.6L424.2 233.9L425.0 235.4L425.8 237.1L426.5 239.0L427.3 241.1L428.1 243.4L428.9 245.7L429.7 248.1L430.5 250.4L431.2 252.5L432.0 254.4L432.8 256.0L433.6 257.2L434.4 257.9L435.2 258.2L435.9 257.9L436.7 257.2L437.5 256.0L438.3 254.4L439.1 252.5L439.9 250.4L440.6 248.1L441.4 245.7L442.2 243.4L443.0 241.1L443.8 239.0L444.6 237.1L445.3 235.4L446.1 233.9L446.9 232.6L447.7 231.5L448.5 230.7L449.3 230.0L450.0 229.4L450.8 229.0L451.6 228.7L452.4 228.4L453.2 228.3L454.0 228.1L454.7 228.0L455.5 228.0L456.3 227.9L457.1 227.9L457.9 227.9L458.7 227.9L459.4 227.9L460.2 227.9L461.0 227.9L461.8 227.9L462.6 227.9L463.4 227.9L464.1 227.9L464.9 227.9L465.7 227.9L466.5 227.9L467.3 227.9L468.1 227.9L468.8 227.9L469.6 227.9L470.4 227.9L471.2 227.9L472.0 227.9L472.8 227.9L473.5 227.9L474.3 227.9L475.1 227.9L475.9 227.9L476.7 227.9L477.5 227.9L478.2 227.9L479.0 227.9L479.8 227.9L480.6 227.9L481.4 227.9L482.2 227.9L482.9 227.9L483.7 227.9L484.5 227.9L485.3 227.9L486.1 227.9L486.9 227.9L487.6 227.9L488.4 227.9L489.2 227.9L490.0 227.9L490.8 227.9L491.6 227.9L492.3 227.9L493.1 227.9L493.9 227.9L494.7 227.9L495.5 227.9L496.3 227.9L497.0 227.9L497.8 227.9L498.6 227.9L499.4 227.9L500.2 227.9L501.0 227.9L501.7 227.9L502.5 227.9L503.3 227.9L504.1 227.9L504.9 227.9L505.7 227.9L506.4 227.9L507.2 227.9L508.0 227.9L508.8 227.9L509.6 227.9L510.4 227.9L511.1 227.9L511.9 227.9L512.7 227.9L513.5 227.9L514.3 227.9L515.1 227.9L515.8 227.9L516.6 227.9L517.4 227.9L518.2 227.9L519.0 227.9L519.8 227.9L520.5 227.9L521.3 227.9L522.1 227.9L522.9 227.9L523.7 228.0L524.5 228.0L525.2 228.1L526.0 228.2L526.8 228.3L527.6 228.4L528.4 228.7L529.2 229.0L529.9 229.4L530.7 229.9L531.5 230.5L532.3 231.4L533.1 232.4L533.9 233.6L534.6 235.1L535.4 236.9L536.2 238.9L537.0 241.3L537.8 243.9L538.6 246.8L539.3 250.0L540.1 253.3L540.9 256.8L541.7 260.3L542.5 263.8L543.3 267.2L544.0 270.3L544.8 273.1L545.6 275.5L546.4 277.4L547.2 278.7L548.0 279.3L548.7 279.4L549.5 278.8L550.3 277.5L551.1 275.7L551.9 273.5L552.7 270.8L553.4 267.8L554.2 264.7L555.0 261.5L555.8 258.3L556.6 255.3L557.4 252.5L558.1 250.0L558.9 247.9L559.7 246.2L560.5 245.0L561.3 244.3L562.1 244.0L562.8 244.2L563.6 244.8L564.4 245.9L565.2 247.3L566.0 249.0L566.8 251.0L567.5 253.1L568.3 255.4L569.1 257.8L569.9 260.1L570.7 262.3L571.5 264.4L572.2 266.2L573.0 267.8L573.8 269.0L574.6 269.8L575.4 270.2L576.2 270.2L576.9 269.8L577.7 269.0L578.5 267.7L579.3 266.1L580.1 264.2L580.9 262.1L581.6 259.7L582.4 257.2L583.2 254.6L584.0 252.0L584.8 249.5L585.6 247.0L586.3 244.6L587.1 242.4L587.9 240.4L588.7 238.5L589.5 236.8L590.3 235.4L591.0 234.1L591.8 233.0L592.6 232.2L593.4 231.4L594.2 230.9L595.0 230.5L595.7 230.2L596.5 230.1L597.3 230.1L598.1 230.3L598.9 230.6L599.7 231.0L600.4 231.5L601.2 232.2L602.0 233.1L602.8 234.1L603.6 235.2L604.4 236.5L605.2 238.0L605.9 239.6L606.7 241.4L607.5 243.3L608.3 245.4L609.1 247.5L609.9 249.8L610.6 252.0L611.4 254.2L612.2 256.4L613.0 258.5L613.8 260.5L614.6 262.3L615.3 263.9L616.1 265.2L616.9 266.2L617.7 266.9L618.5 267.2L619.3 267.2L620.0 266.9L620.8 266.2L621.6 265.2L622.4 263.9L623.2 262.3L624.0 260.5L624.7 258.5L625.5 256.4L626.3 254.2L627.1 252.0L627.9 249.7L628.7 247.5L629.4 245.4L630.2 243.3L631.0 241.4L631.8 239.6L632.6 238.0L633.4 236.5L634.1 235.1L634.9 234.0L635.7 232.9L636.5 232.0L637.3 231.3L638.1 230.6L638.8 230.1L639.6 229.6L640.4 229.3L641.2 229.0L642.0 228.7L642.8 228.5L643.5 228.4L644.3 228.3L645.1 228.3L645.9 228.2L646.7 228.2L647.5 228.3L648.2 228.4L649.0 228.5L649.8 228.6L650.6 228.8L651.4 229.1L652.2 229.5L652.9 229.9L653.7 230.4L654.5 231.0L655.3 231.8L656.1 232.7L656.9 233.7L657.6 234.9L658.4 236.3L659.2 237.8L660.0 239.5L660.8 241.4L661.6 243.5L662.3 245.7L663.1 248.1L663.9 250.6L664.7 253.1L665.5 255.7L666.3 258.3L667.0 260.8L667.8 263.3L668.6 265.5L669.4 267.6L670.2 269.4L671.0 270.9L671.7 272.1L672.5 272.9L673.3 273.3L674.1 273.3L674.9 272.9L675.7 272.1L676.4 270.9L677.2 269.4L678.0 267.6L678.8 265.5L679.6 263.3L680.4 260.8L681.1 258.3L681.9 255.7L682.7 253.1L683.5 250.6"/>
<path d="M389.7 227.9L390.5 227.9L391.3 227.9L392.1 227.9L392.8 227.9L393.6 227.9L394.4 227.9L395.2 227.9L396.0 227.9L396.8 227.9L397.5 227.9L398.3 227.9L399.1 227.9L399.9 227.9L400.7 227.9L401.5 227.9L402.2 227.9L403.0 227.9L403.8 227.9L404.6 227.9L405.4 227.9L406.2 227.9L406.9 227.9L407.7 227.9L408.5 227.9L409.3 227.9L410.1 227.9L410.9 227.9L411.7 227.9L412.4 227.9L413.2 227.9L414.0 227.9L414.8 227.9L415.6 227.9L416.4 227.9L417.1 228.0L417.9 228.0L418.7 228.1L419.5 228.2L420.3 228.3L421.1 228.5L421.8 228.8L422.6 229.1L423.4 229.5L424.2 230.1L425.0 230.7L425.8 231.5L426.5 232.4L427.3 233.4L428.1 234.6L428.9 235.8L429.7 237.2L430.5 238.6L431.2 240.0L432.0 241.4L432.8 242.7L433.6 243.8L434.4 244.7L435.2 245.5L435.9 245.9L436.7 246.0L437.5 245.9L438.3 245.5L439.1 244.7L439.9 243.8L440.6 242.7L441.4 241.4L442.2 240.0L443.0 238.6L443.8 237.2L444.6 235.8L445.3 234.6L446.1 233.4L446.9 232.4L447.7 231.5L448.5 230.7L449.3 230.1L450.0 229.5L450.8 229.1L451.6 228.8L452.4 228.5L453.2 228.3L454.0 228.2L454.7 228.1L455.5 228.0L456.3 228.0L457.1 227.9L457.9 227.9L458.7 227.9L459.4 227.9L460.2 227.9L461.0 227.9L461.8 227.9L462.6 227.9L463.4 227.9L464.1 227.9L464.9 227.9L465.7 227.9L466.5 227.9L467.3 227.9L468.1 227.9L468.8 227.9L469.6 227.9L470.4 227.9L471.2 227.9L472.0 227.9L472.8 227.9L473.5 227.9L474.3 227.9L475.1 227.9L475.9 227.9L476.7 227.9L477.5 227.9L478.2 227.9L479.0 227.9L479.8 227.9L480.6 227.9L481.4 227.9L482.2 227.9L482.9 227.9L483.7 227.9L484.5 227.9L485.3 227.9L486.1 227.9L486.9 227.9L487.6 227.9L488.4 227.9L489.2 227.9L490.0 227.9L490.8 227.9L491.6 227.9L492.3 227.9L493.1 227.9L493.9 227.9L494.7 227.9L495.5 227.9L496.3 227.9L497.0 227.9L497.8 227.9L498.6 227.9L499.4 227.9L500.2 227.9L501.0 227.9L501.7 227.9L502.5 227.9L503.3 227.9L504.1 227.9L504.9 227.9L505.7 227.9L506.4 227.9L507.2 227.9L508.0 227.9L508.8 227.9L509.6 227.9L510.4 227.9L511.1 228.0L511.9 228.0L512.7 228.0L513.5 228.1L514.3 228.2L515.1 228.3L515.8 228.4L516.6 228.5L517.4 228.7L518.2 228.9L519.0 229.2L519.8 229.5L520.5 229.9L521.3 230.4L522.1 230.9L522.9 231.5L523.7 232.2L524.5 233.0L525.2 233.8L526.0 234.8L526.8 235.8L527.6 236.9L528.4 238.1L529.2 239.3L529.9 240.6L530.7 241.8L531.5 243.1L532.3 244.4L533.1 245.6L533.9 246.7L534.6 247.8L535.4 248.8L536.2 249.6L537.0 250.3L537.8 250.8L538.6 251.2L539.3 251.4L540.1 251.5L540.9 251.4L541.7 251.2L542.5 250.9L543.3 250.5L544.0 250.0L544.8 249.4L545.6 248.8L546.4 248.2L547.2 247.6L548.0 247.1L548.7 246.5L549.5 246.1L550.3 245.7L551.1 245.4L551.9 245.1L552.7 245.0L553.4 244.9L554.2 244.9L555.0 245.0L555.8 245.1L556.6 245.3L557.4 245.5L558.1 245.7L558.9 246.0L559.7 246.3L560.5 246.5L561.3 246.8L562.1 247.0L562.8 247.3L563.6 247.4L564.4 247.6L565.2 247.7L566.0 247.8L566.8 247.8L567.5 247.8L568.3 247.7L569.1 247.6L569.9 247.5L570.7 247.3L571.5 247.1L572.2 246.9L573.0 246.7L573.8 246.4L574.6 246.2L575.4 245.9L576.2 245.7L576.9 245.5L577.7 245.3L578.5 245.1L579.3 245.0L580.1 244.9L580.9 244.8L581.6 244.8L582.4 244.8L583.2 244.9L584.0 245.0L584.8 245.2L585.6 245.4L586.3 245.7L587.1 246.0L587.9 246.4L588.7 246.8L589.5 247.2L590.3 247.7L591.0 248.1L591.8 248.6L592.6 249.0L593.4 249.5L594.2 249.9L595.0 250.3L595.7 250.7L596.5 251.0L597.3 251.3L598.1 251.5L598.9 251.6L599.7 251.7L600.4 251.7L601.2 251.7L602.0 251.5L602.8 251.3L603.6 251.0L604.4 250.6L605.2 250.2L605.9 249.7L606.7 249.1L607.5 248.5L608.3 247.9L609.1 247.2L609.9 246.4L610.6 245.7L611.4 245.0L612.2 244.2L613.0 243.5L613.8 242.8L614.6 242.2L615.3 241.6L616.1 241.2L616.9 240.7L617.7 240.4L618.5 240.2L619.3 240.2L620.0 240.3L620.8 240.5L621.6 240.9L622.4 241.4L623.2 242.1L624.0 243.0L624.7 244.1L625.5 245.3L626.3 246.7L627.1 248.2L627.9 249.9L628.7 251.7L629.4 253.6L630.2 255.6L631.0 257.6L631.8 259.6L632.6 261.6L633.4 263.6L634.1 265.4L634.9 267.2L635.7 268.8L636.5 270.2L637.3 271.3L638.1 272.3L638.8 273.0L639.6 273.4L640.4 273.5L641.2 273.3L642.0 272.8L642.8 272.1L643.5 271.1L644.3 269.8L645.1 268.3L645.9 266.6L646.7 264.8L647.5 262.8L648.2 260.7L649.0 258.5L649.8 256.3L650.6 254.0L651.4 251.8L652.2 249.7L652.9 247.6L653.7 245.6L654.5 243.6L655.3 241.9L656.1 240.2L656.9 238.6L657.6 237.2L658.4 235.9L659.2 234.8L660.0 233.8L660.8 232.9L661.6 232.1L662.3 231.4L663.1 230.8L663.9 230.3L664.7 229.8L665.5 229.5L666.3 229.2L667.0 228.9L667.8 228.7L668.6 228.5L669.4 228.4L670.2 228.3L671.0 228.2L671.7 228.1L672.5 228.1L673.3 228.0L674.1 228.0L674.9 228.0L675.7 227.9L676.4 227.9L677.2 227.9L678.0 227.9L678.8 227.9L679.6 227.9L680.4 227.9L681.1 227.9L681.9 227.9L682.7 227.9L683.5 227.9"/>
<path d="M389.7 227.9L390.5 227.9L391.3 227.9L392.1 227.9L392.8 227.9L393.6 227.9L394.4 227.9L395.2 227.9L396.0 227.9L396.8 227.9L397.5 227.9L398.3 227.9L399.1 227.9L399.9 227.9L400.7 227.9L401.5 227.9L402.2 227.9L403.0 227.9L403.8 227.9L404.6 227.9L405.4 227.9L406.2 227.9L406.9 227.9L407.7 227.9L408.5 227.9L409.3 227.9L410.1 227.9L410.9 227.9L411.7 227.9L412.4 227.9L413.2 227.9L414.0 227.9L414.8 227.9L415.6 228.0L416.4 228.0L417.1 228.1L417.9 228.2L418.7 228.3L419.5 228.5L420.3 228.8L421.1 229.2L421.8 229.7L422.6 230.4L423.4 231.2L424.2 232.3L425.0 233.5L425.8 235.1L426.5 236.9L427.3 238.9L428.1 241.2L428.9 243.8L429.7 246.5L430.5 249.3L431.2 252.1L432.0 254.9L432.8 257.4L433.6 259.7L434.4 261.6L435.2 263.0L435.9 263.9L436.7 264.2L437.5 263.9L438.3 263.0L439.1 261.6L439.9 259.7L440.6 257.4L441.4 254.9L442.2 252.1L443.0 249.3L443.8 246.5L444.6 243.8L445.3 241.2L446.1 238.9L446.9 236.9L447.7 235.1L448.5 233.5L449.3 232.3L450.0 231.2L450.8 230.4L451.6 229.7L452.4 229.2L453.2 228.8L454.0 228.5L454.7 228.3L455.5 228.2L456.3 228.1L457.1 228.0L457.9 228.0L458.7 227.9L459.4 227.9L460.2 227.9L461.0 227.9L461.8 227.9L462.6 227.9L463.4 227.9L464.1 227.9L464.9 227.9L465.7 227.9L466.5 227.9L467.3 227.9L468.1 227.9L468.8 227.9L469.6 227.9L470.4 227.9L471.2 227.9L472.0 227.9L472.8 227.9L473.5 227.9L474.3 227.9L475.1 227.9L475.9 227.9L476.7 227.9L477.5 227.9L478.2 227.9L479.0 227.9L479.8 227.9L480.6 227.9L481.4 227.9L482.2 227.9L482.9 227.9L483.7 227.9L484.5 227.9L485.3 227.9L486.1 227.9L486.9 227.9L487.6 227.9L488.4 227.9L489.2 227.9L490.0 227.9L490.8 227.9L491.6 227.9L492.3 227.9L493.1 227.9L493.9 227.9L494.7 227.9L495.5 227.9L496.3 227.9L497.0 227.9L497.8 227.9L498.6 227.9L499.4 227.9L500.2 227.9L501.0 227.9L501.7 227.9L502.5 227.9L503.3 227.9L504.1 227.9L504.9 227.9L505.7 227.9L506.4 227.9L507.2 227.9L508.0 227.9L508.8 227.9L509.6 227.9L510.4 227.9L511.1 227.9L511.9 227.9L512.7 227.9L513.5 227.9L514.3 227.9L515.1 227.9L515.8 227.9L516.6 227.9L517.4 227.9L518.2 228.0L519.0 228.0L519.8 228.1L520.5 228.2L521.3 228.3L522.1 228.5L522.9 228.8L523.7 229.2L524.5 229.7L525.2 230.4L526.0 231.2L526.8 232.3L527.6 233.7L528.4 235.3L529.2 237.3L529.9 239.5L530.7 242.1L531.5 244.9L532.3 248.0L533.1 251.2L533.9 254.5L534.6 257.8L535.4 260.9L536.2 263.7L537.0 266.2L537.8 268.1L538.6 269.5L539.3 270.2L540.1 270.2L540.9 269.5L541.7 268.1L542.5 266.2L543.3 263.7L544.0 260.9L544.8 257.8L545.6 254.5L546.4 251.2L547.2 248.0L548.0 244.9L548.7 242.1L549.5 239.5L550.3 237.3L551.1 235.3L551.9 233.7L552.7 232.3L553.4 231.2L554.2 230.4L555.0 229.7L555.8 229.2L556.6 228.8L557.4 228.5L558.1 228.3L558.9 228.2L559.7 228.1L560.5 228.0L561.3 228.0L562.1 227.9L562.8 227.9L563.6 227.9L564.4 227.9L565.2 227.9L566.0 227.9L566.8 227.9L567.5 227.9L568.3 227.9L569.1 227.9L569.9 227.9L570.7 227.9L571.5 227.9L572.2 227.9L573.0 227.9L573.8 227.9L574.6 227.9L575.4 227.9L576.2 228.0L576.9 228.0L577.7 228.0L578.5 228.1L579.3 228.1L580.1 228.2L580.9 228.2L581.6 228.3L582.4 228.4L583.2 228.5L584.0 228.7L584.8 228.8L585.6 229.0L586.3 229.2L587.1 229.5L587.9 229.7L588.7 230.1L589.5 230.4L590.3 230.8L591.0 231.3L591.8 231.8L592.6 232.3L593.4 233.0L594.2 233.6L595.0 234.3L595.7 235.1L596.5 235.9L597.3 236.8L598.1 237.7L598.9 238.7L599.7 239.6L600.4 240.6L601.2 241.7L602.0 242.7L602.8 243.8L603.6 244.8L604.4 245.8L605.2 246.7L605.9 247.7L606.7 248.5L607.5 249.3L608.3 250.0L609.1 250.6L609.9 251.2L610.6 251.6L611.4 251.9L612.2 252.0L613.0 252.1L613.8 252.1L614.6 251.9L615.3 251.6L616.1 251.2L616.9 250.7L617.7 250.1L618.5 249.4L619.3 248.6L620.0 247.8L620.8 246.9L621.6 246.0L622.4 245.1L623.2 244.2L624.0 243.2L624.7 242.3L625.5 241.5L626.3 240.7L627.1 239.9L627.9 239.3L628.7 238.7L629.4 238.3L630.2 237.9L631.0 237.7L631.8 237.6L632.6 237.7L633.4 237.9L634.1 238.2L634.9 238.8L635.7 239.4L636.5 240.3L637.3 241.2L638.1 242.4L638.8 243.6L639.6 245.0L640.4 246.4L641.2 248.0L642.0 249.6L642.8 251.2L643.5 252.9L644.3 254.5L645.1 256.1L645.9 257.7L646.7 259.1L647.5 260.4L648.2 261.5L649.0 262.5L649.8 263.3L650.6 263.8L651.4 264.2L652.2 264.3L652.9 264.1L653.7 263.8L654.5 263.2L655.3 262.4L656.1 261.4L656.9 260.2L657.6 258.9L658.4 257.4L659.2 255.8L660.0 254.1L660.8 252.4L661.6 250.6L662.3 248.8L663.1 247.0L663.9 245.3L664.7 243.6L665.5 242.0L666.3 240.5L667.0 239.1L667.8 237.7L668.6 236.5L669.4 235.4L670.2 234.3L671.0 233.4L671.7 232.6L672.5 231.9L673.3 231.2L674.1 230.7L674.9 230.2L675.7 229.8L676.4 229.4L677.2 229.2L678.0 228.9L678.8 228.7L679.6 228.5L680.4 228.4L681.1 228.3L681.9 228.2L682.7 228.1L683.5 228.1"/>
</g>
<clipPath id="bx1"><rect x="388.00" y="222.45" width="296.00" height="124.85"/></clipPath>
<path clip-path="url(#bx1)" d="M390.0 226.9L390.5 226.9L391.0 227.0L391.5 227.0L392.0 227.1L392.5 227.2L393.0 227.3L393.5 227.4L394.0 227.6L394.5 227.8L395.0 228.1L395.5 228.4L396.0 228.8L396.5 229.1L397.0 229.6L397.5 230.0L398.0 230.4L398.5 230.7L399.0 231.1L399.5 231.4L400.0 231.8L400.5 232.1L401.0 232.5L401.5 232.8L402.0 233.1L402.5 233.3L403.0 233.5L403.5 233.8L404.0 234.0L404.5 234.1L405.0 234.3L405.5 234.3L406.0 234.3L406.5 234.2L407.0 234.1L407.5 234.0L408.0 233.9L408.5 233.8L409.0 233.7L409.5 233.5L410.0 233.4L410.5 233.2L411.0 233.0L411.5 232.9L412.0 232.7L412.5 232.6L413.0 232.5L413.5 232.3L414.0 232.2L414.5 232.1L415.0 231.9L415.5 231.8L416.0 231.7L416.5 231.6L417.0 231.5L417.5 231.4L418.0 231.3L418.5 231.2L419.0 231.1L419.5 231.1L420.0 231.0L420.5 231.0L421.0 231.0L421.5 231.0L422.0 231.0L422.5 231.0L423.0 231.1L423.5 231.1L424.0 231.1L424.5 231.2L425.0 231.2L425.5 231.2L426.0 231.3L426.5 231.4L427.0 231.4L427.5 231.5L428.0 231.5L428.5 231.6L429.0 231.7L429.5 231.8L430.0 232.0L430.5 232.2L431.0 232.4L431.5 232.7L432.0 232.9L432.5 233.2L433.0 233.4L433.5 233.7L434.0 233.9L434.5 234.1L435.0 234.3L435.5 234.4L436.0 234.6L436.5 234.7L437.0 234.9L437.5 235.1L438.0 235.2L438.5 235.3L439.0 235.4L439.5 235.5L440.0 235.6L440.5 235.6L441.0 235.6L441.5 235.5L442.0 235.5L442.5 235.4L443.0 235.2L443.5 235.1L444.0 235.0L444.5 234.9L445.0 234.7L445.5 234.5L446.0 234.3L446.5 234.1L447.0 233.8L447.5 233.6L448.0 233.4L448.5 233.2L449.0 233.0L449.5 232.8L450.0 232.6L450.5 232.3L451.0 232.1L451.5 231.9L452.0 231.7L452.5 231.5L453.0 231.3L453.5 231.1L454.0 230.9L454.5 230.7L455.0 230.5L455.5 230.3L456.0 230.2L456.5 230.0L457.0 229.8L457.5 229.7L458.0 229.5L458.5 229.4L459.0 229.2L459.5 229.0L460.0 228.9L460.5 228.8L461.0 228.6L461.5 228.5L462.0 228.3L462.5 228.2L463.0 228.1L463.5 228.0L464.0 227.9L464.5 227.8L465.0 227.8L465.5 227.7L466.0 227.6L466.5 227.5L467.0 227.5L467.5 227.4L468.0 227.3L468.5 227.3L469.0 227.2L469.5 227.2L470.0 227.1L470.5 227.0L471.0 227.0L471.5 226.9L472.0 226.9L472.5 226.8L473.0 226.8L473.5 226.7L474.0 226.6L474.5 226.6L475.0 226.5L475.5 226.4L476.0 226.4L476.5 226.3L477.0 226.3L477.5 226.2L478.0 226.1L478.5 226.1L479.0 226.0L479.5 226.0L480.0 225.9L480.5 225.9L481.0 225.8L481.5 225.8L482.0 225.8L482.5 225.7L483.0 225.7L483.5 225.7L484.0 225.7L484.5 225.6L485.0 225.6L485.5 225.6L486.0 225.6L486.5 225.6L487.0 225.6L487.5 225.6L488.0 225.7L488.5 225.7L489.0 225.8L489.5 225.8L490.0 225.9L490.5 225.9L491.0 226.0L491.5 226.1L492.0 226.1L492.5 226.2L493.0 226.2L493.5 226.2L494.0 226.3L494.5 226.3L495.0 226.3L495.5 226.3L496.0 226.3L496.5 226.3L497.0 226.2L497.5 226.2L498.0 226.2L498.5 226.2L499.0 226.1L499.5 226.1L500.0 226.1L500.5 226.0L501.0 226.0L501.5 226.0L502.0 225.9L502.5 225.9L503.0 225.9L503.5 225.9L504.0 225.9L504.5 225.9L505.0 226.0L505.5 226.0L506.0 226.1L506.5 226.2L507.0 226.3L507.5 226.4L508.0 226.5L508.5 226.6L509.0 226.7L509.5 226.8L510.0 226.9L510.5 227.0L511.0 227.1L511.5 227.2L512.0 227.3L512.5 227.4L513.0 227.5L513.5 227.6L514.0 227.7L514.5 227.8L515.0 227.9L515.5 228.0L516.0 228.1L516.5 228.1L517.0 228.2L517.5 228.3L518.0 228.3L518.5 228.3L519.0 228.4L519.5 228.4L520.0 228.4L520.5 228.4L521.0 228.4L521.5 228.4L522.0 228.4L522.5 228.5L523.0 228.5L523.5 228.5L524.0 228.5L524.5 228.5L525.0 228.6L525.5 228.6L526.0 228.6L526.5 228.7L527.0 228.8L527.5 228.9L528.0 229.0L528.5 229.2L529.0 229.3L529.5 229.5L530.0 229.6L530.5 229.8L531.0 229.9L531.5 230.1L532.0 230.2L532.5 230.4L533.0 230.6L533.5 230.7L534.0 230.9L534.5 231.1L535.0 231.2L535.5 231.4L536.0 231.5L536.5 231.7L537.0 231.8L537.5 231.9L538.0 232.0L538.5 232.1L539.0 232.3L539.5 232.4L540.0 232.6L540.5 232.7L541.0 232.9L541.5 233.2L542.0 233.5L542.5 233.8L543.0 234.2L543.5 234.7L544.0 235.2L544.5 235.8L545.0 236.5L545.5 237.4L546.0 238.4L546.5 239.5L547.0 240.7L547.5 242.0L548.0 243.4L548.5 245.0L549.0 246.9L549.5 248.9L550.0 251.0L550.5 253.5L551.0 256.2L551.5 259.3L552.0 262.9L552.5 267.1L553.0 271.8L553.5 277.0L554.0 282.5L554.5 288.5L555.0 295.4L555.5 303.1L556.0 311.6L556.5 321.1L557.0 331.1L557.5 341.8L558.0 354.9L558.5 369.4L559.0 369.2L559.5 354.4L560.0 342.6L560.5 334.5L561.0 327.0L561.5 319.3L562.0 311.9L562.5 304.7L563.0 298.0L563.5 291.5L564.0 284.5L564.5 275.5L565.0 268.3L565.5 264.1L566.0 260.9L566.5 258.3L567.0 255.8L567.5 253.6L568.0 251.6L568.5 249.8L569.0 248.3L569.5 247.0L570.0 245.8L570.5 244.8L571.0 243.9L571.5 243.2L572.0 242.7L572.5 242.3L573.0 241.9L573.5 241.5L574.0 241.2L574.5 241.0L575.0 240.7L575.5 240.6L576.0 240.4L576.5 240.3L577.0 240.2L577.5 240.1L578.0 240.0L578.5 239.9L579.0 239.8L579.5 239.7L580.0 239.7L580.5 239.6L581.0 239.5L581.5 239.5L582.0 239.4L582.5 239.3L583.0 239.2L583.5 239.1L584.0 239.1L584.5 239.0L585.0 238.9L585.5 238.8L586.0 238.7L586.5 238.6L587.0 238.5L587.5 238.4L588.0 238.4L588.5 238.3L589.0 238.2L589.5 238.2L590.0 238.2L590.5 238.2L591.0 238.2L591.5 238.3L592.0 238.4L592.5 238.5L593.0 238.7L593.5 238.9L594.0 239.1L594.5 239.3L595.0 239.5L595.5 239.7L596.0 240.0L596.5 240.2L597.0 240.5L597.5 240.7L598.0 241.0L598.5 241.2L599.0 241.5L599.5 241.9L600.0 242.3L600.5 242.7L601.0 243.1L601.5 243.5L602.0 243.9L602.5 244.3L603.0 244.7L603.5 245.1L604.0 245.6L604.5 246.0L605.0 246.5L605.5 246.9L606.0 247.4L606.5 248.0L607.0 248.6L607.5 249.2L608.0 249.8L608.5 250.5L609.0 251.2L609.5 251.9L610.0 252.7L610.5 253.5L611.0 254.3L611.5 255.2L612.0 256.2L612.5 257.3L613.0 258.4L613.5 259.7L614.0 261.1L614.5 262.5L615.0 264.0L615.5 265.4L616.0 266.9L616.5 268.4L617.0 270.0L617.5 271.6L618.0 273.2L618.5 274.9L619.0 276.5L619.5 278.2L620.0 280.0L620.5 281.8L621.0 283.5L621.5 285.1L622.0 286.6L622.5 287.9L623.0 289.1L623.5 290.0L624.0 290.7L624.5 291.2L625.0 291.4L625.5 291.1L626.0 290.4L626.5 289.7L627.0 288.5L627.5 286.9L628.0 285.4L628.5 283.6L629.0 281.6L629.5 279.5L630.0 277.4L630.5 275.4L631.0 273.3L631.5 271.2L632.0 269.2L632.5 267.2L633.0 265.3L633.5 263.5L634.0 261.8L634.5 260.2L635.0 258.6L635.5 257.1L636.0 255.7L636.5 254.5L637.0 253.2L637.5 252.1L638.0 250.9L638.5 249.8L639.0 248.8L639.5 247.8L640.0 246.9L640.5 246.1L641.0 245.4L641.5 244.7L642.0 244.1L642.5 243.5L643.0 242.9L643.5 242.4L644.0 241.9L644.5 241.4L645.0 240.9L645.5 240.4L646.0 240.0L646.5 239.6L647.0 239.2L647.5 238.9L648.0 238.5L648.5 238.2L649.0 237.9L649.5 237.5L650.0 237.2L650.5 236.9L651.0 236.6L651.5 236.4L652.0 236.1L652.5 235.8L653.0 235.6L653.5 235.4L654.0 235.2L654.5 235.0L655.0 234.8L655.5 234.6L656.0 234.4L656.5 234.3L657.0 234.1L657.5 234.0L658.0 233.8L658.5 233.7L659.0 233.6L659.5 233.4L660.0 233.3L660.5 233.2L661.0 233.1L661.5 233.0L662.0 232.9L662.5 232.8L663.0 232.7L663.5 232.6L664.0 232.5L664.5 232.4L665.0 232.3L665.5 232.3L666.0 232.2L666.5 232.2L667.0 232.1L667.5 232.0L668.0 232.0L668.5 232.0L669.0 231.9L669.5 231.9L670.0 231.8L670.5 231.8L671.0 231.7L671.5 231.7L672.0 231.7L672.5 231.6L673.0 231.6L673.5 231.6L674.0 231.5L674.5 231.5L675.0 231.5L675.5 231.5L676.0 231.4L676.5 231.4L677.0 231.4L677.5 231.3L678.0 231.3L678.5 231.3L679.0 231.2L679.5 231.2L680.0 231.1L680.5 231.1L681.0 231.1L681.5 231.0L682.0 231.0L682.5 231.0L683.0 230.9L683.5 230.9" fill="none" stroke="#0000ff" stroke-width="3.2" stroke-linejoin="round" stroke-linecap="round"/>
<line x1="424.60" y1="286.02" x2="436.30" y2="286.02" stroke="#ff0000" stroke-width="3" stroke-linecap="butt"/>
<line x1="535.10" y1="286.02" x2="542.60" y2="286.02" stroke="#ff0000" stroke-width="3" stroke-linecap="butt"/>
<line x1="625.00" y1="286.02" x2="644.60" y2="286.02" stroke="#ff0000" stroke-width="3" stroke-linecap="butt"/>
<clipPath id="ax2"><rect x="389.50" y="428.90" width="294.40" height="121.50"/></clipPath>
<line x1="409.30" y1="429.60" x2="409.30" y2="549.90" stroke="#e4e4e4" stroke-width="1.2"/>
<line x1="487.64" y1="429.60" x2="487.64" y2="549.90" stroke="#e4e4e4" stroke-width="1.2"/>
<line x1="565.98" y1="429.60" x2="565.98" y2="549.90" stroke="#e4e4e4" stroke-width="1.2"/>
<line x1="644.32" y1="429.60" x2="644.32" y2="549.90" stroke="#e4e4e4" stroke-width="1.2"/>
<line x1="390.00" y1="489.75" x2="683.40" y2="489.75" stroke="#e4e4e4" stroke-width="1.2"/>
<rect x="390.00" y="429.60" width="293.40" height="120.30" fill="none" stroke="#555" stroke-width="1.6" stroke-linejoin="round"/>
<path d="M409.30 549.90v-2.60M409.30 429.60v2.60" stroke="#555" stroke-width="1.1"/>
<text x="408.90" y="575.10" font-size="18.67" text-anchor="middle">2</text>
<path d="M487.64 549.90v-2.60M487.64 429.60v2.60" stroke="#555" stroke-width="1.1"/>
<text x="487.24" y="575.10" font-size="18.67" text-anchor="middle">4</text>
<path d="M565.98 549.90v-2.60M565.98 429.60v2.60" stroke="#555" stroke-width="1.1"/>
<text x="565.58" y="575.10" font-size="18.67" text-anchor="middle">6</text>
<path d="M644.32 549.90v-2.60M644.32 429.60v2.60" stroke="#555" stroke-width="1.1"/>
<text x="643.92" y="575.10" font-size="18.67" text-anchor="middle">8</text>
<path d="M390.00 429.60h2.60M683.40 429.60h-2.60" stroke="#555" stroke-width="1.1"/>
<text x="381.6" y="436.70" font-size="18.67" text-anchor="end">0</text>
<path d="M390.00 489.75h2.60M683.40 489.75h-2.60" stroke="#555" stroke-width="1.1"/>
<text x="381.6" y="496.85" font-size="18.67" text-anchor="end">-10</text>
<path d="M390.00 549.90h2.60M683.40 549.90h-2.60" stroke="#555" stroke-width="1.1"/>
<text x="381.6" y="557.00" font-size="18.67" text-anchor="end">-20</text>
<text x="537.1" y="600.30" font-size="20.5" text-anchor="middle">Frequency [GHz]</text>
<text transform="translate(338.9,528.40) rotate(-90)" font-size="20.5"><tspan x="-2" fill="#c4c4c4">|</tspan><tspan x="2.3" font-style="italic">S</tspan><tspan font-size="15.4" x="13.6 22.7" dy="9">11</tspan><tspan x="30.5" dy="-9" fill="#c4c4c4">|</tspan><tspan x="40.3">[dB]</tspan></text>
<g clip-path="url(#ax2)" fill="none" stroke-linejoin="round" stroke-linecap="round" stroke="#bcbcbc" stroke-width="1.25">
<path d="M390.0 434.5L390.5 434.0L391.0 433.5L391.5 433.1L392.0 432.6L392.5 432.2L393.0 431.8L393.5 431.4L394.0 431.0L394.5 430.6L395.0 430.2L395.5 429.9L396.0 429.5L396.5 429.2L397.0 428.9L397.5 428.6L398.0 428.5L398.5 428.4L399.0 428.3L399.5 428.2L400.0 428.1L400.5 428.1L401.0 428.0L401.5 428.0L402.0 428.0L402.5 428.0L403.0 428.2L403.5 428.4L404.0 428.6L404.5 428.9L405.0 429.2L405.5 429.6L406.0 430.0L406.5 430.5L407.0 431.1L407.5 431.9L408.0 432.8L408.5 433.8L409.0 434.8L409.5 435.9L410.0 437.0L410.5 438.2L411.0 439.6L411.5 441.0L412.0 442.6L412.5 444.2L413.0 445.9L413.5 447.5L414.0 449.0L414.5 450.7L415.0 452.6L415.5 454.6L416.0 456.5L416.5 458.3L417.0 459.7L417.5 460.6L418.0 461.0L418.5 461.0L419.0 461.0L419.5 460.9L420.0 460.9L420.5 460.8L421.0 460.8L421.5 460.7L422.0 460.7L422.5 460.7L423.0 460.8L423.5 461.1L424.0 461.6L424.5 462.1L425.0 462.7L425.5 463.4L426.0 464.0L426.5 464.7L427.0 465.6L427.5 466.6L428.0 467.7L428.5 468.8L429.0 469.9L429.5 471.0L430.0 472.0L430.5 473.0L431.0 473.9L431.5 474.8L432.0 475.8L432.5 476.7L433.0 477.6L433.5 478.5L434.0 479.4L434.5 480.3L435.0 481.3L435.5 482.3L436.0 483.4L436.5 484.2L437.0 484.9L437.5 485.2L438.0 485.2L438.5 485.0L439.0 484.7L439.5 484.4L440.0 484.0L440.5 483.5L441.0 482.6L441.5 481.6L442.0 480.4L442.5 479.1L443.0 477.7L443.5 476.3L444.0 474.8L444.5 473.1L445.0 471.3L445.5 469.3L446.0 467.3L446.5 465.4L447.0 463.6L447.5 462.0L448.0 460.6L448.5 459.2L449.0 457.8L449.5 456.6L450.0 455.3L450.5 454.2L451.0 453.1L451.5 452.0L452.0 451.0L452.5 450.0L453.0 449.0L453.5 448.0L454.0 447.1L454.5 446.2L455.0 445.4L455.5 444.6L456.0 443.9L456.5 443.2L457.0 442.6L457.5 441.9L458.0 441.3L458.5 440.7L459.0 440.1L459.5 439.6L460.0 439.1L460.5 438.6L461.0 438.1L461.5 437.6L462.0 437.3L462.5 436.9L463.0 436.6L463.5 436.3L464.0 436.1L464.5 435.9L465.0 435.8L465.5 435.6L466.0 435.4L466.5 435.3L467.0 435.1L467.5 435.0L468.0 434.9L468.5 434.8L469.0 434.7L469.5 434.6L470.0 434.5L470.5 434.4L471.0 434.3L471.5 434.2L472.0 434.1L472.5 434.1L473.0 434.0L473.5 433.9L474.0 433.9L474.5 433.8L475.0 433.7L475.5 433.7L476.0 433.6L476.5 433.6L477.0 433.5L477.5 433.5L478.0 433.4L478.5 433.4L479.0 433.3L479.5 433.3L480.0 433.2L480.5 433.2L481.0 433.1L481.5 433.0L482.0 433.0L482.5 432.9L483.0 432.8L483.5 432.7L484.0 432.6L484.5 432.5L485.0 432.4L485.5 432.3L486.0 432.2L486.5 432.1L487.0 432.0L487.5 431.9L488.0 431.8L488.5 431.7L489.0 431.6L489.5 431.6L490.0 431.5L490.5 431.5L491.0 431.4L491.5 431.4L492.0 431.4L492.5 431.4L493.0 431.5L493.5 431.5L494.0 431.6L494.5 431.7L495.0 431.8L495.5 431.9L496.0 432.0L496.5 432.2L497.0 432.3L497.5 432.4L498.0 432.6L498.5 432.7L499.0 432.8L499.5 433.0L500.0 433.1L500.5 433.2L501.0 433.3L501.5 433.4L502.0 433.5L502.5 433.6L503.0 433.7L503.5 433.8L504.0 433.8L504.5 433.9L505.0 433.9L505.5 434.0L506.0 434.1L506.5 434.1L507.0 434.2L507.5 434.3L508.0 434.4L508.5 434.5L509.0 434.6L509.5 434.7L510.0 434.9L510.5 435.0L511.0 435.2L511.5 435.4L512.0 435.7L512.5 436.0L513.0 436.3L513.5 436.7L514.0 437.1L514.5 437.5L515.0 438.2L515.5 439.3L516.0 440.7L516.5 442.3L517.0 444.2L517.5 446.1L518.0 448.0L518.5 450.1L519.0 452.4L519.5 455.0L520.0 457.7L520.5 460.6L521.0 463.6L521.5 466.6L522.0 469.6L522.5 472.8L523.0 476.1L523.5 479.5L524.0 482.9L524.5 486.4L525.0 489.9L525.5 493.4L526.0 497.1L526.5 500.8L527.0 504.9L527.5 508.8L528.0 512.5L528.5 516.0L529.0 515.9L529.5 513.0L530.0 509.7L530.5 505.8L531.0 501.4L531.5 497.1L532.0 493.5L532.5 490.1L533.0 486.9L533.5 483.8L534.0 480.8L534.5 477.8L535.0 474.9L535.5 472.2L536.0 469.7L536.5 467.6L537.0 465.6L537.5 463.6L538.0 461.8L538.5 460.1L539.0 458.5L539.5 457.0L540.0 455.7L540.5 454.5L541.0 453.5L541.5 452.5L542.0 451.5L542.5 450.5L543.0 449.6L543.5 448.7L544.0 448.0L544.5 447.4L545.0 446.9L545.5 446.7L546.0 446.6L546.5 446.6L547.0 446.7L547.5 446.8L548.0 446.9L548.5 447.1L549.0 447.2L549.5 447.4L550.0 447.6L550.5 447.8L551.0 448.0L551.5 448.2L552.0 448.4L552.5 448.7L553.0 449.0L553.5 449.3L554.0 449.7L554.5 450.0L555.0 450.4L555.5 450.8L556.0 451.3L556.5 451.7L557.0 452.2L557.5 452.7L558.0 453.4L558.5 454.1L559.0 454.8L559.5 455.6L560.0 456.4L560.5 457.3L561.0 458.1L561.5 459.0L562.0 459.9L562.5 460.9L563.0 462.0L563.5 463.1L564.0 464.3L564.5 465.4L565.0 466.5L565.5 467.6L566.0 468.6L566.5 469.6L567.0 470.7L567.5 471.7L568.0 472.7L568.5 473.6L569.0 474.4L569.5 475.0L570.0 475.5L570.5 476.1L571.0 476.5L571.5 476.9L572.0 477.1L572.5 477.0L573.0 476.7L573.5 476.2L574.0 475.5L574.5 474.7L575.0 474.0L575.5 473.2L576.0 472.2L576.5 471.2L577.0 470.0L577.5 468.9L578.0 467.8L578.5 466.8L579.0 465.9L579.5 465.0L580.0 464.1L580.5 463.2L581.0 462.4L581.5 461.6L582.0 460.9L582.5 460.1L583.0 459.5L583.5 458.9L584.0 458.3L584.5 457.8L585.0 457.2L585.5 456.7L586.0 456.2L586.5 455.8L587.0 455.3L587.5 455.0L588.0 454.6L588.5 454.2L589.0 453.9L589.5 453.6L590.0 453.2L590.5 452.9L591.0 452.7L591.5 452.4L592.0 452.1L592.5 451.9L593.0 451.7L593.5 451.5L594.0 451.3L594.5 451.1L595.0 450.9L595.5 450.7L596.0 450.6L596.5 450.4L597.0 450.3L597.5 450.1L598.0 450.0L598.5 449.9L599.0 449.8L599.5 449.8L600.0 449.7L600.5 449.6L601.0 449.5L601.5 449.5L602.0 449.4L602.5 449.3L603.0 449.3L603.5 449.3L604.0 449.2L604.5 449.2L605.0 449.2L605.5 449.2L606.0 449.3L606.5 449.4L607.0 449.5L607.5 449.6L608.0 449.7L608.5 449.9L609.0 450.1L609.5 450.3L610.0 450.5L610.5 450.7L611.0 451.1L611.5 451.4L612.0 451.9L612.5 452.4L613.0 452.9L613.5 453.5L614.0 454.1L614.5 454.7L615.0 455.3L615.5 456.0L616.0 456.7L616.5 457.5L617.0 458.3L617.5 459.2L618.0 460.2L618.5 461.2L619.0 462.3L619.5 463.4L620.0 464.5L620.5 465.8L621.0 467.0L621.5 468.3L622.0 469.8L622.5 471.4L623.0 473.1L623.5 474.9L624.0 476.7L624.5 478.5L625.0 480.3L625.5 482.1L626.0 484.0L626.5 486.0L627.0 488.0L627.5 490.2L628.0 492.4L628.5 494.8L629.0 497.4L629.5 500.1L630.0 502.9L630.5 505.9L631.0 509.0L631.5 512.4L632.0 516.0L632.5 519.8L633.0 524.2L633.5 529.2L634.0 534.5L634.5 539.3L635.0 543.5L635.5 548.7L636.0 554.9L636.5 554.9L637.0 554.9L637.5 554.9L638.0 554.9L638.5 549.8L639.0 542.4L639.5 536.5L640.0 530.9L640.5 525.6L641.0 520.7L641.5 515.9L642.0 511.3L642.5 506.7L643.0 502.3L643.5 498.0L644.0 493.8L644.5 489.7L645.0 485.7L645.5 481.9L646.0 478.5L646.5 475.3L647.0 472.1L647.5 469.2L648.0 466.4L648.5 463.9L649.0 461.7L649.5 460.0L650.0 458.3L650.5 456.8L651.0 455.4L651.5 454.1L652.0 452.9L652.5 451.9L653.0 450.9L653.5 450.0L654.0 449.2L654.5 448.4L655.0 447.7L655.5 447.0L656.0 446.3L656.5 445.7L657.0 445.1L657.5 444.5L658.0 444.0L658.5 443.5L659.0 443.1L659.5 442.7L660.0 442.3L660.5 442.0L661.0 441.6L661.5 441.3L662.0 441.0L662.5 440.8L663.0 440.5L663.5 440.2L664.0 440.0L664.5 439.8L665.0 439.5L665.5 439.3L666.0 439.1L666.5 438.9L667.0 438.7L667.5 438.5L668.0 438.3L668.5 438.2L669.0 438.0L669.5 437.8L670.0 437.6L670.5 437.5L671.0 437.3L671.5 437.1L672.0 436.9L672.5 436.8L673.0 436.6L673.5 436.4L674.0 436.3L674.5 436.1L675.0 436.0L675.5 435.8L676.0 435.7L676.5 435.5L677.0 435.4L677.5 435.3L678.0 435.1L678.5 435.0L679.0 434.9L679.5 434.8L680.0 434.6L680.5 434.5L681.0 434.4L681.5 434.3L682.0 434.2L682.5 434.1L683.0 434.1"/>
<path d="M390.0 435.6L390.5 435.1L391.0 434.6L391.5 434.0L392.0 433.5L392.5 433.0L393.0 432.6L393.5 432.1L394.0 431.6L394.5 431.2L395.0 430.7L395.5 430.3L396.0 429.8L396.5 429.4L397.0 429.0L397.5 428.5L398.0 427.9L398.5 427.4L399.0 426.8L399.5 426.3L400.0 425.8L400.5 425.3L401.0 425.0L401.5 424.7L402.0 424.5L402.5 424.5L403.0 424.6L403.5 424.7L404.0 425.0L404.5 425.3L405.0 425.7L405.5 426.2L406.0 426.7L406.5 427.2L407.0 427.8L407.5 428.4L408.0 429.0L408.5 429.6L409.0 430.4L409.5 431.4L410.0 432.4L410.5 433.6L411.0 434.8L411.5 436.1L412.0 437.4L412.5 438.8L413.0 440.1L413.5 441.5L414.0 443.0L414.5 444.5L415.0 446.1L415.5 447.7L416.0 449.3L416.5 451.0L417.0 452.5L417.5 454.1L418.0 455.8L418.5 457.5L419.0 459.1L419.5 460.8L420.0 462.4L420.5 463.9L421.0 465.4L421.5 466.9L422.0 468.3L422.5 469.6L423.0 471.0L423.5 472.3L424.0 473.6L424.5 474.8L425.0 476.0L425.5 477.1L426.0 478.2L426.5 479.3L427.0 480.3L427.5 481.3L428.0 482.3L428.5 483.2L429.0 484.2L429.5 485.1L430.0 486.0L430.5 486.8L431.0 487.6L431.5 488.5L432.0 489.3L432.5 490.2L433.0 491.1L433.5 492.0L434.0 493.0L434.5 494.1L435.0 495.2L435.5 496.3L436.0 497.4L436.5 498.5L437.0 499.4L437.5 499.5L438.0 499.3L438.5 498.9L439.0 498.3L439.5 497.2L440.0 495.6L440.5 493.9L441.0 492.0L441.5 489.8L442.0 487.3L442.5 484.8L443.0 482.2L443.5 479.8L444.0 477.6L444.5 475.3L445.0 473.0L445.5 470.8L446.0 468.6L446.5 466.5L447.0 464.6L447.5 462.8L448.0 461.2L448.5 459.7L449.0 458.3L449.5 456.9L450.0 455.6L450.5 454.4L451.0 453.2L451.5 452.1L452.0 451.1L452.5 450.0L453.0 449.1L453.5 448.1L454.0 447.2L454.5 446.3L455.0 445.5L455.5 444.7L456.0 443.9L456.5 443.2L457.0 442.5L457.5 441.9L458.0 441.3L458.5 440.8L459.0 440.3L459.5 439.8L460.0 439.3L460.5 438.8L461.0 438.3L461.5 437.8L462.0 437.4L462.5 437.0L463.0 436.6L463.5 436.3L464.0 436.1L464.5 435.9L465.0 435.7L465.5 435.6L466.0 435.4L466.5 435.3L467.0 435.1L467.5 435.0L468.0 434.9L468.5 434.8L469.0 434.7L469.5 434.6L470.0 434.5L470.5 434.4L471.0 434.3L471.5 434.2L472.0 434.1L472.5 434.1L473.0 434.0L473.5 433.9L474.0 433.9L474.5 433.8L475.0 433.8L475.5 433.7L476.0 433.7L476.5 433.6L477.0 433.6L477.5 433.5L478.0 433.5L478.5 433.4L479.0 433.4L479.5 433.3L480.0 433.3L480.5 433.2L481.0 433.1L481.5 433.0L482.0 433.0L482.5 432.9L483.0 432.8L483.5 432.6L484.0 432.5L484.5 432.4L485.0 432.3L485.5 432.2L486.0 432.0L486.5 431.9L487.0 431.9L487.5 431.8L488.0 431.7L488.5 431.6L489.0 431.5L489.5 431.5L490.0 431.4L490.5 431.4L491.0 431.3L491.5 431.3L492.0 431.3L492.5 431.3L493.0 431.4L493.5 431.4L494.0 431.5L494.5 431.6L495.0 431.7L495.5 431.7L496.0 431.8L496.5 431.9L497.0 432.0L497.5 432.2L498.0 432.3L498.5 432.5L499.0 432.6L499.5 432.8L500.0 433.0L500.5 433.2L501.0 433.3L501.5 433.4L502.0 433.5L502.5 433.6L503.0 433.7L503.5 433.8L504.0 433.9L504.5 433.9L505.0 434.0L505.5 434.1L506.0 434.1L506.5 434.2L507.0 434.2L507.5 434.3L508.0 434.4L508.5 434.4L509.0 434.5L509.5 434.6L510.0 434.6L510.5 434.7L511.0 434.8L511.5 434.9L512.0 435.0L512.5 435.1L513.0 435.2L513.5 435.3L514.0 435.4L514.5 435.5L515.0 435.6L515.5 435.7L516.0 435.9L516.5 436.0L517.0 436.2L517.5 436.4L518.0 436.6L518.5 436.8L519.0 437.1L519.5 437.5L520.0 438.0L520.5 438.5L521.0 439.1L521.5 439.8L522.0 440.5L522.5 441.2L523.0 442.0L523.5 442.8L524.0 443.7L524.5 444.8L525.0 446.0L525.5 447.4L526.0 448.9L526.5 450.4L527.0 452.1L527.5 453.7L528.0 455.4L528.5 457.1L529.0 458.9L529.5 460.7L530.0 462.7L530.5 464.8L531.0 467.0L531.5 469.3L532.0 471.7L532.5 474.3L533.0 477.1L533.5 480.1L534.0 483.3L534.5 486.7L535.0 490.5L535.5 494.7L536.0 499.4L536.5 504.5L537.0 510.7L537.5 517.3L538.0 523.1L538.5 528.4L539.0 532.2L539.5 531.1L540.0 527.8L540.5 522.9L541.0 516.3L541.5 510.1L542.0 504.0L542.5 498.7L543.0 494.7L543.5 491.4L544.0 488.5L544.5 485.9L545.0 483.4L545.5 481.2L546.0 479.0L546.5 476.9L547.0 474.8L547.5 472.7L548.0 470.6L548.5 468.5L549.0 466.6L549.5 464.7L550.0 463.1L550.5 461.7L551.0 460.4L551.5 459.2L552.0 458.1L552.5 457.0L553.0 456.0L553.5 455.1L554.0 454.2L554.5 453.6L555.0 453.0L555.5 452.5L556.0 452.1L556.5 451.6L557.0 451.2L557.5 450.9L558.0 450.5L558.5 450.2L559.0 449.9L559.5 449.7L560.0 449.4L560.5 449.1L561.0 448.9L561.5 448.7L562.0 448.5L562.5 448.3L563.0 448.1L563.5 447.9L564.0 447.7L564.5 447.5L565.0 447.4L565.5 447.2L566.0 447.0L566.5 446.9L567.0 446.8L567.5 446.6L568.0 446.5L568.5 446.3L569.0 446.2L569.5 446.1L570.0 446.0L570.5 445.9L571.0 445.8L571.5 445.7L572.0 445.5L572.5 445.4L573.0 445.3L573.5 445.2L574.0 445.1L574.5 445.0L575.0 444.9L575.5 444.8L576.0 444.7L576.5 444.6L577.0 444.5L577.5 444.4L578.0 444.3L578.5 444.2L579.0 444.1L579.5 444.1L580.0 444.0L580.5 444.0L581.0 443.9L581.5 443.9L582.0 443.9L582.5 443.9L583.0 443.9L583.5 443.9L584.0 443.9L584.5 443.9L585.0 443.9L585.5 443.9L586.0 444.0L586.5 444.0L587.0 444.0L587.5 444.0L588.0 444.0L588.5 444.1L589.0 444.1L589.5 444.1L590.0 444.1L590.5 444.1L591.0 444.2L591.5 444.2L592.0 444.2L592.5 444.3L593.0 444.3L593.5 444.3L594.0 444.3L594.5 444.4L595.0 444.4L595.5 444.4L596.0 444.5L596.5 444.5L597.0 444.5L597.5 444.6L598.0 444.6L598.5 444.7L599.0 444.8L599.5 444.8L600.0 444.9L600.5 445.0L601.0 445.1L601.5 445.3L602.0 445.5L602.5 445.7L603.0 446.0L603.5 446.2L604.0 446.4L604.5 446.6L605.0 446.8L605.5 447.1L606.0 447.3L606.5 447.6L607.0 447.8L607.5 448.1L608.0 448.4L608.5 448.7L609.0 449.1L609.5 449.5L610.0 450.0L610.5 450.4L611.0 450.9L611.5 451.4L612.0 451.9L612.5 452.4L613.0 452.9L613.5 453.4L614.0 454.0L614.5 454.6L615.0 455.2L615.5 455.9L616.0 456.7L616.5 457.5L617.0 458.3L617.5 459.2L618.0 460.1L618.5 461.2L619.0 462.2L619.5 463.3L620.0 464.5L620.5 465.8L621.0 467.3L621.5 469.0L622.0 470.7L622.5 472.6L623.0 474.5L623.5 476.4L624.0 478.2L624.5 480.0L625.0 481.9L625.5 483.8L626.0 485.8L626.5 487.9L627.0 490.1L627.5 492.5L628.0 495.0L628.5 497.7L629.0 500.5L629.5 503.5L630.0 506.6L630.5 510.0L631.0 513.5L631.5 517.4L632.0 521.7L632.5 526.6L633.0 531.9L633.5 536.9L634.0 541.2L634.5 546.2L635.0 554.7L635.5 554.9L636.0 554.9L636.5 554.9L637.0 554.9L637.5 552.3L638.0 543.9L638.5 537.6L639.0 532.1L639.5 526.6L640.0 521.6L640.5 516.8L641.0 512.1L641.5 507.6L642.0 503.3L642.5 499.1L643.0 494.9L643.5 490.6L644.0 486.3L644.5 482.3L645.0 478.6L645.5 475.4L646.0 472.3L646.5 469.3L647.0 466.6L647.5 464.2L648.0 462.0L648.5 460.3L649.0 458.7L649.5 457.2L650.0 455.8L650.5 454.5L651.0 453.3L651.5 452.3L652.0 451.3L652.5 450.4L653.0 449.6L653.5 448.7L654.0 448.0L654.5 447.2L655.0 446.5L655.5 445.9L656.0 445.2L656.5 444.6L657.0 444.1L657.5 443.5L658.0 443.1L658.5 442.6L659.0 442.2L659.5 441.8L660.0 441.5L660.5 441.1L661.0 440.8L661.5 440.5L662.0 440.2L662.5 439.9L663.0 439.6L663.5 439.4L664.0 439.1L664.5 438.9L665.0 438.7L665.5 438.4L666.0 438.2L666.5 438.0L667.0 437.8L667.5 437.6L668.0 437.4L668.5 437.2L669.0 437.1L669.5 436.9L670.0 436.7L670.5 436.5L671.0 436.4L671.5 436.2L672.0 436.0L672.5 435.9L673.0 435.7L673.5 435.5L674.0 435.4L674.5 435.2L675.0 435.1L675.5 434.9L676.0 434.8L676.5 434.7L677.0 434.5L677.5 434.4L678.0 434.3L678.5 434.2L679.0 434.0L679.5 433.9L680.0 433.8L680.5 433.7L681.0 433.6L681.5 433.6L682.0 433.5L682.5 433.4L683.0 433.3"/>
<path d="M390.0 435.6L390.5 435.1L391.0 434.5L391.5 434.0L392.0 433.5L392.5 433.0L393.0 432.5L393.5 432.0L394.0 431.5L394.5 431.0L395.0 430.5L395.5 430.0L396.0 429.5L396.5 429.0L397.0 428.4L397.5 427.8L398.0 427.2L398.5 426.6L399.0 426.0L399.5 425.5L400.0 425.0L400.5 424.7L401.0 424.5L401.5 424.5L402.0 424.6L402.5 424.7L403.0 425.0L403.5 425.3L404.0 425.6L404.5 426.0L405.0 426.4L405.5 426.9L406.0 427.4L406.5 428.0L407.0 428.5L407.5 429.1L408.0 429.6L408.5 430.4L409.0 431.2L409.5 432.2L410.0 433.2L410.5 434.4L411.0 435.5L411.5 436.7L412.0 438.0L412.5 439.2L413.0 440.4L413.5 441.8L414.0 443.2L414.5 444.7L415.0 446.2L415.5 447.7L416.0 449.3L416.5 450.8L417.0 452.3L417.5 453.8L418.0 455.3L418.5 456.9L419.0 458.4L419.5 460.0L420.0 461.5L420.5 463.0L421.0 464.5L421.5 465.8L422.0 467.2L422.5 468.5L423.0 469.8L423.5 471.1L424.0 472.3L424.5 473.5L425.0 474.7L425.5 475.9L426.0 477.0L426.5 478.1L427.0 479.3L427.5 480.3L428.0 481.4L428.5 482.3L429.0 483.2L429.5 484.0L430.0 484.8L430.5 485.6L431.0 486.4L431.5 487.1L432.0 487.8L432.5 488.4L433.0 488.8L433.5 489.1L434.0 489.3L434.5 489.2L435.0 488.8L435.5 488.5L436.0 488.1L436.5 487.8L437.0 487.5L437.5 487.2L438.0 486.9L438.5 486.6L439.0 486.4L439.5 486.3L440.0 486.2L440.5 486.1L441.0 485.6L441.5 484.7L442.0 483.4L442.5 481.8L443.0 480.2L443.5 478.5L444.0 476.9L444.5 475.0L445.0 473.0L445.5 470.9L446.0 468.7L446.5 466.6L447.0 464.6L447.5 462.9L448.0 461.3L448.5 459.8L449.0 458.4L449.5 457.0L450.0 455.7L450.5 454.4L451.0 453.3L451.5 452.2L452.0 451.1L452.5 450.1L453.0 449.1L453.5 448.1L454.0 447.2L454.5 446.3L455.0 445.5L455.5 444.7L456.0 443.9L456.5 443.2L457.0 442.6L457.5 441.9L458.0 441.4L458.5 440.8L459.0 440.3L459.5 439.8L460.0 439.3L460.5 438.8L461.0 438.3L461.5 437.9L462.0 437.4L462.5 437.0L463.0 436.6L463.5 436.4L464.0 436.1L464.5 435.9L465.0 435.8L465.5 435.6L466.0 435.4L466.5 435.3L467.0 435.1L467.5 435.0L468.0 434.9L468.5 434.8L469.0 434.7L469.5 434.6L470.0 434.5L470.5 434.4L471.0 434.3L471.5 434.2L472.0 434.1L472.5 434.1L473.0 434.0L473.5 433.9L474.0 433.9L474.5 433.8L475.0 433.8L475.5 433.7L476.0 433.7L476.5 433.6L477.0 433.6L477.5 433.5L478.0 433.5L478.5 433.4L479.0 433.4L479.5 433.3L480.0 433.3L480.5 433.2L481.0 433.1L481.5 433.0L482.0 433.0L482.5 432.9L483.0 432.8L483.5 432.6L484.0 432.5L484.5 432.4L485.0 432.3L485.5 432.2L486.0 432.0L486.5 432.0L487.0 431.9L487.5 431.8L488.0 431.7L488.5 431.6L489.0 431.5L489.5 431.5L490.0 431.4L490.5 431.4L491.0 431.3L491.5 431.3L492.0 431.3L492.5 431.3L493.0 431.4L493.5 431.4L494.0 431.5L494.5 431.6L495.0 431.6L495.5 431.7L496.0 431.8L496.5 431.9L497.0 432.0L497.5 432.2L498.0 432.3L498.5 432.5L499.0 432.6L499.5 432.8L500.0 433.0L500.5 433.1L501.0 433.3L501.5 433.4L502.0 433.5L502.5 433.6L503.0 433.7L503.5 433.8L504.0 433.9L504.5 433.9L505.0 434.0L505.5 434.1L506.0 434.1L506.5 434.2L507.0 434.2L507.5 434.3L508.0 434.4L508.5 434.4L509.0 434.5L509.5 434.6L510.0 434.6L510.5 434.7L511.0 434.8L511.5 434.9L512.0 435.0L512.5 435.1L513.0 435.2L513.5 435.3L514.0 435.4L514.5 435.5L515.0 435.6L515.5 435.7L516.0 435.9L516.5 436.0L517.0 436.2L517.5 436.4L518.0 436.6L518.5 436.8L519.0 437.1L519.5 437.5L520.0 438.0L520.5 438.5L521.0 439.1L521.5 439.8L522.0 440.5L522.5 441.2L523.0 442.0L523.5 442.8L524.0 443.7L524.5 444.8L525.0 446.0L525.5 447.3L526.0 448.8L526.5 450.4L527.0 452.0L527.5 453.6L528.0 455.3L528.5 457.0L529.0 458.8L529.5 460.7L530.0 462.6L530.5 464.7L531.0 466.9L531.5 469.2L532.0 471.6L532.5 474.2L533.0 477.0L533.5 480.0L534.0 483.1L534.5 486.5L535.0 490.1L535.5 494.2L536.0 498.4L536.5 502.7L537.0 507.4L537.5 512.2L538.0 516.5L538.5 520.6L539.0 523.7L539.5 523.2L540.0 521.1L540.5 517.9L541.0 513.1L541.5 508.4L542.0 503.2L542.5 498.5L543.0 494.8L543.5 491.6L544.0 488.8L544.5 486.2L545.0 483.8L545.5 481.5L546.0 479.4L546.5 477.3L547.0 475.3L547.5 473.2L548.0 471.2L548.5 469.2L549.0 467.2L549.5 465.5L550.0 463.9L550.5 462.6L551.0 461.4L551.5 460.3L552.0 459.2L552.5 458.2L553.0 457.3L553.5 456.5L554.0 455.7L554.5 455.1L555.0 454.6L555.5 454.1L556.0 453.7L556.5 453.4L557.0 453.0L557.5 452.7L558.0 452.4L558.5 452.1L559.0 451.9L559.5 451.6L560.0 451.4L560.5 451.1L561.0 450.9L561.5 450.7L562.0 450.4L562.5 450.2L563.0 449.9L563.5 449.6L564.0 449.4L564.5 449.1L565.0 448.9L565.5 448.6L566.0 448.4L566.5 448.2L567.0 447.9L567.5 447.7L568.0 447.5L568.5 447.3L569.0 447.1L569.5 446.9L570.0 446.7L570.5 446.5L571.0 446.4L571.5 446.2L572.0 446.1L572.5 445.9L573.0 445.8L573.5 445.6L574.0 445.5L574.5 445.3L575.0 445.2L575.5 445.0L576.0 444.9L576.5 444.8L577.0 444.6L577.5 444.5L578.0 444.4L578.5 444.3L579.0 444.2L579.5 444.1L580.0 444.1L580.5 444.0L581.0 444.0L581.5 443.9L582.0 443.9L582.5 443.9L583.0 443.9L583.5 443.9L584.0 443.9L584.5 443.9L585.0 443.9L585.5 444.0L586.0 444.0L586.5 444.0L587.0 444.0L587.5 444.0L588.0 444.0L588.5 444.1L589.0 444.1L589.5 444.1L590.0 444.1L590.5 444.2L591.0 444.2L591.5 444.2L592.0 444.2L592.5 444.3L593.0 444.3L593.5 444.3L594.0 444.3L594.5 444.4L595.0 444.4L595.5 444.4L596.0 444.5L596.5 444.5L597.0 444.5L597.5 444.6L598.0 444.6L598.5 444.7L599.0 444.8L599.5 444.8L600.0 444.9L600.5 445.0L601.0 445.1L601.5 445.3L602.0 445.5L602.5 445.7L603.0 445.9L603.5 446.2L604.0 446.4L604.5 446.6L605.0 446.8L605.5 447.1L606.0 447.3L606.5 447.6L607.0 447.8L607.5 448.1L608.0 448.4L608.5 448.7L609.0 449.1L609.5 449.5L610.0 449.9L610.5 450.4L611.0 450.9L611.5 451.4L612.0 451.9L612.5 452.3L613.0 452.8L613.5 453.4L614.0 453.9L614.5 454.5L615.0 455.2L615.5 455.9L616.0 456.6L616.5 457.4L617.0 458.3L617.5 459.1L618.0 460.1L618.5 461.1L619.0 462.2L619.5 463.3L620.0 464.5L620.5 465.7L621.0 467.2L621.5 468.9L622.0 470.6L622.5 472.5L623.0 474.4L623.5 476.3L624.0 478.1L624.5 479.9L625.0 481.8L625.5 483.7L626.0 485.7L626.5 487.8L627.0 490.0L627.5 492.3L628.0 494.9L628.5 497.5L629.0 500.3L629.5 503.3L630.0 506.4L630.5 509.7L631.0 513.2L631.5 517.1L632.0 521.3L632.5 526.2L633.0 531.4L633.5 536.4L634.0 540.7L634.5 545.6L635.0 553.7L635.5 554.9L636.0 554.9L636.5 554.9L637.0 554.9L637.5 552.4L638.0 543.7L638.5 537.3L639.0 531.7L639.5 526.2L640.0 521.1L640.5 516.2L641.0 511.5L641.5 507.0L642.0 502.6L642.5 498.3L643.0 494.1L643.5 489.7L644.0 485.4L644.5 481.2L645.0 477.5L645.5 474.2L646.0 471.1L646.5 468.1L647.0 465.3L647.5 462.8L648.0 460.7L648.5 458.9L649.0 457.3L649.5 455.7L650.0 454.4L650.5 453.1L651.0 451.9L651.5 450.8L652.0 449.9L652.5 449.0L653.0 448.2L653.5 447.4L654.0 446.7L654.5 446.0L655.0 445.3L655.5 444.7L656.0 444.1L656.5 443.6L657.0 443.1L657.5 442.6L658.0 442.1L658.5 441.7L659.0 441.4L659.5 441.1L660.0 440.7L660.5 440.4L661.0 440.2L661.5 439.9L662.0 439.6L662.5 439.4L663.0 439.2L663.5 438.9L664.0 438.7L664.5 438.5L665.0 438.3L665.5 438.1L666.0 438.0L666.5 437.8L667.0 437.6L667.5 437.4L668.0 437.3L668.5 437.1L669.0 436.9L669.5 436.8L670.0 436.6L670.5 436.5L671.0 436.3L671.5 436.1L672.0 436.0L672.5 435.8L673.0 435.7L673.5 435.5L674.0 435.4L674.5 435.2L675.0 435.1L675.5 435.0L676.0 434.8L676.5 434.7L677.0 434.6L677.5 434.5L678.0 434.3L678.5 434.2L679.0 434.1L679.5 434.0L680.0 433.9L680.5 433.8L681.0 433.7L681.5 433.6L682.0 433.5L682.5 433.4L683.0 433.4"/>
<path d="M390.0 435.6L390.5 435.1L391.0 434.5L391.5 434.0L392.0 433.5L392.5 433.0L393.0 432.6L393.5 432.1L394.0 431.6L394.5 431.1L395.0 430.7L395.5 430.3L396.0 429.8L396.5 429.4L397.0 428.9L397.5 428.4L398.0 427.9L398.5 427.3L399.0 426.7L399.5 426.2L400.0 425.7L400.5 425.2L401.0 424.9L401.5 424.6L402.0 424.5L402.5 424.5L403.0 424.6L403.5 424.8L404.0 425.1L404.5 425.5L405.0 426.0L405.5 426.5L406.0 427.0L406.5 427.6L407.0 428.2L407.5 428.8L408.0 429.4L408.5 430.2L409.0 431.2L409.5 432.2L410.0 433.4L410.5 434.7L411.0 436.0L411.5 437.3L412.0 438.6L412.5 439.9L413.0 441.3L413.5 442.7L414.0 444.2L414.5 445.7L415.0 447.2L415.5 448.7L416.0 450.2L416.5 451.7L417.0 453.1L417.5 454.6L418.0 456.0L418.5 457.5L419.0 459.0L419.5 460.4L420.0 461.8L420.5 463.2L421.0 464.5L421.5 465.8L422.0 467.0L422.5 468.2L423.0 469.4L423.5 470.5L424.0 471.6L424.5 472.7L425.0 473.8L425.5 474.9L426.0 475.9L426.5 477.0L427.0 478.0L427.5 479.0L428.0 479.9L428.5 480.9L429.0 481.8L429.5 482.8L430.0 483.7L430.5 484.7L431.0 485.6L431.5 486.6L432.0 487.5L432.5 488.4L433.0 489.3L433.5 490.3L434.0 491.2L434.5 492.2L435.0 493.2L435.5 494.2L436.0 495.2L436.5 496.1L437.0 497.1L437.5 497.7L438.0 497.6L438.5 497.3L439.0 496.9L439.5 496.1L440.0 494.9L440.5 493.5L441.0 491.8L441.5 489.8L442.0 487.4L442.5 484.9L443.0 482.4L443.5 479.9L444.0 477.7L444.5 475.4L445.0 473.1L445.5 470.8L446.0 468.6L446.5 466.5L447.0 464.6L447.5 462.8L448.0 461.2L448.5 459.7L449.0 458.2L449.5 456.9L450.0 455.6L450.5 454.4L451.0 453.2L451.5 452.1L452.0 451.1L452.5 450.0L453.0 449.0L453.5 448.1L454.0 447.2L454.5 446.3L455.0 445.5L455.5 444.7L456.0 443.9L456.5 443.2L457.0 442.5L457.5 441.9L458.0 441.3L458.5 440.8L459.0 440.3L459.5 439.8L460.0 439.3L460.5 438.8L461.0 438.3L461.5 437.8L462.0 437.4L462.5 437.0L463.0 436.6L463.5 436.3L464.0 436.1L464.5 435.9L465.0 435.7L465.5 435.6L466.0 435.4L466.5 435.3L467.0 435.1L467.5 435.0L468.0 434.9L468.5 434.8L469.0 434.7L469.5 434.6L470.0 434.5L470.5 434.4L471.0 434.3L471.5 434.2L472.0 434.1L472.5 434.1L473.0 434.0L473.5 433.9L474.0 433.9L474.5 433.8L475.0 433.8L475.5 433.7L476.0 433.7L476.5 433.6L477.0 433.6L477.5 433.5L478.0 433.5L478.5 433.4L479.0 433.4L479.5 433.3L480.0 433.3L480.5 433.2L481.0 433.1L481.5 433.0L482.0 433.0L482.5 432.9L483.0 432.8L483.5 432.6L484.0 432.5L484.5 432.4L485.0 432.3L485.5 432.2L486.0 432.0L486.5 431.9L487.0 431.9L487.5 431.8L488.0 431.7L488.5 431.6L489.0 431.5L489.5 431.5L490.0 431.4L490.5 431.4L491.0 431.3L491.5 431.3L492.0 431.3L492.5 431.3L493.0 431.4L493.5 431.4L494.0 431.5L494.5 431.6L495.0 431.7L495.5 431.7L496.0 431.8L496.5 431.9L497.0 432.0L497.5 432.2L498.0 432.3L498.5 432.5L499.0 432.6L499.5 432.8L500.0 433.0L500.5 433.2L501.0 433.3L501.5 433.4L502.0 433.5L502.5 433.6L503.0 433.7L503.5 433.8L504.0 433.9L504.5 433.9L505.0 434.0L505.5 434.1L506.0 434.1L506.5 434.2L507.0 434.2L507.5 434.3L508.0 434.4L508.5 434.4L509.0 434.5L509.5 434.6L510.0 434.6L510.5 434.7L511.0 434.8L511.5 434.9L512.0 435.0L512.5 435.1L513.0 435.2L513.5 435.3L514.0 435.4L514.5 435.5L515.0 435.6L515.5 435.7L516.0 435.9L516.5 436.0L517.0 436.2L517.5 436.4L518.0 436.6L518.5 436.8L519.0 437.1L519.5 437.5L520.0 438.0L520.5 438.5L521.0 439.1L521.5 439.8L522.0 440.5L522.5 441.2L523.0 442.0L523.5 442.8L524.0 443.7L524.5 444.8L525.0 446.0L525.5 447.4L526.0 448.9L526.5 450.4L527.0 452.0L527.5 453.7L528.0 455.4L528.5 457.1L529.0 458.8L529.5 460.7L530.0 462.7L530.5 464.8L531.0 466.9L531.5 469.2L532.0 471.7L532.5 474.3L533.0 477.1L533.5 480.1L534.0 483.3L534.5 486.6L535.0 490.3L535.5 494.3L536.0 498.5L536.5 502.9L537.0 507.6L537.5 512.3L538.0 516.6L538.5 520.7L539.0 523.7L539.5 523.1L540.0 521.0L540.5 517.7L541.0 512.9L541.5 508.1L542.0 503.0L542.5 498.3L543.0 494.6L543.5 491.4L544.0 488.5L544.5 485.9L545.0 483.5L545.5 481.2L546.0 479.1L546.5 476.9L547.0 474.9L547.5 472.7L548.0 470.6L548.5 468.6L549.0 466.6L549.5 464.8L550.0 463.1L550.5 461.7L551.0 460.5L551.5 459.2L552.0 458.1L552.5 457.0L553.0 456.0L553.5 455.1L554.0 454.3L554.5 453.6L555.0 453.0L555.5 452.5L556.0 452.1L556.5 451.6L557.0 451.3L557.5 450.9L558.0 450.5L558.5 450.2L559.0 449.9L559.5 449.7L560.0 449.4L560.5 449.1L561.0 448.9L561.5 448.7L562.0 448.5L562.5 448.3L563.0 448.1L563.5 447.9L564.0 447.7L564.5 447.5L565.0 447.4L565.5 447.2L566.0 447.0L566.5 446.9L567.0 446.8L567.5 446.6L568.0 446.5L568.5 446.4L569.0 446.2L569.5 446.1L570.0 446.0L570.5 445.9L571.0 445.8L571.5 445.7L572.0 445.5L572.5 445.4L573.0 445.3L573.5 445.2L574.0 445.1L574.5 445.0L575.0 444.9L575.5 444.8L576.0 444.7L576.5 444.6L577.0 444.5L577.5 444.4L578.0 444.3L578.5 444.2L579.0 444.1L579.5 444.1L580.0 444.0L580.5 444.0L581.0 443.9L581.5 443.9L582.0 443.9L582.5 443.9L583.0 443.9L583.5 443.9L584.0 443.9L584.5 443.9L585.0 443.9L585.5 443.9L586.0 444.0L586.5 444.0L587.0 444.0L587.5 444.0L588.0 444.0L588.5 444.1L589.0 444.1L589.5 444.1L590.0 444.1L590.5 444.1L591.0 444.2L591.5 444.2L592.0 444.2L592.5 444.3L593.0 444.3L593.5 444.3L594.0 444.3L594.5 444.4L595.0 444.4L595.5 444.4L596.0 444.5L596.5 444.5L597.0 444.5L597.5 444.6L598.0 444.6L598.5 444.7L599.0 444.8L599.5 444.8L600.0 444.9L600.5 445.0L601.0 445.1L601.5 445.3L602.0 445.5L602.5 445.7L603.0 446.0L603.5 446.2L604.0 446.4L604.5 446.6L605.0 446.8L605.5 447.1L606.0 447.3L606.5 447.6L607.0 447.8L607.5 448.1L608.0 448.4L608.5 448.7L609.0 449.1L609.5 449.5L610.0 449.9L610.5 450.4L611.0 450.9L611.5 451.4L612.0 451.9L612.5 452.4L613.0 452.9L613.5 453.4L614.0 454.0L614.5 454.6L615.0 455.2L615.5 455.9L616.0 456.6L616.5 457.4L617.0 458.3L617.5 459.2L618.0 460.1L618.5 461.1L619.0 462.2L619.5 463.3L620.0 464.5L620.5 465.8L621.0 467.3L621.5 468.9L622.0 470.7L622.5 472.6L623.0 474.5L623.5 476.3L624.0 478.2L624.5 480.0L625.0 481.8L625.5 483.8L626.0 485.7L626.5 487.8L627.0 490.1L627.5 492.4L628.0 494.9L628.5 497.6L629.0 500.4L629.5 503.4L630.0 506.5L630.5 509.8L631.0 513.4L631.5 517.2L632.0 521.5L632.5 526.4L633.0 531.6L633.5 536.6L634.0 540.9L634.5 545.8L635.0 554.2L635.5 554.9L636.0 554.9L636.5 554.9L637.0 554.9L637.5 551.9L638.0 543.4L638.5 537.1L639.0 531.5L639.5 526.0L640.0 520.9L640.5 516.0L641.0 511.3L641.5 506.8L642.0 502.4L642.5 498.1L643.0 493.9L643.5 489.6L644.0 485.2L644.5 481.1L645.0 477.4L645.5 474.1L646.0 471.0L646.5 468.0L647.0 465.2L647.5 462.8L648.0 460.6L648.5 458.8L649.0 457.2L649.5 455.7L650.0 454.3L650.5 453.0L651.0 451.9L651.5 450.8L652.0 449.8L652.5 449.0L653.0 448.2L653.5 447.4L654.0 446.7L654.5 446.0L655.0 445.3L655.5 444.7L656.0 444.1L656.5 443.5L657.0 443.0L657.5 442.6L658.0 442.1L658.5 441.7L659.0 441.4L659.5 441.0L660.0 440.7L660.5 440.4L661.0 440.2L661.5 439.9L662.0 439.6L662.5 439.4L663.0 439.2L663.5 438.9L664.0 438.7L664.5 438.5L665.0 438.3L665.5 438.1L666.0 438.0L666.5 437.8L667.0 437.6L667.5 437.4L668.0 437.3L668.5 437.1L669.0 436.9L669.5 436.8L670.0 436.6L670.5 436.4L671.0 436.3L671.5 436.1L672.0 436.0L672.5 435.8L673.0 435.7L673.5 435.5L674.0 435.4L674.5 435.2L675.0 435.1L675.5 435.0L676.0 434.8L676.5 434.7L677.0 434.6L677.5 434.4L678.0 434.3L678.5 434.2L679.0 434.1L679.5 434.0L680.0 433.9L680.5 433.8L681.0 433.7L681.5 433.6L682.0 433.5L682.5 433.4L683.0 433.4"/>
<path d="M389.7 435.6L390.2 435.0L390.7 434.4L391.2 433.9L391.7 433.3L392.2 432.7L392.7 432.2L393.2 431.7L393.7 431.1L394.2 430.6L394.7 430.1L395.2 429.6L395.7 429.2L396.2 428.6L396.7 428.1L397.2 427.5L397.7 426.9L398.2 426.4L398.7 425.8L399.2 425.4L399.7 425.0L400.2 424.7L400.7 424.5L401.2 424.5L401.7 424.6L402.2 424.7L402.7 425.0L403.2 425.3L403.7 425.6L404.2 426.0L404.7 426.5L405.2 427.0L405.7 427.5L406.2 428.0L406.7 428.6L407.2 429.2L407.7 429.8L408.2 430.7L408.7 431.6L409.2 432.7L409.7 433.9L410.2 435.2L410.7 436.5L411.2 437.8L411.7 439.1L412.2 440.5L412.7 442.0L413.2 443.6L413.7 445.3L414.2 446.9L414.7 448.6L415.2 450.3L415.7 452.0L416.2 453.7L416.7 455.4L417.2 457.2L417.7 458.9L418.2 460.6L418.7 462.3L419.2 463.9L419.7 465.5L420.2 466.9L420.7 468.3L421.2 469.7L421.7 471.1L422.2 472.4L422.7 473.6L423.2 474.9L423.7 476.0L424.2 477.1L424.7 478.2L425.2 479.2L425.7 480.2L426.2 481.2L426.7 482.1L427.2 483.0L427.7 483.9L428.2 484.7L428.7 485.6L429.2 486.4L429.7 487.1L430.2 487.9L430.7 488.6L431.2 489.4L431.7 490.1L432.2 490.8L432.7 491.5L433.2 492.1L433.7 492.8L434.2 493.5L434.7 494.1L435.2 494.6L435.7 495.2L436.2 495.7L436.7 496.0L437.2 495.9L437.7 495.6L438.2 495.2L438.7 494.6L439.2 493.8L439.7 492.8L440.2 491.7L440.7 490.3L441.2 488.5L441.7 486.5L442.2 484.4L442.7 482.2L443.2 480.0L443.7 478.0L444.2 475.9L444.7 473.8L445.2 471.6L445.7 469.4L446.2 467.3L446.7 465.4L447.2 463.6L447.7 462.0L448.2 460.4L448.7 459.0L449.2 457.6L449.7 456.3L450.2 455.1L450.7 453.9L451.2 452.9L451.7 451.9L452.2 450.9L452.7 450.0L453.2 449.1L453.7 448.2L454.2 447.4L454.7 446.6L455.2 445.9L455.7 445.2L456.2 444.5L456.7 444.0L457.2 443.4L457.7 442.9L458.2 442.5L458.7 442.1L459.2 441.6L459.7 441.2L460.2 440.8L460.7 440.4L461.2 440.0L461.7 439.6L462.2 439.2L462.7 438.8L463.2 438.5L463.7 438.2L464.2 437.9L464.7 437.6L465.2 437.4L465.7 437.1L466.2 436.9L466.7 436.6L467.2 436.4L467.7 436.2L468.2 436.0L468.7 435.8L469.2 435.6L469.7 435.4L470.2 435.2L470.7 435.1L471.2 435.0L471.7 434.8L472.2 434.7L472.7 434.6L473.2 434.5L473.7 434.4L474.2 434.3L474.7 434.2L475.2 434.1L475.7 434.0L476.2 434.0L476.7 433.9L477.2 433.8L477.7 433.7L478.2 433.6L478.7 433.6L479.2 433.5L479.7 433.4L480.2 433.3L480.7 433.2L481.2 433.1L481.7 433.0L482.2 432.9L482.7 432.8L483.2 432.7L483.7 432.6L484.2 432.4L484.7 432.3L485.2 432.2L485.7 432.1L486.2 432.0L486.7 431.9L487.2 431.8L487.7 431.7L488.2 431.7L488.7 431.6L489.2 431.5L489.7 431.4L490.2 431.4L490.7 431.3L491.2 431.3L491.7 431.3L492.2 431.3L492.7 431.3L493.2 431.4L493.7 431.4L494.2 431.5L494.7 431.6L495.2 431.7L495.7 431.8L496.2 431.9L496.7 432.0L497.2 432.1L497.7 432.2L498.2 432.4L498.7 432.6L499.2 432.7L499.7 432.9L500.2 433.1L500.7 433.2L501.2 433.4L501.7 433.5L502.2 433.6L502.7 433.7L503.2 433.8L503.7 433.8L504.2 433.9L504.7 434.0L505.2 434.0L505.7 434.1L506.2 434.2L506.7 434.2L507.2 434.3L507.7 434.3L508.2 434.4L508.7 434.5L509.2 434.5L509.7 434.6L510.2 434.7L510.7 434.8L511.2 434.9L511.7 435.0L512.2 435.0L512.7 435.1L513.2 435.2L513.7 435.3L514.2 435.4L514.7 435.5L515.2 435.7L515.7 435.8L516.2 435.9L516.7 436.1L517.2 436.3L517.7 436.5L518.2 436.7L518.7 436.9L519.2 437.3L519.7 437.7L520.2 438.3L520.7 438.8L521.2 439.4L521.7 440.1L522.2 440.9L522.7 441.6L523.2 442.4L523.7 443.3L524.2 444.2L524.7 445.4L525.2 446.7L525.7 448.1L526.2 449.6L526.7 451.2L527.2 452.9L527.7 454.5L528.2 456.2L528.7 457.9L529.2 459.8L529.7 461.7L530.2 463.7L530.7 465.8L531.2 468.1L531.7 470.4L532.2 473.0L532.7 475.7L533.2 478.6L533.7 481.6L534.2 484.9L534.7 488.4L535.2 492.2L535.7 496.4L536.2 500.7L536.7 505.2L537.2 510.0L537.7 514.6L538.2 518.6L538.7 522.6L539.2 523.7L539.7 522.2L540.2 519.7L540.7 515.4L541.2 510.7L541.7 505.6L542.2 500.6L542.7 496.5L543.2 493.1L543.7 490.1L544.2 487.4L544.7 484.9L545.2 482.6L545.7 480.4L546.2 478.3L546.7 476.3L547.2 474.3L547.7 472.2L548.2 470.2L548.7 468.2L549.2 466.4L549.7 464.8L550.2 463.3L550.7 462.1L551.2 460.9L551.7 459.8L552.2 458.8L552.7 457.8L553.2 456.9L553.7 456.1L554.2 455.4L554.7 454.8L555.2 454.2L555.7 453.7L556.2 453.2L556.7 452.8L557.2 452.4L557.7 452.0L558.2 451.6L558.7 451.2L559.2 450.9L559.7 450.6L560.2 450.3L560.7 450.0L561.2 449.7L561.7 449.5L562.2 449.2L562.7 448.9L563.2 448.7L563.7 448.5L564.2 448.2L564.7 448.0L565.2 447.8L565.7 447.6L566.2 447.4L566.7 447.2L567.2 447.0L567.7 446.8L568.2 446.6L568.7 446.5L569.2 446.3L569.7 446.1L570.2 446.0L570.7 445.9L571.2 445.8L571.7 445.6L572.2 445.5L572.7 445.4L573.2 445.3L573.7 445.2L574.2 445.0L574.7 444.9L575.2 444.8L575.7 444.7L576.2 444.6L576.7 444.5L577.2 444.4L577.7 444.3L578.2 444.2L578.7 444.2L579.2 444.1L579.7 444.0L580.2 444.0L580.7 443.9L581.2 443.9L581.7 443.9L582.2 443.9L582.7 443.9L583.2 443.9L583.7 443.9L584.2 443.9L584.7 443.9L585.2 443.9L585.7 444.0L586.2 444.0L586.7 444.0L587.2 444.0L587.7 444.0L588.2 444.0L588.7 444.1L589.2 444.1L589.7 444.1L590.2 444.1L590.7 444.2L591.2 444.2L591.7 444.2L592.2 444.2L592.7 444.3L593.2 444.3L593.7 444.3L594.2 444.4L594.7 444.4L595.2 444.4L595.7 444.5L596.2 444.5L596.7 444.5L597.2 444.6L597.7 444.6L598.2 444.7L598.7 444.7L599.2 444.8L599.7 444.9L600.2 444.9L600.7 445.1L601.2 445.2L601.7 445.4L602.2 445.6L602.7 445.8L603.2 446.1L603.7 446.3L604.2 446.5L604.7 446.7L605.2 447.0L605.7 447.2L606.2 447.4L606.7 447.7L607.2 448.0L607.7 448.3L608.2 448.6L608.7 448.9L609.2 449.3L609.7 449.7L610.2 450.2L610.7 450.7L611.2 451.1L611.7 451.6L612.2 452.1L612.7 452.6L613.2 453.1L613.7 453.7L614.2 454.2L614.7 454.9L615.2 455.5L615.7 456.3L616.2 457.0L616.7 457.9L617.2 458.7L617.7 459.6L618.2 460.6L618.7 461.7L619.2 462.7L619.7 463.9L620.2 465.1L620.7 466.5L621.2 468.1L621.7 469.8L622.2 471.6L622.7 473.5L623.2 475.4L623.7 477.2L624.2 479.1L624.7 480.9L625.2 482.8L625.7 484.7L626.2 486.7L626.7 488.9L627.2 491.2L627.7 493.6L628.2 496.2L628.7 498.9L629.2 501.8L629.7 504.7L630.2 507.9L630.7 511.3L631.2 514.9L631.7 518.8L632.2 523.2L632.7 528.2L633.2 533.3L633.7 537.9L634.2 542.0L634.7 547.1L635.2 554.9L635.7 554.9L636.2 554.9L636.7 554.9L637.2 554.9L637.7 553.5L638.2 544.9L638.7 538.7L639.2 533.5L639.7 528.5L640.2 523.6L640.7 519.1L641.2 514.8L641.7 510.7L642.2 506.6L642.7 502.8L643.2 498.9L643.7 495.2L644.2 491.4L644.7 487.5L645.2 483.7L645.7 480.1L646.2 476.9L646.7 473.9L647.2 471.1L647.7 468.4L648.2 465.8L648.7 463.5L649.2 461.4L649.7 459.5L650.2 457.9L650.7 456.4L651.2 454.9L651.7 453.6L652.2 452.4L652.7 451.3L653.2 450.2L653.7 449.3L654.2 448.4L654.7 447.5L655.2 446.7L655.7 445.9L656.2 445.2L656.7 444.5L657.2 443.8L657.7 443.2L658.2 442.7L658.7 442.1L659.2 441.7L659.7 441.3L660.2 441.0L660.7 440.6L661.2 440.3L661.7 440.0L662.2 439.7L662.7 439.5L663.2 439.2L663.7 439.0L664.2 438.7L664.7 438.5L665.2 438.3L665.7 438.1L666.2 437.9L666.7 437.7L667.2 437.6L667.7 437.4L668.2 437.2L668.7 437.0L669.2 436.9L669.7 436.7L670.2 436.5L670.7 436.4L671.2 436.2L671.7 436.0L672.2 435.9L672.7 435.7L673.2 435.6L673.7 435.4L674.2 435.3L674.7 435.1L675.2 435.0L675.7 434.9L676.2 434.7L676.7 434.6L677.2 434.5L677.7 434.3L678.2 434.2L678.7 434.1L679.2 434.0L679.7 433.9L680.2 433.8L680.7 433.7L681.2 433.6L681.7 433.5L682.2 433.5L682.7 433.4L683.2 433.3"/>
</g>
<clipPath id="bx2"><rect x="388.00" y="426.60" width="296.00" height="124.00"/></clipPath>
<path clip-path="url(#bx2)" d="M390.0 435.6L390.5 435.1L391.0 434.5L391.5 434.0L392.0 433.5L392.5 433.0L393.0 432.6L393.5 432.1L394.0 431.6L394.5 431.1L395.0 430.7L395.5 430.3L396.0 429.8L396.5 429.4L396.9 429.0M407.6 429.0L408.0 429.6L408.5 430.4L409.0 431.4L409.5 432.6L410.0 433.9L410.5 435.2L411.0 436.6L411.5 438.1L412.0 439.5L412.5 441.0L413.0 442.5L413.5 444.2L414.0 445.9L414.5 447.6L415.0 449.4L415.5 451.1L416.0 452.8L416.5 454.5L417.0 456.2L417.5 458.0L418.0 459.8L418.5 461.5L419.0 463.1L419.5 464.7L420.0 466.2L420.5 467.6L421.0 469.0L421.5 470.4L422.0 471.7L422.5 473.0L423.0 474.3L423.5 475.4L424.0 476.6L424.5 477.7L425.0 478.7L425.5 479.7L426.0 480.7L426.5 481.7L427.0 482.6L427.5 483.5L428.0 484.3L428.5 485.1L429.0 486.0L429.5 486.7L430.0 487.5L430.5 488.3L431.0 489.0L431.5 489.7L432.0 490.4L432.5 491.1L433.0 491.8L433.5 492.5L434.0 493.2L434.5 493.8L435.0 494.4L435.5 494.9L436.0 495.4L436.5 495.9L437.0 496.0L437.5 495.8L438.0 495.4L438.5 494.9L439.0 494.3L439.5 493.4L440.0 492.3L440.5 491.0L441.0 489.4L441.5 487.5L442.0 485.4L442.5 483.3L443.0 481.1L443.5 479.0L444.0 477.0L444.5 474.8L445.0 472.7L445.5 470.5L446.0 468.4L446.5 466.3L447.0 464.4L447.5 462.7L448.0 461.1L448.5 459.6L449.0 458.2L449.5 456.9L450.0 455.6L450.5 454.4L451.0 453.2L451.5 452.1L452.0 451.0L452.5 450.0L453.0 449.0L453.5 448.1L454.0 447.2L454.5 446.3L455.0 445.5L455.5 444.7L456.0 443.9L456.5 443.2L457.0 442.5L457.5 441.9L458.0 441.3L458.5 440.8L459.0 440.3L459.5 439.8L460.0 439.3L460.5 438.8L461.0 438.3L461.5 437.8L462.0 437.4L462.5 437.0L463.0 436.6L463.5 436.3L464.0 436.1L464.5 435.9L465.0 435.7L465.5 435.6L466.0 435.4L466.5 435.3L467.0 435.1L467.5 435.0L468.0 434.9L468.5 434.8L469.0 434.7L469.5 434.6L470.0 434.5L470.5 434.4L471.0 434.3L471.5 434.2L472.0 434.1L472.5 434.1L473.0 434.0L473.5 433.9L474.0 433.9L474.5 433.8L475.0 433.8L475.5 433.7L476.0 433.7L476.5 433.6L477.0 433.6L477.5 433.5L478.0 433.5L478.5 433.4L479.0 433.4L479.5 433.3L480.0 433.3L480.5 433.2L481.0 433.1L481.5 433.0L482.0 433.0L482.5 432.9L483.0 432.8L483.5 432.6L484.0 432.5L484.5 432.4L485.0 432.3L485.5 432.2L486.0 432.0L486.5 431.9L487.0 431.9L487.5 431.8L488.0 431.7L488.5 431.6L489.0 431.5L489.5 431.5L490.0 431.4L490.5 431.4L491.0 431.3L491.5 431.3L492.0 431.3L492.5 431.3L493.0 431.4L493.5 431.4L494.0 431.5L494.5 431.6L495.0 431.7L495.5 431.7L496.0 431.8L496.5 431.9L497.0 432.0L497.5 432.2L498.0 432.3L498.5 432.5L499.0 432.6L499.5 432.8L500.0 433.0L500.5 433.2L501.0 433.3L501.5 433.4L502.0 433.5L502.5 433.6L503.0 433.7L503.5 433.8L504.0 433.9L504.5 433.9L505.0 434.0L505.5 434.1L506.0 434.1L506.5 434.2L507.0 434.2L507.5 434.3L508.0 434.4L508.5 434.4L509.0 434.5L509.5 434.6L510.0 434.6L510.5 434.7L511.0 434.8L511.5 434.9L512.0 435.0L512.5 435.1L513.0 435.2L513.5 435.3L514.0 435.4L514.5 435.5L515.0 435.6L515.5 435.7L516.0 435.9L516.5 436.0L517.0 436.2L517.5 436.4L518.0 436.6L518.5 436.8L519.0 437.1L519.5 437.5L520.0 438.0L520.5 438.5L521.0 439.1L521.5 439.8L522.0 440.5L522.5 441.2L523.0 442.0L523.5 442.8L524.0 443.7L524.5 444.8L525.0 446.0L525.5 447.4L526.0 448.9L526.5 450.4L527.0 452.0L527.5 453.7L528.0 455.4L528.5 457.1L529.0 458.8L529.5 460.7L530.0 462.7L530.5 464.8L531.0 466.9L531.5 469.2L532.0 471.7L532.5 474.3L533.0 477.1L533.5 480.1L534.0 483.3L534.5 486.6L535.0 490.3L535.5 494.3L536.0 498.5L536.5 502.9L537.0 507.6L537.5 512.3L538.0 516.6L538.5 520.7L539.0 523.7L539.5 523.1L540.0 521.0L540.5 517.7L541.0 512.9L541.5 508.1L542.0 503.0L542.5 498.3L543.0 494.6L543.5 491.4L544.0 488.5L544.5 485.9L545.0 483.5L545.5 481.2L546.0 479.1L546.5 476.9L547.0 474.9L547.5 472.7L548.0 470.6L548.5 468.6L549.0 466.6L549.5 464.8L550.0 463.1L550.5 461.7L551.0 460.5L551.5 459.2L552.0 458.1L552.5 457.0L553.0 456.0L553.5 455.1L554.0 454.3L554.5 453.6L555.0 453.0L555.5 452.5L556.0 452.1L556.5 451.6L557.0 451.3L557.5 450.9L558.0 450.5L558.5 450.2L559.0 449.9L559.5 449.7L560.0 449.4L560.5 449.1L561.0 448.9L561.5 448.7L562.0 448.5L562.5 448.3L563.0 448.1L563.5 447.9L564.0 447.7L564.5 447.5L565.0 447.4L565.5 447.2L566.0 447.0L566.5 446.9L567.0 446.8L567.5 446.6L568.0 446.5L568.5 446.4L569.0 446.2L569.5 446.1L570.0 446.0L570.5 445.9L571.0 445.8L571.5 445.7L572.0 445.5L572.5 445.4L573.0 445.3L573.5 445.2L574.0 445.1L574.5 445.0L575.0 444.9L575.5 444.8L576.0 444.7L576.5 444.6L577.0 444.5L577.5 444.4L578.0 444.3L578.5 444.2L579.0 444.1L579.5 444.1L580.0 444.0L580.5 444.0L581.0 443.9L581.5 443.9L582.0 443.9L582.5 443.9L583.0 443.9L583.5 443.9L584.0 443.9L584.5 443.9L585.0 443.9L585.5 443.9L586.0 444.0L586.5 444.0L587.0 444.0L587.5 444.0L588.0 444.0L588.5 444.1L589.0 444.1L589.5 444.1L590.0 444.1L590.5 444.1L591.0 444.2L591.5 444.2L592.0 444.2L592.5 444.3L593.0 444.3L593.5 444.3L594.0 444.3L594.5 444.4L595.0 444.4L595.5 444.4L596.0 444.5L596.5 444.5L597.0 444.5L597.5 444.6L598.0 444.6L598.5 444.7L599.0 444.8L599.5 444.8L600.0 444.9L600.5 445.0L601.0 445.1L601.5 445.3L602.0 445.5L602.5 445.7L603.0 446.0L603.5 446.2L604.0 446.4L604.5 446.6L605.0 446.8L605.5 447.1L606.0 447.3L606.5 447.6L607.0 447.8L607.5 448.1L608.0 448.4L608.5 448.7L609.0 449.1L609.5 449.5L610.0 449.9L610.5 450.4L611.0 450.9L611.5 451.4L612.0 451.9L612.5 452.4L613.0 452.9L613.5 453.4L614.0 454.0L614.5 454.6L615.0 455.2L615.5 455.9L616.0 456.6L616.5 457.4L617.0 458.3L617.5 459.2L618.0 460.1L618.5 461.1L619.0 462.2L619.5 463.3L620.0 464.5L620.5 465.8L621.0 467.3L621.5 468.9L622.0 470.7L622.5 472.6L623.0 474.5L623.5 476.3L624.0 478.2L624.5 480.0L625.0 481.8L625.5 483.8L626.0 485.7L626.5 487.8L627.0 490.1L627.5 492.4L628.0 494.9L628.5 497.6L629.0 500.4L629.5 503.4L630.0 506.5L630.5 509.8L631.0 513.4L631.5 517.2L632.0 521.5L632.5 526.4L633.0 531.6L633.5 536.6L634.0 540.9L634.5 545.8L635.0 554.2L635.5 572.5L636.0 588.1L636.5 586.2L637.0 569.1L637.5 551.9L638.0 543.4L638.5 537.1L639.0 531.5L639.5 526.0L640.0 520.9L640.5 516.0L641.0 511.3L641.5 506.8L642.0 502.4L642.5 498.1L643.0 493.9L643.5 489.6L644.0 485.2L644.5 481.1L645.0 477.4L645.5 474.1L646.0 471.0L646.5 468.0L647.0 465.2L647.5 462.8L648.0 460.6L648.5 458.8L649.0 457.2L649.5 455.7L650.0 454.3L650.5 453.0L651.0 451.9L651.5 450.8L652.0 449.8L652.5 449.0L653.0 448.2L653.5 447.4L654.0 446.7L654.5 446.0L655.0 445.3L655.5 444.7L656.0 444.1L656.5 443.5L657.0 443.0L657.5 442.6L658.0 442.1L658.5 441.7L659.0 441.4L659.5 441.0L660.0 440.7L660.5 440.4L661.0 440.2L661.5 439.9L662.0 439.6L662.5 439.4L663.0 439.2L663.5 438.9L664.0 438.7L664.5 438.5L665.0 438.3L665.5 438.1L666.0 438.0L666.5 437.8L667.0 437.6L667.5 437.4L668.0 437.3L668.5 437.1L669.0 436.9L669.5 436.8L670.0 436.6L670.5 436.4L671.0 436.3L671.5 436.1L672.0 436.0L672.5 435.8L673.0 435.7L673.5 435.5L674.0 435.4L674.5 435.2L675.0 435.1L675.5 435.0L676.0 434.8L676.5 434.7L677.0 434.6L677.5 434.4L678.0 434.3L678.5 434.2L679.0 434.1L679.5 434.0L680.0 433.9L680.5 433.8L681.0 433.7L681.5 433.6L682.0 433.5L682.5 433.4L683.0 433.4" fill="none" stroke="#0000ff" stroke-width="3.2" stroke-linejoin="round" stroke-linecap="round"/>
<line x1="424.60" y1="489.75" x2="436.30" y2="489.75" stroke="#ff0000" stroke-width="3" stroke-linecap="butt"/>
<line x1="535.10" y1="489.75" x2="542.60" y2="489.75" stroke="#ff0000" stroke-width="3" stroke-linecap="butt"/>
<line x1="625.00" y1="489.75" x2="644.60" y2="489.75" stroke="#ff0000" stroke-width="3" stroke-linecap="butt"/>
</svg></body></html>
